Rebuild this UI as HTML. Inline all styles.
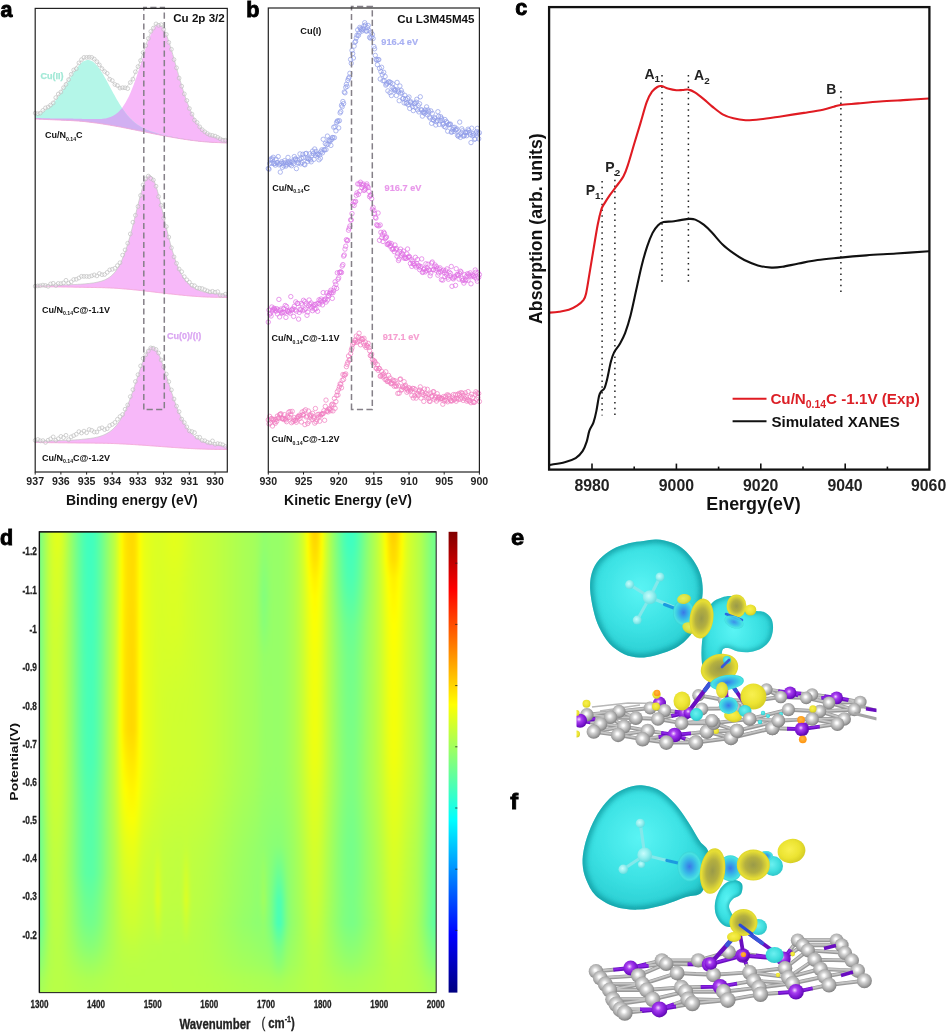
<!DOCTYPE html>
<html><head><meta charset="utf-8"><title>figure</title>
<style>
html,body{margin:0;padding:0;background:#fff;}
body{width:947px;height:1032px;position:relative;overflow:hidden;font-family:"Liberation Sans",sans-serif;}
#hm{position:absolute;left:39.4px;top:531.8px;width:396.8px;height:460.8px;overflow:hidden}
#hmi{position:absolute;left:-6px;top:-6px;width:409px;height:473px;filter:blur(0.8px)}
#hmi i{position:absolute;top:0;height:473px;display:block}
svg{position:absolute;left:0;top:0;filter:blur(0.45px)}
text{font-family:"Liberation Sans",sans-serif;font-weight:bold}
</style></head><body>
<div id="hm"><div id="hmi"><i style="left:0px;width:2.6px;background:linear-gradient(#88ff77 1.3%,#88ff77 4.2%,#88ff77 7.1%,#88ff77 11%,#88ff77 14.9%,#88ff77 20.8%,#88ff77 27.6%,#88ff77 35.4%,#88ff77 43.2%,#88ff77 50%,#85ff7a 55.8%,#80ff7f 61.7%,#7bff84 67.5%,#78ff87 73.4%,#77ff88 79.2%,#73ff8c 84.1%,#84ff7b 88.9%,#93ff6c 92.8%,#a3ff5c 95.8%,#a9ff56 98.7%)"></i><i style="left:2px;width:2.6px;background:linear-gradient(#7cff83 1.3%,#7cff83 4.2%,#7cff83 7.1%,#7cff83 11%,#7cff83 14.9%,#7cff83 20.8%,#7cff83 27.6%,#7cff83 35.4%,#7cff83 43.2%,#7cff83 50%,#7aff85 55.8%,#75ff8a 61.7%,#70ff8f 67.5%,#6dff92 73.4%,#6bff94 79.2%,#68ff97 84.1%,#7cff83 88.9%,#8dff72 92.8%,#a0ff5f 95.8%,#a7ff58 98.7%)"></i><i style="left:4px;width:2.6px;background:linear-gradient(#78ff87 1.3%,#78ff87 4.2%,#78ff87 7.1%,#78ff87 11%,#78ff87 14.9%,#78ff87 20.8%,#78ff87 27.6%,#78ff87 35.4%,#78ff87 43.2%,#78ff87 50%,#76ff89 55.8%,#71ff8e 61.7%,#6cff93 67.5%,#69ff96 73.4%,#67ff98 79.2%,#64ff9b 84.1%,#79ff86 88.9%,#8bff74 92.8%,#9fff60 95.8%,#a6ff59 98.7%)"></i><i style="left:6px;width:2.6px;background:linear-gradient(#7dff82 1.3%,#7dff82 4.2%,#7dff82 7.1%,#7dff82 11%,#7dff82 14.9%,#7dff82 20.8%,#7dff82 27.6%,#7dff82 35.4%,#7dff82 43.2%,#7dff82 50%,#7bff84 55.8%,#76ff89 61.7%,#71ff8e 67.5%,#6eff91 73.4%,#6cff93 79.2%,#69ff96 84.1%,#7dff82 88.9%,#8dff72 92.8%,#a0ff5f 95.8%,#a7ff58 98.7%)"></i><i style="left:8px;width:2.6px;background:linear-gradient(#8aff75 1.3%,#8aff75 4.2%,#8aff75 7.1%,#8aff75 11%,#8aff75 14.9%,#89ff76 20.8%,#89ff76 27.6%,#89ff76 35.4%,#89ff76 43.2%,#89ff76 50%,#87ff78 55.8%,#82ff7d 61.7%,#7dff82 67.5%,#7aff85 73.4%,#79ff86 79.2%,#75ff8a 84.1%,#86ff79 88.9%,#94ff6b 92.8%,#a3ff5c 95.8%,#aaff55 98.7%)"></i><i style="left:10px;width:2.6px;background:linear-gradient(#9bff64 1.3%,#9bff64 4.2%,#9aff65 7.1%,#9aff65 11%,#9aff65 14.9%,#9aff65 20.8%,#99ff66 27.6%,#99ff66 35.4%,#99ff66 43.2%,#99ff66 50%,#97ff68 55.8%,#92ff6d 61.7%,#8dff72 67.5%,#8aff75 73.4%,#89ff76 79.2%,#86ff79 84.1%,#91ff6e 88.9%,#9cff63 92.8%,#a8ff57 95.8%,#adff52 98.7%)"></i><i style="left:12px;width:2.6px;background:linear-gradient(#adff52 1.3%,#acff53 4.2%,#acff53 7.1%,#abff54 11%,#abff54 14.9%,#aaff55 20.8%,#aaff55 27.6%,#aaff55 35.4%,#aaff55 43.2%,#aaff55 50%,#a8ff57 55.8%,#a3ff5c 61.7%,#9eff61 67.5%,#9bff64 73.4%,#99ff66 79.2%,#96ff69 84.1%,#9dff62 88.9%,#a5ff5a 92.8%,#adff52 95.8%,#b0ff4f 98.7%)"></i><i style="left:14px;width:2.6px;background:linear-gradient(#bdff42 1.3%,#bcff43 4.2%,#bcff43 7.1%,#bbff44 11%,#baff45 14.9%,#b9ff46 20.8%,#b8ff47 27.6%,#b8ff47 35.4%,#b8ff47 43.2%,#b8ff47 50%,#b6ff49 55.8%,#b1ff4e 61.7%,#acff53 67.5%,#a9ff56 73.4%,#a8ff57 79.2%,#a4ff5b 84.1%,#a8ff57 88.9%,#acff53 92.8%,#b1ff4e 95.8%,#b3ff4c 98.7%)"></i><i style="left:16px;width:2.6px;background:linear-gradient(#cbff34 1.3%,#caff35 4.2%,#c8ff37 7.1%,#c7ff38 11%,#c6ff39 14.9%,#c4ff3b 20.8%,#c2ff3d 27.6%,#c2ff3d 35.4%,#c2ff3d 43.2%,#c2ff3d 50%,#c0ff3f 55.8%,#bbff44 61.7%,#b6ff49 67.5%,#b3ff4c 73.4%,#b2ff4d 79.2%,#afff50 84.1%,#b0ff4f 88.9%,#b2ff4d 92.8%,#b4ff4b 95.8%,#b5ff4a 98.7%)"></i><i style="left:18px;width:2.6px;background:linear-gradient(#d5ff2a 1.3%,#d4ff2b 4.2%,#d2ff2d 7.1%,#d0ff2f 11%,#cfff30 14.9%,#cbff34 20.8%,#c9ff36 27.6%,#c9ff36 35.4%,#c9ff36 43.2%,#c9ff36 50%,#c7ff38 55.8%,#c2ff3d 61.7%,#bdff42 67.5%,#baff45 73.4%,#b9ff46 79.2%,#b6ff49 84.1%,#b5ff4a 88.9%,#b5ff4a 92.8%,#b6ff49 95.8%,#b7ff48 98.7%)"></i><i style="left:20px;width:2.6px;background:linear-gradient(#ddff22 1.3%,#dbff24 4.2%,#d8ff27 7.1%,#d6ff29 11%,#d4ff2b 14.9%,#cfff30 20.8%,#cdff32 27.6%,#cdff32 35.4%,#cdff32 43.2%,#ccff33 50%,#caff35 55.8%,#c6ff39 61.7%,#c1ff3e 67.5%,#beff41 73.4%,#bdff42 79.2%,#baff45 84.1%,#b7ff48 88.9%,#b7ff48 92.8%,#b8ff47 95.8%,#b8ff47 98.7%)"></i><i style="left:22px;width:2.6px;background:linear-gradient(#e1ff1e 1.3%,#dfff20 4.2%,#dbff24 7.1%,#d8ff27 11%,#d6ff29 14.9%,#d0ff2f 20.8%,#cdff32 27.6%,#cdff32 35.4%,#cdff32 43.2%,#cdff32 50%,#cbff34 55.8%,#c7ff38 61.7%,#c2ff3d 67.5%,#bfff40 73.4%,#beff41 79.2%,#bbff44 84.1%,#b9ff46 88.9%,#b8ff47 92.8%,#b8ff47 95.8%,#b8ff47 98.7%)"></i><i style="left:24px;width:2.6px;background:linear-gradient(#e2ff1d 1.3%,#e0ff1f 4.2%,#dbff24 7.1%,#d8ff27 11%,#d6ff29 14.9%,#cfff30 20.8%,#ccff33 27.6%,#ccff33 35.4%,#ccff33 43.2%,#ccff33 50%,#caff35 55.8%,#c6ff39 61.7%,#c1ff3e 67.5%,#beff41 73.4%,#beff41 79.2%,#bbff44 84.1%,#b9ff46 88.9%,#b8ff47 92.8%,#b8ff47 95.8%,#b8ff47 98.7%)"></i><i style="left:26px;width:2.6px;background:linear-gradient(#deff21 1.3%,#dcff23 4.2%,#d7ff28 7.1%,#d4ff2b 11%,#d2ff2d 14.9%,#cbff34 20.8%,#c8ff37 27.6%,#c8ff37 35.4%,#c8ff37 43.2%,#c8ff37 50%,#c7ff38 55.8%,#c3ff3c 61.7%,#beff41 67.5%,#bbff44 73.4%,#bbff44 79.2%,#b9ff46 84.1%,#b7ff48 88.9%,#b8ff47 92.8%,#b8ff47 95.8%,#b8ff47 98.7%)"></i><i style="left:28px;width:2.6px;background:linear-gradient(#d6ff29 1.3%,#d4ff2b 4.2%,#d0ff2f 7.1%,#cdff32 11%,#cbff34 14.9%,#c5ff3a 20.8%,#c3ff3c 27.6%,#c3ff3c 35.4%,#c3ff3c 43.2%,#c3ff3c 50%,#c2ff3d 55.8%,#beff41 61.7%,#b9ff46 67.5%,#b7ff48 73.4%,#b8ff47 79.2%,#b6ff49 84.1%,#b5ff4a 88.9%,#b7ff48 92.8%,#b8ff47 95.8%,#b8ff47 98.7%)"></i><i style="left:30px;width:2.6px;background:linear-gradient(#caff35 1.3%,#c9ff36 4.2%,#c6ff39 7.1%,#c3ff3c 11%,#c2ff3d 14.9%,#bdff42 20.8%,#bbff44 27.6%,#bcff43 35.4%,#bcff43 43.2%,#bcff43 50%,#bbff44 55.8%,#b8ff47 61.7%,#b4ff4b 67.5%,#b2ff4d 73.4%,#b3ff4c 79.2%,#b2ff4d 84.1%,#b2ff4d 88.9%,#b5ff4a 92.8%,#b7ff48 95.8%,#b7ff48 98.7%)"></i><i style="left:32px;width:2.6px;background:linear-gradient(#bdff42 1.3%,#bcff43 4.2%,#b9ff46 7.1%,#b8ff47 11%,#b7ff48 14.9%,#b4ff4b 20.8%,#b2ff4d 27.6%,#b3ff4c 35.4%,#b3ff4c 43.2%,#b4ff4b 50%,#b3ff4c 55.8%,#b0ff4f 61.7%,#adff52 67.5%,#abff54 73.4%,#adff52 79.2%,#adff52 84.1%,#afff50 88.9%,#b3ff4c 92.8%,#b6ff49 95.8%,#b7ff48 98.7%)"></i><i style="left:34px;width:2.6px;background:linear-gradient(#afff50 1.3%,#aeff51 4.2%,#acff53 7.1%,#abff54 11%,#abff54 14.9%,#a9ff56 20.8%,#a9ff56 27.6%,#a9ff56 35.4%,#a9ff56 43.2%,#aaff55 50%,#aaff55 55.8%,#a8ff57 61.7%,#a5ff5a 67.5%,#a3ff5c 73.4%,#a7ff58 79.2%,#a7ff58 84.1%,#abff54 88.9%,#b1ff4e 92.8%,#b5ff4a 95.8%,#b6ff49 98.7%)"></i><i style="left:36px;width:2.6px;background:linear-gradient(#a0ff5f 1.3%,#a0ff5f 4.2%,#9fff60 7.1%,#9fff60 11%,#9fff60 14.9%,#9eff61 20.8%,#9eff61 27.6%,#9eff61 35.4%,#9fff60 43.2%,#a0ff5f 50%,#a1ff5e 55.8%,#9fff60 61.7%,#9cff63 67.5%,#9bff64 73.4%,#a0ff5f 79.2%,#a2ff5d 84.1%,#a7ff58 88.9%,#afff50 92.8%,#b4ff4b 95.8%,#b6ff49 98.7%)"></i><i style="left:38px;width:2.6px;background:linear-gradient(#92ff6d 1.3%,#92ff6d 4.2%,#92ff6d 7.1%,#92ff6d 11%,#92ff6d 14.9%,#92ff6d 20.8%,#92ff6d 27.6%,#93ff6c 35.4%,#94ff6b 43.2%,#95ff6a 50%,#97ff68 55.8%,#96ff69 61.7%,#93ff6c 67.5%,#93ff6c 73.4%,#99ff66 79.2%,#9bff64 84.1%,#a3ff5c 88.9%,#acff53 92.8%,#b3ff4c 95.8%,#b5ff4a 98.7%)"></i><i style="left:40px;width:2.6px;background:linear-gradient(#85ff7a 1.3%,#85ff7a 4.2%,#85ff7a 7.1%,#85ff7a 11%,#85ff7a 14.9%,#86ff79 20.8%,#87ff78 27.6%,#88ff77 35.4%,#88ff77 43.2%,#8aff75 50%,#8cff73 55.8%,#8cff73 61.7%,#8aff75 67.5%,#8aff75 73.4%,#92ff6d 79.2%,#95ff6a 84.1%,#9fff60 88.9%,#aaff55 92.8%,#b2ff4d 95.8%,#b4ff4b 98.7%)"></i><i style="left:42px;width:2.6px;background:linear-gradient(#78ff87 1.3%,#78ff87 4.2%,#78ff87 7.1%,#78ff87 11%,#79ff86 14.9%,#7aff85 20.8%,#7bff84 27.6%,#7cff83 35.4%,#7cff83 43.2%,#7eff81 50%,#81ff7e 55.8%,#82ff7d 61.7%,#81ff7e 67.5%,#81ff7e 73.4%,#8aff75 79.2%,#8fff70 84.1%,#9bff64 88.9%,#a8ff57 92.8%,#b1ff4e 95.8%,#b4ff4b 98.7%)"></i><i style="left:44px;width:2.6px;background:linear-gradient(#6bff94 1.3%,#6bff94 4.2%,#6cff93 7.1%,#6cff93 11%,#6dff92 14.9%,#6eff91 20.8%,#6fff90 27.6%,#70ff8f 35.4%,#71ff8e 43.2%,#73ff8c 50%,#77ff88 55.8%,#78ff87 61.7%,#77ff88 67.5%,#78ff87 73.4%,#83ff7c 79.2%,#89ff76 84.1%,#96ff69 88.9%,#a6ff59 92.8%,#b0ff4f 95.8%,#b3ff4c 98.7%)"></i><i style="left:46px;width:2.6px;background:linear-gradient(#60ff9f 1.3%,#60ff9f 4.2%,#60ff9f 7.1%,#60ff9f 11%,#61ff9e 14.9%,#62ff9d 20.8%,#64ff9b 27.6%,#65ff9a 35.4%,#66ff99 43.2%,#68ff97 50%,#6dff92 55.8%,#6fff90 61.7%,#6fff90 67.5%,#70ff8f 73.4%,#7cff83 79.2%,#83ff7c 84.1%,#92ff6d 88.9%,#a3ff5c 92.8%,#afff50 95.8%,#b3ff4c 98.7%)"></i><i style="left:48px;width:2.6px;background:linear-gradient(#55ffaa 1.3%,#55ffaa 4.2%,#56ffa9 7.1%,#56ffa9 11%,#57ffa8 14.9%,#58ffa7 20.8%,#5affa5 27.6%,#5bffa4 35.4%,#5cffa3 43.2%,#5fffa0 50%,#64ff9b 55.8%,#67ff98 61.7%,#67ff98 67.5%,#68ff97 73.4%,#76ff89 79.2%,#7dff82 84.1%,#8fff70 88.9%,#a2ff5d 92.8%,#afff50 95.8%,#b2ff4d 98.7%)"></i><i style="left:50px;width:2.6px;background:linear-gradient(#4cffb3 1.3%,#4dffb2 4.2%,#4dffb2 7.1%,#4dffb2 11%,#4effb1 14.9%,#50ffaf 20.8%,#51ffae 27.6%,#53ffac 35.4%,#54ffab 43.2%,#57ffa8 50%,#5cffa3 55.8%,#60ff9f 61.7%,#60ff9f 67.5%,#62ff9d 73.4%,#70ff8f 79.2%,#79ff86 84.1%,#8cff73 88.9%,#a0ff5f 92.8%,#aeff51 95.8%,#b2ff4d 98.7%)"></i><i style="left:52px;width:2.6px;background:linear-gradient(#46ffb9 1.3%,#46ffb9 4.2%,#46ffb9 7.1%,#47ffb8 11%,#48ffb7 14.9%,#49ffb6 20.8%,#4bffb4 27.6%,#4dffb2 35.4%,#4effb1 43.2%,#50ffaf 50%,#56ffa9 55.8%,#5bffa4 61.7%,#5bffa4 67.5%,#5dffa2 73.4%,#6cff93 79.2%,#76ff89 84.1%,#8aff75 88.9%,#9fff60 92.8%,#adff52 95.8%,#b2ff4d 98.7%)"></i><i style="left:54px;width:2.6px;background:linear-gradient(#42ffbd 1.3%,#42ffbd 4.2%,#42ffbd 7.1%,#43ffbc 11%,#44ffbb 14.9%,#45ffba 20.8%,#47ffb8 27.6%,#49ffb6 35.4%,#4affb5 43.2%,#4dffb2 50%,#53ffac 55.8%,#57ffa8 61.7%,#58ffa7 67.5%,#5bffa4 73.4%,#6aff95 79.2%,#74ff8b 84.1%,#88ff77 88.9%,#9eff61 92.8%,#adff52 95.8%,#b2ff4d 98.7%)"></i><i style="left:56px;width:2.6px;background:linear-gradient(#40ffbf 1.3%,#41ffbe 4.2%,#41ffbe 7.1%,#41ffbe 11%,#42ffbd 14.9%,#44ffbb 20.8%,#46ffb9 27.6%,#48ffb7 35.4%,#49ffb6 43.2%,#4bffb4 50%,#52ffad 55.8%,#56ffa9 61.7%,#57ffa8 67.5%,#5affa5 73.4%,#69ff96 79.2%,#73ff8c 84.1%,#88ff77 88.9%,#9eff61 92.8%,#adff52 95.8%,#b1ff4e 98.7%)"></i><i style="left:58px;width:2.6px;background:linear-gradient(#42ffbd 1.3%,#42ffbd 4.2%,#42ffbd 7.1%,#43ffbc 11%,#44ffbb 14.9%,#45ffba 20.8%,#47ffb8 27.6%,#49ffb6 35.4%,#4affb5 43.2%,#4dffb2 50%,#53ffac 55.8%,#57ffa8 61.7%,#58ffa7 67.5%,#5bffa4 73.4%,#6aff95 79.2%,#74ff8b 84.1%,#88ff77 88.9%,#9eff61 92.8%,#adff52 95.8%,#b2ff4d 98.7%)"></i><i style="left:60px;width:2.6px;background:linear-gradient(#46ffb9 1.3%,#46ffb9 4.2%,#47ffb8 7.1%,#47ffb8 11%,#48ffb7 14.9%,#4affb5 20.8%,#4bffb4 27.6%,#4dffb2 35.4%,#4effb1 43.2%,#51ffae 50%,#57ffa8 55.8%,#5bffa4 61.7%,#5cffa3 67.5%,#5effa1 73.4%,#6dff92 79.2%,#76ff89 84.1%,#8aff75 88.9%,#9fff60 92.8%,#adff52 95.8%,#b2ff4d 98.7%)"></i><i style="left:62px;width:2.6px;background:linear-gradient(#4dffb2 1.3%,#4dffb2 4.2%,#4effb1 7.1%,#4effb1 11%,#4fffb0 14.9%,#50ffaf 20.8%,#52ffad 27.6%,#54ffab 35.4%,#55ffaa 43.2%,#57ffa8 50%,#5dffa2 55.8%,#61ff9e 61.7%,#61ff9e 67.5%,#63ff9c 73.4%,#71ff8e 79.2%,#79ff86 84.1%,#8cff73 88.9%,#a0ff5f 92.8%,#aeff51 95.8%,#b2ff4d 98.7%)"></i><i style="left:64px;width:2.6px;background:linear-gradient(#57ffa8 1.3%,#57ffa8 4.2%,#57ffa8 7.1%,#57ffa8 11%,#58ffa7 14.9%,#59ffa6 20.8%,#5bffa4 27.6%,#5dffa2 35.4%,#5dffa2 43.2%,#60ff9f 50%,#65ff9a 55.8%,#68ff97 61.7%,#68ff97 67.5%,#69ff96 73.4%,#76ff89 79.2%,#7eff81 84.1%,#8fff70 88.9%,#a2ff5d 92.8%,#afff50 95.8%,#b2ff4d 98.7%)"></i><i style="left:66px;width:2.6px;background:linear-gradient(#61ff9e 1.3%,#62ff9d 4.2%,#62ff9d 7.1%,#62ff9d 11%,#63ff9c 14.9%,#64ff9b 20.8%,#66ff99 27.6%,#67ff98 35.4%,#68ff97 43.2%,#6aff95 50%,#6eff91 55.8%,#71ff8e 61.7%,#70ff8f 67.5%,#71ff8e 73.4%,#7dff82 79.2%,#83ff7c 84.1%,#93ff6c 88.9%,#a4ff5b 92.8%,#afff50 95.8%,#b3ff4c 98.7%)"></i><i style="left:68px;width:2.6px;background:linear-gradient(#6eff91 1.3%,#6eff91 4.2%,#6eff91 7.1%,#6eff91 11%,#6fff90 14.9%,#70ff8f 20.8%,#71ff8e 27.6%,#73ff8c 35.4%,#73ff8c 43.2%,#75ff8a 50%,#79ff86 55.8%,#7aff85 61.7%,#79ff86 67.5%,#79ff86 73.4%,#84ff7b 79.2%,#89ff76 84.1%,#97ff68 88.9%,#a6ff59 92.8%,#b0ff4f 95.8%,#b3ff4c 98.7%)"></i><i style="left:70px;width:2.6px;background:linear-gradient(#7bff84 1.3%,#7bff84 4.2%,#7bff84 7.1%,#7bff84 11%,#7cff83 14.9%,#7dff82 20.8%,#7eff81 27.6%,#7fff80 35.4%,#80ff7f 43.2%,#81ff7e 50%,#84ff7b 55.8%,#85ff7a 61.7%,#83ff7c 67.5%,#82ff7d 73.4%,#8bff74 79.2%,#90ff6f 84.1%,#9bff64 88.9%,#a8ff57 92.8%,#b1ff4e 95.8%,#b4ff4b 98.7%)"></i><i style="left:72px;width:2.6px;background:linear-gradient(#88ff77 1.3%,#88ff77 4.2%,#88ff77 7.1%,#88ff77 11%,#89ff76 14.9%,#8aff75 20.8%,#8bff74 27.6%,#8cff73 35.4%,#8cff73 43.2%,#8eff71 50%,#90ff6f 55.8%,#8fff70 61.7%,#8cff73 67.5%,#8cff73 73.4%,#93ff6c 79.2%,#96ff69 84.1%,#9fff60 88.9%,#aaff55 92.8%,#b2ff4d 95.8%,#b4ff4b 98.7%)"></i><i style="left:74px;width:2.6px;background:linear-gradient(#95ff6a 1.3%,#95ff6a 4.2%,#95ff6a 7.1%,#96ff69 11%,#96ff69 14.9%,#97ff68 20.8%,#97ff68 27.6%,#98ff67 35.4%,#99ff66 43.2%,#9aff65 50%,#9bff64 55.8%,#9aff65 61.7%,#96ff69 67.5%,#95ff6a 73.4%,#9aff65 79.2%,#9dff62 84.1%,#a3ff5c 88.9%,#acff53 92.8%,#b3ff4c 95.8%,#b5ff4a 98.7%)"></i><i style="left:76px;width:2.6px;background:linear-gradient(#a2ff5d 1.3%,#a2ff5d 4.2%,#a2ff5d 7.1%,#a2ff5d 11%,#a2ff5d 14.9%,#a3ff5c 20.8%,#a4ff5b 27.6%,#a4ff5b 35.4%,#a5ff5a 43.2%,#a6ff59 50%,#a6ff59 55.8%,#a4ff5b 61.7%,#9fff60 67.5%,#9dff62 73.4%,#a1ff5e 79.2%,#a3ff5c 84.1%,#a7ff58 88.9%,#aeff51 92.8%,#b4ff4b 95.8%,#b5ff4a 98.7%)"></i><i style="left:78px;width:2.6px;background:linear-gradient(#aeff51 1.3%,#aeff51 4.2%,#aeff51 7.1%,#aeff51 11%,#aeff51 14.9%,#afff50 20.8%,#afff50 27.6%,#b0ff4f 35.4%,#b0ff4f 43.2%,#b1ff4e 50%,#b1ff4e 55.8%,#adff52 61.7%,#a8ff57 67.5%,#a5ff5a 73.4%,#a8ff57 79.2%,#a8ff57 84.1%,#abff54 88.9%,#b0ff4f 92.8%,#b4ff4b 95.8%,#b6ff49 98.7%)"></i><i style="left:80px;width:2.6px;background:linear-gradient(#baff45 1.3%,#baff45 4.2%,#baff45 7.1%,#baff45 11%,#bbff44 14.9%,#bbff44 20.8%,#bbff44 27.6%,#bcff43 35.4%,#bcff43 43.2%,#bcff43 50%,#bbff44 55.8%,#b7ff48 61.7%,#b0ff4f 67.5%,#adff52 73.4%,#aeff51 79.2%,#aeff51 84.1%,#aeff51 88.9%,#b2ff4d 92.8%,#b5ff4a 95.8%,#b6ff49 98.7%)"></i><i style="left:82px;width:2.6px;background:linear-gradient(#c9ff36 1.3%,#c9ff36 4.2%,#c9ff36 7.1%,#c9ff36 11%,#c9ff36 14.9%,#c9ff36 20.8%,#caff35 27.6%,#caff35 35.4%,#caff35 43.2%,#c9ff36 50%,#c7ff38 55.8%,#c1ff3e 61.7%,#b9ff46 67.5%,#b5ff4a 73.4%,#b5ff4a 79.2%,#b3ff4c 84.1%,#b2ff4d 88.9%,#b4ff4b 92.8%,#b6ff49 95.8%,#b6ff49 98.7%)"></i><i style="left:84px;width:2.6px;background:linear-gradient(#dbff24 1.3%,#dbff24 4.2%,#dbff24 7.1%,#dbff24 11%,#dbff24 14.9%,#dcff23 20.8%,#ddff22 27.6%,#ddff22 35.4%,#ddff22 43.2%,#d9ff26 50%,#d4ff2b 55.8%,#ccff33 61.7%,#c3ff3c 67.5%,#beff41 73.4%,#bcff43 79.2%,#b8ff47 84.1%,#b5ff4a 88.9%,#b5ff4a 92.8%,#b6ff49 95.8%,#b7ff48 98.7%)"></i><i style="left:86px;width:2.6px;background:linear-gradient(#f1ff0e 1.3%,#f0ff0f 4.2%,#f0ff0f 7.1%,#f0ff0f 11%,#f0ff0f 14.9%,#f1ff0e 20.8%,#f2ff0d 27.6%,#f3ff0c 35.4%,#f3ff0c 43.2%,#eaff15 50%,#e3ff1c 55.8%,#d9ff26 61.7%,#ceff31 67.5%,#c7ff38 73.4%,#c2ff3d 79.2%,#beff41 84.1%,#b8ff47 88.9%,#b6ff49 92.8%,#b7ff48 95.8%,#b7ff48 98.7%)"></i><i style="left:88px;width:2.6px;background:linear-gradient(#fffa00 1.3%,#fffa00 4.2%,#fffb00 7.1%,#fffb00 11%,#fffb00 14.9%,#fffa00 20.8%,#fff800 27.6%,#fff800 35.4%,#fff800 43.2%,#faff05 50%,#f0ff0f 55.8%,#e5ff1a 61.7%,#d8ff27 67.5%,#d0ff2f 73.4%,#c9ff36 79.2%,#c3ff3c 84.1%,#bbff44 88.9%,#b8ff47 92.8%,#b7ff48 95.8%,#b7ff48 98.7%)"></i><i style="left:90px;width:2.6px;background:linear-gradient(#ffec00 1.3%,#ffec00 4.2%,#ffed00 7.1%,#ffee00 11%,#ffed00 14.9%,#ffeb00 20.8%,#ffea00 27.6%,#ffe900 35.4%,#ffe900 43.2%,#fff800 50%,#faff05 55.8%,#edff12 61.7%,#dfff20 67.5%,#d6ff29 73.4%,#cdff32 79.2%,#c6ff39 84.1%,#bdff42 88.9%,#b9ff46 92.8%,#b7ff48 95.8%,#b7ff48 98.7%)"></i><i style="left:92px;width:2.6px;background:linear-gradient(#ffe300 1.3%,#ffe400 4.2%,#ffe500 7.1%,#ffe500 11%,#ffe500 14.9%,#ffe300 20.8%,#ffe100 27.6%,#ffe100 35.4%,#ffe100 43.2%,#fff000 50%,#fffd00 55.8%,#f3ff0c 61.7%,#e4ff1b 67.5%,#daff25 73.4%,#d0ff2f 79.2%,#c9ff36 84.1%,#beff41 88.9%,#b9ff46 92.8%,#b8ff47 95.8%,#b7ff48 98.7%)"></i><i style="left:94px;width:2.6px;background:linear-gradient(#ffde00 1.3%,#ffdf00 4.2%,#ffe000 7.1%,#ffe000 11%,#ffe000 14.9%,#ffde00 20.8%,#ffdd00 27.6%,#ffdc00 35.4%,#ffdc00 43.2%,#ffec00 50%,#fff900 55.8%,#f6ff09 61.7%,#e7ff18 67.5%,#dcff23 73.4%,#d2ff2d 79.2%,#cbff34 84.1%,#bfff40 88.9%,#baff45 92.8%,#b8ff47 95.8%,#b7ff48 98.7%)"></i><i style="left:96px;width:2.6px;background:linear-gradient(#ffdb00 1.3%,#ffdc00 4.2%,#ffdd00 7.1%,#ffdd00 11%,#ffdd00 14.9%,#ffdb00 20.8%,#ffda00 27.6%,#ffd900 35.4%,#ffd900 43.2%,#ffe900 50%,#fff600 55.8%,#f9ff06 61.7%,#e9ff16 67.5%,#deff21 73.4%,#d4ff2b 79.2%,#ccff33 84.1%,#c0ff3f 88.9%,#baff45 92.8%,#b8ff47 95.8%,#b7ff48 98.7%)"></i><i style="left:98px;width:2.6px;background:linear-gradient(#ffda00 1.3%,#ffda00 4.2%,#ffdb00 7.1%,#ffdc00 11%,#ffdc00 14.9%,#ffda00 20.8%,#ffd800 27.6%,#ffd800 35.4%,#ffd800 43.2%,#ffe800 50%,#fff500 55.8%,#faff05 61.7%,#eaff15 67.5%,#dfff20 73.4%,#d4ff2b 79.2%,#ccff33 84.1%,#c0ff3f 88.9%,#baff45 92.8%,#b8ff47 95.8%,#b8ff47 98.7%)"></i><i style="left:100px;width:2.6px;background:linear-gradient(#ffdc00 1.3%,#ffdd00 4.2%,#ffdd00 7.1%,#ffde00 11%,#ffde00 14.9%,#ffdc00 20.8%,#ffdb00 27.6%,#ffda00 35.4%,#ffda00 43.2%,#ffe900 50%,#fff600 55.8%,#f9ff06 61.7%,#e9ff16 67.5%,#dfff20 73.4%,#d4ff2b 79.2%,#ccff33 84.1%,#c0ff3f 88.9%,#baff45 92.8%,#b8ff47 95.8%,#b8ff47 98.7%)"></i><i style="left:102px;width:2.6px;background:linear-gradient(#ffe400 1.3%,#ffe400 4.2%,#ffe500 7.1%,#ffe600 11%,#ffe500 14.9%,#ffe400 20.8%,#ffe300 27.6%,#ffe200 35.4%,#ffe200 43.2%,#ffef00 50%,#fffa00 55.8%,#f6ff09 61.7%,#e6ff19 67.5%,#dcff23 73.4%,#d3ff2c 79.2%,#cbff34 84.1%,#c0ff3f 88.9%,#baff45 92.8%,#b8ff47 95.8%,#b8ff47 98.7%)"></i><i style="left:104px;width:2.6px;background:linear-gradient(#fff100 1.3%,#fff100 4.2%,#fff200 7.1%,#fff200 11%,#fff200 14.9%,#fff100 20.8%,#fff000 27.6%,#fff000 35.4%,#fff000 43.2%,#fff900 50%,#fcff03 55.8%,#efff10 61.7%,#e1ff1e 67.5%,#d7ff28 73.4%,#d0ff2f 79.2%,#c9ff36 84.1%,#bfff40 88.9%,#baff45 92.8%,#b8ff47 95.8%,#b8ff47 98.7%)"></i><i style="left:106px;width:2.6px;background:linear-gradient(#feff01 1.3%,#feff01 4.2%,#feff01 7.1%,#fdff02 11%,#feff01 14.9%,#feff01 20.8%,#ffff00 27.6%,#ffff00 35.4%,#ffff00 43.2%,#faff05 50%,#f3ff0c 55.8%,#e8ff17 61.7%,#dbff24 67.5%,#d2ff2d 73.4%,#cdff32 79.2%,#c7ff38 84.1%,#bdff42 88.9%,#b9ff46 92.8%,#b8ff47 95.8%,#b8ff47 98.7%)"></i><i style="left:108px;width:2.6px;background:linear-gradient(#f2ff0d 1.3%,#f2ff0d 4.2%,#f2ff0d 7.1%,#f2ff0d 11%,#f2ff0d 14.9%,#f2ff0d 20.8%,#f2ff0d 27.6%,#f2ff0d 35.4%,#f2ff0d 43.2%,#f1ff0e 50%,#ebff14 55.8%,#e1ff1e 61.7%,#d6ff29 67.5%,#ceff31 73.4%,#caff35 79.2%,#c5ff3a 84.1%,#bcff43 88.9%,#b9ff46 92.8%,#b8ff47 95.8%,#b8ff47 98.7%)"></i><i style="left:110px;width:2.6px;background:linear-gradient(#ebff14 1.3%,#ebff14 4.2%,#ebff14 7.1%,#ebff14 11%,#ebff14 14.9%,#ebff14 20.8%,#ebff14 27.6%,#ebff14 35.4%,#ebff14 43.2%,#ebff14 50%,#e6ff19 55.8%,#ddff22 61.7%,#d3ff2c 67.5%,#cbff34 73.4%,#c8ff37 79.2%,#c3ff3c 84.1%,#bcff43 88.9%,#b9ff46 92.8%,#b8ff47 95.8%,#b8ff47 98.7%)"></i><i style="left:112px;width:2.6px;background:linear-gradient(#e7ff18 1.3%,#e7ff18 4.2%,#e7ff18 7.1%,#e7ff18 11%,#e7ff18 14.9%,#e7ff18 20.8%,#e7ff18 27.6%,#e7ff18 35.4%,#e7ff18 43.2%,#e7ff18 50%,#e3ff1c 55.8%,#daff25 61.7%,#d0ff2f 67.5%,#caff35 73.4%,#c7ff38 79.2%,#c2ff3d 84.1%,#bbff44 88.9%,#b9ff46 92.8%,#b8ff47 95.8%,#b8ff47 98.7%)"></i><i style="left:114px;width:2.6px;background:linear-gradient(#e4ff1b 1.3%,#e4ff1b 4.2%,#e4ff1b 7.1%,#e4ff1b 11%,#e4ff1b 14.9%,#e4ff1b 20.8%,#e4ff1b 27.6%,#e4ff1b 35.4%,#e4ff1b 43.2%,#e4ff1b 50%,#e0ff1f 55.8%,#d8ff27 61.7%,#cfff30 67.5%,#c8ff37 73.4%,#c5ff3a 79.2%,#c1ff3e 84.1%,#bbff44 88.9%,#b8ff47 92.8%,#b8ff47 95.8%,#b8ff47 98.7%)"></i><i style="left:116px;width:2.6px;background:linear-gradient(#e2ff1d 1.3%,#e2ff1d 4.2%,#e1ff1e 7.1%,#e1ff1e 11%,#e1ff1e 14.9%,#e1ff1e 20.8%,#e1ff1e 27.6%,#e1ff1e 35.4%,#e1ff1e 43.2%,#e1ff1e 50%,#ddff22 55.8%,#d5ff2a 61.7%,#cdff32 67.5%,#c7ff38 73.4%,#c4ff3b 79.2%,#c0ff3f 84.1%,#baff45 88.9%,#b8ff47 92.8%,#b8ff47 95.8%,#b8ff47 98.7%)"></i><i style="left:118px;width:2.6px;background:linear-gradient(#dfff20 1.3%,#dfff20 4.2%,#dfff20 7.1%,#dfff20 11%,#dfff20 14.9%,#dfff20 20.8%,#deff21 27.6%,#deff21 35.4%,#deff21 43.2%,#deff21 50%,#daff25 55.8%,#d3ff2c 61.7%,#cbff34 67.5%,#c7ff38 73.4%,#c4ff3b 79.2%,#c0ff3f 84.1%,#baff45 88.9%,#b8ff47 92.8%,#b8ff47 95.8%,#b8ff47 98.7%)"></i><i style="left:120px;width:2.6px;background:linear-gradient(#ddff22 1.3%,#ddff22 4.2%,#ddff22 7.1%,#ddff22 11%,#dcff23 14.9%,#dcff23 20.8%,#dcff23 27.6%,#dbff24 35.4%,#dbff24 43.2%,#dbff24 50%,#d8ff27 55.8%,#d1ff2e 61.7%,#caff35 67.5%,#c9ff36 73.4%,#c9ff36 79.2%,#c2ff3d 84.1%,#baff45 88.9%,#b8ff47 92.8%,#b8ff47 95.8%,#b8ff47 98.7%)"></i><i style="left:122px;width:2.6px;background:linear-gradient(#dcff23 1.3%,#dcff23 4.2%,#dcff23 7.1%,#dbff24 11%,#dbff24 14.9%,#daff25 20.8%,#daff25 27.6%,#d9ff26 35.4%,#d9ff26 43.2%,#d9ff26 50%,#d6ff29 55.8%,#cfff30 61.7%,#caff35 67.5%,#d2ff2d 73.4%,#d7ff28 79.2%,#c8ff37 84.1%,#b9ff46 88.9%,#b8ff47 92.8%,#b8ff47 95.8%,#b8ff47 98.7%)"></i><i style="left:124px;width:2.6px;background:linear-gradient(#dcff23 1.3%,#dbff24 4.2%,#dbff24 7.1%,#daff25 11%,#daff25 14.9%,#d9ff26 20.8%,#d8ff27 27.6%,#d7ff28 35.4%,#d6ff29 43.2%,#d6ff29 50%,#d4ff2b 55.8%,#ceff31 61.7%,#caff35 67.5%,#d7ff28 73.4%,#dfff20 79.2%,#ccff33 84.1%,#b9ff46 88.9%,#b8ff47 92.8%,#b8ff47 95.8%,#b8ff47 98.7%)"></i><i style="left:126px;width:2.6px;background:linear-gradient(#dcff23 1.3%,#dbff24 4.2%,#dbff24 7.1%,#daff25 11%,#d9ff26 14.9%,#d8ff27 20.8%,#d7ff28 27.6%,#d5ff2a 35.4%,#d5ff2a 43.2%,#d5ff2a 50%,#d2ff2d 55.8%,#ccff33 61.7%,#c8ff37 67.5%,#cfff30 73.4%,#d4ff2b 79.2%,#c7ff38 84.1%,#b9ff46 88.9%,#b8ff47 92.8%,#b8ff47 95.8%,#b8ff47 98.7%)"></i><i style="left:128px;width:2.6px;background:linear-gradient(#dcff23 1.3%,#dcff23 4.2%,#dbff24 7.1%,#daff25 11%,#d9ff26 14.9%,#d8ff27 20.8%,#d6ff29 27.6%,#d4ff2b 35.4%,#d3ff2c 43.2%,#d3ff2c 50%,#d1ff2e 55.8%,#cbff34 61.7%,#c6ff39 67.5%,#c5ff3a 73.4%,#c6ff39 79.2%,#bfff40 84.1%,#b9ff46 88.9%,#b8ff47 92.8%,#b8ff47 95.8%,#b8ff47 98.7%)"></i><i style="left:130px;width:2.6px;background:linear-gradient(#deff21 1.3%,#ddff22 4.2%,#dcff23 7.1%,#daff25 11%,#d9ff26 14.9%,#d8ff27 20.8%,#d6ff29 27.6%,#d3ff2c 35.4%,#d2ff2d 43.2%,#d2ff2d 50%,#d0ff2f 55.8%,#caff35 61.7%,#c4ff3b 67.5%,#c2ff3d 73.4%,#c0ff3f 79.2%,#bcff43 84.1%,#b8ff47 88.9%,#b8ff47 92.8%,#b8ff47 95.8%,#b8ff47 98.7%)"></i><i style="left:132px;width:2.6px;background:linear-gradient(#dfff20 1.3%,#deff21 4.2%,#ddff22 7.1%,#dbff24 11%,#daff25 14.9%,#d9ff26 20.8%,#d6ff29 27.6%,#d2ff2d 35.4%,#d1ff2e 43.2%,#d1ff2e 50%,#cfff30 55.8%,#c9ff36 61.7%,#c4ff3b 67.5%,#c1ff3e 73.4%,#bfff40 79.2%,#bbff44 84.1%,#b8ff47 88.9%,#b8ff47 92.8%,#b8ff47 95.8%,#b8ff47 98.7%)"></i><i style="left:134px;width:2.6px;background:linear-gradient(#e1ff1e 1.3%,#e0ff1f 4.2%,#deff21 7.1%,#dcff23 11%,#daff25 14.9%,#d9ff26 20.8%,#d6ff29 27.6%,#d1ff2e 35.4%,#d0ff2f 43.2%,#d0ff2f 50%,#ceff31 55.8%,#c9ff36 61.7%,#c3ff3c 67.5%,#c0ff3f 73.4%,#bfff40 79.2%,#bbff44 84.1%,#b8ff47 88.9%,#b8ff47 92.8%,#b8ff47 95.8%,#b8ff47 98.7%)"></i><i style="left:136px;width:2.6px;background:linear-gradient(#e2ff1d 1.3%,#e1ff1e 4.2%,#dfff20 7.1%,#ddff22 11%,#dbff24 14.9%,#daff25 20.8%,#d6ff29 27.6%,#d1ff2e 35.4%,#d0ff2f 43.2%,#d0ff2f 50%,#ceff31 55.8%,#c8ff37 61.7%,#c3ff3c 67.5%,#c0ff3f 73.4%,#beff41 79.2%,#bbff44 84.1%,#b8ff47 88.9%,#b7ff48 92.8%,#b8ff47 95.8%,#b8ff47 98.7%)"></i><i style="left:138px;width:2.6px;background:linear-gradient(#e3ff1c 1.3%,#e2ff1d 4.2%,#e0ff1f 7.1%,#ddff22 11%,#dbff24 14.9%,#daff25 20.8%,#d6ff29 27.6%,#d1ff2e 35.4%,#cfff30 43.2%,#cfff30 50%,#cdff32 55.8%,#c8ff37 61.7%,#c3ff3c 67.5%,#c0ff3f 73.4%,#beff41 79.2%,#bbff44 84.1%,#b8ff47 88.9%,#b7ff48 92.8%,#b7ff48 95.8%,#b8ff47 98.7%)"></i><i style="left:140px;width:2.6px;background:linear-gradient(#e3ff1c 1.3%,#e3ff1c 4.2%,#e0ff1f 7.1%,#ddff22 11%,#dbff24 14.9%,#daff25 20.8%,#d5ff2a 27.6%,#d0ff2f 35.4%,#cfff30 43.2%,#cfff30 50%,#cdff32 55.8%,#c8ff37 61.7%,#c2ff3d 67.5%,#c0ff3f 73.4%,#beff41 79.2%,#bbff44 84.1%,#b8ff47 88.9%,#b7ff48 92.8%,#b7ff48 95.8%,#b8ff47 98.7%)"></i><i style="left:142px;width:2.6px;background:linear-gradient(#e3ff1c 1.3%,#e2ff1d 4.2%,#e0ff1f 7.1%,#ddff22 11%,#dbff24 14.9%,#daff25 20.8%,#d5ff2a 27.6%,#d0ff2f 35.4%,#cfff30 43.2%,#cfff30 50%,#cdff32 55.8%,#c7ff38 61.7%,#c2ff3d 67.5%,#bfff40 73.4%,#beff41 79.2%,#baff45 84.1%,#b8ff47 88.9%,#b7ff48 92.8%,#b7ff48 95.8%,#b7ff48 98.7%)"></i><i style="left:144px;width:2.6px;background:linear-gradient(#e2ff1d 1.3%,#e1ff1e 4.2%,#dfff20 7.1%,#dcff23 11%,#daff25 14.9%,#d9ff26 20.8%,#d5ff2a 27.6%,#d0ff2f 35.4%,#ceff31 43.2%,#ceff31 50%,#ccff33 55.8%,#c7ff38 61.7%,#c2ff3d 67.5%,#bfff40 73.4%,#beff41 79.2%,#baff45 84.1%,#b8ff47 88.9%,#b7ff48 92.8%,#b7ff48 95.8%,#b7ff48 98.7%)"></i><i style="left:146px;width:2.6px;background:linear-gradient(#e0ff1f 1.3%,#e0ff1f 4.2%,#deff21 7.1%,#dbff24 11%,#d9ff26 14.9%,#d8ff27 20.8%,#d4ff2b 27.6%,#cfff30 35.4%,#ceff31 43.2%,#ceff31 50%,#ccff33 55.8%,#c7ff38 61.7%,#c2ff3d 67.5%,#bfff40 73.4%,#beff41 79.2%,#baff45 84.1%,#b8ff47 88.9%,#b7ff48 92.8%,#b7ff48 95.8%,#b7ff48 98.7%)"></i><i style="left:148px;width:2.6px;background:linear-gradient(#deff21 1.3%,#ddff22 4.2%,#dcff23 7.1%,#d9ff26 11%,#d8ff27 14.9%,#d7ff28 20.8%,#d3ff2c 27.6%,#cfff30 35.4%,#ceff31 43.2%,#ceff31 50%,#ccff33 55.8%,#c7ff38 61.7%,#c2ff3d 67.5%,#c2ff3d 73.4%,#c2ff3d 79.2%,#bdff42 84.1%,#b7ff48 88.9%,#b7ff48 92.8%,#b7ff48 95.8%,#b7ff48 98.7%)"></i><i style="left:150px;width:2.6px;background:linear-gradient(#dbff24 1.3%,#dbff24 4.2%,#d9ff26 7.1%,#d7ff28 11%,#d6ff29 14.9%,#d5ff2a 20.8%,#d2ff2d 27.6%,#cfff30 35.4%,#ceff31 43.2%,#ceff31 50%,#cbff34 55.8%,#c7ff38 61.7%,#c3ff3c 67.5%,#cbff34 73.4%,#d0ff2f 79.2%,#c3ff3c 84.1%,#b7ff48 88.9%,#b7ff48 92.8%,#b7ff48 95.8%,#b7ff48 98.7%)"></i><i style="left:152px;width:2.6px;background:linear-gradient(#d9ff26 1.3%,#d8ff27 4.2%,#d7ff28 7.1%,#d5ff2a 11%,#d4ff2b 14.9%,#d3ff2c 20.8%,#d1ff2e 27.6%,#ceff31 35.4%,#cdff32 43.2%,#cdff32 50%,#cbff34 55.8%,#c6ff39 61.7%,#c4ff3b 67.5%,#d2ff2d 73.4%,#dbff24 79.2%,#c9ff36 84.1%,#b7ff48 88.9%,#b7ff48 92.8%,#b7ff48 95.8%,#b7ff48 98.7%)"></i><i style="left:154px;width:2.6px;background:linear-gradient(#d6ff29 1.3%,#d6ff29 4.2%,#d5ff2a 7.1%,#d3ff2c 11%,#d2ff2d 14.9%,#d2ff2d 20.8%,#d0ff2f 27.6%,#ceff31 35.4%,#cdff32 43.2%,#cdff32 50%,#cbff34 55.8%,#c6ff39 61.7%,#c3ff3c 67.5%,#ccff33 73.4%,#d3ff2c 79.2%,#c4ff3b 84.1%,#b7ff48 88.9%,#b7ff48 92.8%,#b7ff48 95.8%,#b7ff48 98.7%)"></i><i style="left:156px;width:2.6px;background:linear-gradient(#d4ff2b 1.3%,#d3ff2c 4.2%,#d3ff2c 7.1%,#d1ff2e 11%,#d1ff2e 14.9%,#d0ff2f 20.8%,#cfff30 27.6%,#cdff32 35.4%,#cdff32 43.2%,#cdff32 50%,#caff35 55.8%,#c5ff3a 61.7%,#c1ff3e 67.5%,#c2ff3d 73.4%,#c4ff3b 79.2%,#bcff43 84.1%,#b6ff49 88.9%,#b6ff49 92.8%,#b7ff48 95.8%,#b7ff48 98.7%)"></i><i style="left:158px;width:2.6px;background:linear-gradient(#d1ff2e 1.3%,#d1ff2e 4.2%,#d1ff2e 7.1%,#d0ff2f 11%,#cfff30 14.9%,#cfff30 20.8%,#ceff31 27.6%,#cdff32 35.4%,#ccff33 43.2%,#ccff33 50%,#caff35 55.8%,#c5ff3a 61.7%,#c0ff3f 67.5%,#beff41 73.4%,#bdff42 79.2%,#b9ff46 84.1%,#b6ff49 88.9%,#b6ff49 92.8%,#b7ff48 95.8%,#b7ff48 98.7%)"></i><i style="left:160px;width:2.6px;background:linear-gradient(#cfff30 1.3%,#cfff30 4.2%,#cfff30 7.1%,#ceff31 11%,#ceff31 14.9%,#ceff31 20.8%,#cdff32 27.6%,#ccff33 35.4%,#ccff33 43.2%,#ccff33 50%,#caff35 55.8%,#c5ff3a 61.7%,#bfff40 67.5%,#bdff42 73.4%,#bbff44 79.2%,#b8ff47 84.1%,#b6ff49 88.9%,#b6ff49 92.8%,#b7ff48 95.8%,#b7ff48 98.7%)"></i><i style="left:162px;width:2.6px;background:linear-gradient(#ceff31 1.3%,#cdff32 4.2%,#cdff32 7.1%,#cdff32 11%,#cdff32 14.9%,#ccff33 20.8%,#ccff33 27.6%,#cbff34 35.4%,#cbff34 43.2%,#cbff34 50%,#c9ff36 55.8%,#c4ff3b 61.7%,#bfff40 67.5%,#bcff43 73.4%,#baff45 79.2%,#b7ff48 84.1%,#b5ff4a 88.9%,#b6ff49 92.8%,#b6ff49 95.8%,#b7ff48 98.7%)"></i><i style="left:164px;width:2.6px;background:linear-gradient(#ccff33 1.3%,#ccff33 4.2%,#ccff33 7.1%,#ccff33 11%,#cbff34 14.9%,#cbff34 20.8%,#cbff34 27.6%,#cbff34 35.4%,#caff35 43.2%,#caff35 50%,#c8ff37 55.8%,#c3ff3c 61.7%,#beff41 67.5%,#bbff44 73.4%,#baff45 79.2%,#b6ff49 84.1%,#b5ff4a 88.9%,#b5ff4a 92.8%,#b6ff49 95.8%,#b7ff48 98.7%)"></i><i style="left:166px;width:2.6px;background:linear-gradient(#cbff34 1.3%,#cbff34 4.2%,#cbff34 7.1%,#caff35 11%,#caff35 14.9%,#caff35 20.8%,#caff35 27.6%,#caff35 35.4%,#caff35 43.2%,#caff35 50%,#c8ff37 55.8%,#c3ff3c 61.7%,#bdff42 67.5%,#bbff44 73.4%,#b9ff46 79.2%,#b6ff49 84.1%,#b4ff4b 88.9%,#b5ff4a 92.8%,#b6ff49 95.8%,#b7ff48 98.7%)"></i><i style="left:168px;width:2.6px;background:linear-gradient(#caff35 1.3%,#c9ff36 4.2%,#c9ff36 7.1%,#c9ff36 11%,#c9ff36 14.9%,#c9ff36 20.8%,#c9ff36 27.6%,#c9ff36 35.4%,#c9ff36 43.2%,#c9ff36 50%,#c7ff38 55.8%,#c2ff3d 61.7%,#bdff42 67.5%,#baff45 73.4%,#b8ff47 79.2%,#b5ff4a 84.1%,#b4ff4b 88.9%,#b4ff4b 92.8%,#b6ff49 95.8%,#b6ff49 98.7%)"></i><i style="left:170px;width:2.6px;background:linear-gradient(#c8ff37 1.3%,#c8ff37 4.2%,#c8ff37 7.1%,#c8ff37 11%,#c8ff37 14.9%,#c8ff37 20.8%,#c8ff37 27.6%,#c8ff37 35.4%,#c8ff37 43.2%,#c8ff37 50%,#c6ff39 55.8%,#c1ff3e 61.7%,#bcff43 67.5%,#b9ff46 73.4%,#b7ff48 79.2%,#b4ff4b 84.1%,#b3ff4c 88.9%,#b4ff4b 92.8%,#b6ff49 95.8%,#b6ff49 98.7%)"></i><i style="left:172px;width:2.6px;background:linear-gradient(#c7ff38 1.3%,#c7ff38 4.2%,#c7ff38 7.1%,#c7ff38 11%,#c7ff38 14.9%,#c7ff38 20.8%,#c7ff38 27.6%,#c7ff38 35.4%,#c7ff38 43.2%,#c7ff38 50%,#c5ff3a 55.8%,#c0ff3f 61.7%,#bbff44 67.5%,#b8ff47 73.4%,#b6ff49 79.2%,#b3ff4c 84.1%,#b2ff4d 88.9%,#b3ff4c 92.8%,#b5ff4a 95.8%,#b6ff49 98.7%)"></i><i style="left:174px;width:2.6px;background:linear-gradient(#c6ff39 1.3%,#c6ff39 4.2%,#c6ff39 7.1%,#c6ff39 11%,#c6ff39 14.9%,#c6ff39 20.8%,#c6ff39 27.6%,#c6ff39 35.4%,#c6ff39 43.2%,#c6ff39 50%,#c4ff3b 55.8%,#bfff40 61.7%,#baff45 67.5%,#b7ff48 73.4%,#b5ff4a 79.2%,#b2ff4d 84.1%,#b2ff4d 88.9%,#b3ff4c 92.8%,#b5ff4a 95.8%,#b6ff49 98.7%)"></i><i style="left:176px;width:2.6px;background:linear-gradient(#c5ff3a 1.3%,#c5ff3a 4.2%,#c5ff3a 7.1%,#c5ff3a 11%,#c5ff3a 14.9%,#c5ff3a 20.8%,#c5ff3a 27.6%,#c5ff3a 35.4%,#c5ff3a 43.2%,#c5ff3a 50%,#c3ff3c 55.8%,#beff41 61.7%,#b8ff47 67.5%,#b5ff4a 73.4%,#b4ff4b 79.2%,#b1ff4e 84.1%,#b1ff4e 88.9%,#b2ff4d 92.8%,#b5ff4a 95.8%,#b6ff49 98.7%)"></i><i style="left:178px;width:2.6px;background:linear-gradient(#c3ff3c 1.3%,#c3ff3c 4.2%,#c3ff3c 7.1%,#c3ff3c 11%,#c3ff3c 14.9%,#c3ff3c 20.8%,#c3ff3c 27.6%,#c3ff3c 35.4%,#c3ff3c 43.2%,#c3ff3c 50%,#c1ff3e 55.8%,#bcff43 61.7%,#b7ff48 67.5%,#b4ff4b 73.4%,#b3ff4c 79.2%,#afff50 84.1%,#b0ff4f 88.9%,#b2ff4d 92.8%,#b4ff4b 95.8%,#b5ff4a 98.7%)"></i><i style="left:180px;width:2.6px;background:linear-gradient(#c2ff3d 1.3%,#c2ff3d 4.2%,#c2ff3d 7.1%,#c2ff3d 11%,#c2ff3d 14.9%,#c2ff3d 20.8%,#c2ff3d 27.6%,#c2ff3d 35.4%,#c2ff3d 43.2%,#c2ff3d 50%,#c0ff3f 55.8%,#bbff44 61.7%,#b6ff49 67.5%,#b3ff4c 73.4%,#b1ff4e 79.2%,#aeff51 84.1%,#afff50 88.9%,#b1ff4e 92.8%,#b4ff4b 95.8%,#b5ff4a 98.7%)"></i><i style="left:182px;width:2.6px;background:linear-gradient(#c1ff3e 1.3%,#c1ff3e 4.2%,#c1ff3e 7.1%,#c1ff3e 11%,#c1ff3e 14.9%,#c1ff3e 20.8%,#c1ff3e 27.6%,#c1ff3e 35.4%,#c1ff3e 43.2%,#c1ff3e 50%,#beff41 55.8%,#b9ff46 61.7%,#b4ff4b 67.5%,#b1ff4e 73.4%,#b0ff4f 79.2%,#adff52 84.1%,#aeff51 88.9%,#b0ff4f 92.8%,#b3ff4c 95.8%,#b5ff4a 98.7%)"></i><i style="left:184px;width:2.6px;background:linear-gradient(#bfff40 1.3%,#bfff40 4.2%,#bfff40 7.1%,#bfff40 11%,#bfff40 14.9%,#bfff40 20.8%,#bfff40 27.6%,#bfff40 35.4%,#bfff40 43.2%,#bfff40 50%,#bdff42 55.8%,#b8ff47 61.7%,#b3ff4c 67.5%,#b0ff4f 73.4%,#aeff51 79.2%,#abff54 84.1%,#adff52 88.9%,#afff50 92.8%,#b3ff4c 95.8%,#b4ff4b 98.7%)"></i><i style="left:186px;width:2.6px;background:linear-gradient(#bdff42 1.3%,#bdff42 4.2%,#bdff42 7.1%,#bdff42 11%,#bdff42 14.9%,#bdff42 20.8%,#bdff42 27.6%,#bdff42 35.4%,#bdff42 43.2%,#bdff42 50%,#bbff44 55.8%,#b6ff49 61.7%,#b1ff4e 67.5%,#aeff51 73.4%,#adff52 79.2%,#a9ff56 84.1%,#abff54 88.9%,#afff50 92.8%,#b3ff4c 95.8%,#b4ff4b 98.7%)"></i><i style="left:188px;width:2.6px;background:linear-gradient(#bcff43 1.3%,#bcff43 4.2%,#bcff43 7.1%,#bcff43 11%,#bcff43 14.9%,#bcff43 20.8%,#bcff43 27.6%,#bcff43 35.4%,#bcff43 43.2%,#bcff43 50%,#baff45 55.8%,#b5ff4a 61.7%,#afff50 67.5%,#adff52 73.4%,#abff54 79.2%,#a8ff57 84.1%,#aaff55 88.9%,#aeff51 92.8%,#b2ff4d 95.8%,#b4ff4b 98.7%)"></i><i style="left:190px;width:2.6px;background:linear-gradient(#baff45 1.3%,#baff45 4.2%,#baff45 7.1%,#baff45 11%,#baff45 14.9%,#baff45 20.8%,#baff45 27.6%,#baff45 35.4%,#baff45 43.2%,#baff45 50%,#b8ff47 55.8%,#b3ff4c 61.7%,#aeff51 67.5%,#abff54 73.4%,#a9ff56 79.2%,#a6ff59 84.1%,#a9ff56 88.9%,#adff52 92.8%,#b2ff4d 95.8%,#b3ff4c 98.7%)"></i><i style="left:192px;width:2.6px;background:linear-gradient(#b8ff47 1.3%,#b8ff47 4.2%,#b8ff47 7.1%,#b8ff47 11%,#b8ff47 14.9%,#b8ff47 20.8%,#b8ff47 27.6%,#b8ff47 35.4%,#b8ff47 43.2%,#b8ff47 50%,#b6ff49 55.8%,#b1ff4e 61.7%,#acff53 67.5%,#a9ff56 73.4%,#a8ff57 79.2%,#a4ff5b 84.1%,#a8ff57 88.9%,#acff53 92.8%,#b1ff4e 95.8%,#b3ff4c 98.7%)"></i><i style="left:194px;width:2.6px;background:linear-gradient(#b7ff48 1.3%,#b7ff48 4.2%,#b7ff48 7.1%,#b7ff48 11%,#b7ff48 14.9%,#b7ff48 20.8%,#b7ff48 27.6%,#b7ff48 35.4%,#b7ff48 43.2%,#b7ff48 50%,#b4ff4b 55.8%,#afff50 61.7%,#aaff55 67.5%,#a7ff58 73.4%,#a6ff59 79.2%,#a3ff5c 84.1%,#a6ff59 88.9%,#abff54 92.8%,#b1ff4e 95.8%,#b3ff4c 98.7%)"></i><i style="left:196px;width:2.6px;background:linear-gradient(#b5ff4a 1.3%,#b5ff4a 4.2%,#b5ff4a 7.1%,#b5ff4a 11%,#b5ff4a 14.9%,#b5ff4a 20.8%,#b5ff4a 27.6%,#b5ff4a 35.4%,#b5ff4a 43.2%,#b5ff4a 50%,#b3ff4c 55.8%,#aeff51 61.7%,#a9ff56 67.5%,#a6ff59 73.4%,#a4ff5b 79.2%,#a1ff5e 84.1%,#a5ff5a 88.9%,#aaff55 92.8%,#b0ff4f 95.8%,#b2ff4d 98.7%)"></i><i style="left:198px;width:2.6px;background:linear-gradient(#b3ff4c 1.3%,#b3ff4c 4.2%,#b3ff4c 7.1%,#b3ff4c 11%,#b3ff4c 14.9%,#b3ff4c 20.8%,#b3ff4c 27.6%,#b3ff4c 35.4%,#b3ff4c 43.2%,#b3ff4c 50%,#b1ff4e 55.8%,#acff53 61.7%,#a7ff58 67.5%,#a4ff5b 73.4%,#a2ff5d 79.2%,#9fff60 84.1%,#a4ff5b 88.9%,#a9ff56 92.8%,#b0ff4f 95.8%,#b2ff4d 98.7%)"></i><i style="left:200px;width:2.6px;background:linear-gradient(#b2ff4d 1.3%,#b2ff4d 4.2%,#b2ff4d 7.1%,#b2ff4d 11%,#b2ff4d 14.9%,#b2ff4d 20.8%,#b2ff4d 27.6%,#b2ff4d 35.4%,#b2ff4d 43.2%,#b2ff4d 50%,#afff50 55.8%,#aaff55 61.7%,#a5ff5a 67.5%,#a2ff5d 73.4%,#a1ff5e 79.2%,#9eff61 84.1%,#a3ff5c 88.9%,#a8ff57 92.8%,#afff50 95.8%,#b2ff4d 98.7%)"></i><i style="left:202px;width:2.6px;background:linear-gradient(#b0ff4f 1.3%,#b0ff4f 4.2%,#b0ff4f 7.1%,#b0ff4f 11%,#b0ff4f 14.9%,#b0ff4f 20.8%,#b0ff4f 27.6%,#b0ff4f 35.4%,#b0ff4f 43.2%,#b0ff4f 50%,#aeff51 55.8%,#a9ff56 61.7%,#a4ff5b 67.5%,#a1ff5e 73.4%,#9fff60 79.2%,#9cff63 84.1%,#a2ff5d 88.9%,#a8ff57 92.8%,#afff50 95.8%,#b1ff4e 98.7%)"></i><i style="left:204px;width:2.6px;background:linear-gradient(#aeff51 1.3%,#aeff51 4.2%,#aeff51 7.1%,#aeff51 11%,#aeff51 14.9%,#aeff51 20.8%,#aeff51 27.6%,#aeff51 35.4%,#aeff51 43.2%,#aeff51 50%,#acff53 55.8%,#a7ff58 61.7%,#a2ff5d 67.5%,#9fff60 73.4%,#9eff61 79.2%,#9aff65 84.1%,#a0ff5f 88.9%,#a7ff58 92.8%,#aeff51 95.8%,#b1ff4e 98.7%)"></i><i style="left:206px;width:2.6px;background:linear-gradient(#adff52 1.3%,#adff52 4.2%,#adff52 7.1%,#adff52 11%,#adff52 14.9%,#adff52 20.8%,#adff52 27.6%,#adff52 35.4%,#adff52 43.2%,#adff52 50%,#abff54 55.8%,#a6ff59 61.7%,#a1ff5e 67.5%,#9eff61 73.4%,#9cff63 79.2%,#99ff66 84.1%,#9fff60 88.9%,#a6ff59 92.8%,#aeff51 95.8%,#b1ff4e 98.7%)"></i><i style="left:208px;width:2.6px;background:linear-gradient(#acff53 1.3%,#acff53 4.2%,#acff53 7.1%,#acff53 11%,#acff53 14.9%,#acff53 20.8%,#acff53 27.6%,#acff53 35.4%,#acff53 43.2%,#acff53 50%,#a9ff56 55.8%,#a4ff5b 61.7%,#9fff60 67.5%,#9cff63 73.4%,#9bff64 79.2%,#97ff68 84.1%,#9eff61 88.9%,#a5ff5a 92.8%,#adff52 95.8%,#b0ff4f 98.7%)"></i><i style="left:210px;width:2.6px;background:linear-gradient(#aaff55 1.3%,#aaff55 4.2%,#aaff55 7.1%,#aaff55 11%,#aaff55 14.9%,#aaff55 20.8%,#aaff55 27.6%,#aaff55 35.4%,#aaff55 43.2%,#aaff55 50%,#a8ff57 55.8%,#a3ff5c 61.7%,#9eff61 67.5%,#9bff64 73.4%,#99ff66 79.2%,#96ff69 84.1%,#9dff62 88.9%,#a5ff5a 92.8%,#adff52 95.8%,#b0ff4f 98.7%)"></i><i style="left:212px;width:2.6px;background:linear-gradient(#a9ff56 1.3%,#a9ff56 4.2%,#a9ff56 7.1%,#a9ff56 11%,#a9ff56 14.9%,#a9ff56 20.8%,#a9ff56 27.6%,#a9ff56 35.4%,#a9ff56 43.2%,#a9ff56 50%,#a7ff58 55.8%,#a2ff5d 61.7%,#9dff62 67.5%,#9aff65 73.4%,#98ff67 79.2%,#95ff6a 84.1%,#9dff62 88.9%,#a4ff5b 92.8%,#adff52 95.8%,#b0ff4f 98.7%)"></i><i style="left:214px;width:2.6px;background:linear-gradient(#a8ff57 1.3%,#a8ff57 4.2%,#a8ff57 7.1%,#a8ff57 11%,#a8ff57 14.9%,#a8ff57 20.8%,#a8ff57 27.6%,#a8ff57 35.4%,#a8ff57 43.2%,#a8ff57 50%,#a6ff59 55.8%,#a1ff5e 61.7%,#9bff64 67.5%,#99ff66 73.4%,#97ff68 79.2%,#94ff6b 84.1%,#9cff63 88.9%,#a3ff5c 92.8%,#acff53 95.8%,#b0ff4f 98.7%)"></i><i style="left:216px;width:2.6px;background:linear-gradient(#a7ff58 1.3%,#a7ff58 4.2%,#a7ff58 7.1%,#a7ff58 11%,#a7ff58 14.9%,#a7ff58 20.8%,#a7ff58 27.6%,#a7ff58 35.4%,#a7ff58 43.2%,#a7ff58 50%,#a4ff5b 55.8%,#9fff60 61.7%,#9aff65 67.5%,#97ff68 73.4%,#96ff69 79.2%,#93ff6c 84.1%,#9bff64 88.9%,#a3ff5c 92.8%,#acff53 95.8%,#b0ff4f 98.7%)"></i><i style="left:218px;width:2.6px;background:linear-gradient(#a5ff5a 1.3%,#a5ff5a 4.2%,#a5ff5a 7.1%,#a5ff5a 11%,#a5ff5a 14.9%,#a5ff5a 20.8%,#a5ff5a 27.6%,#a5ff5a 35.4%,#a5ff5a 43.2%,#a5ff5a 50%,#a3ff5c 55.8%,#9eff61 61.7%,#99ff66 67.5%,#96ff69 73.4%,#95ff6a 79.2%,#91ff6e 84.1%,#9aff65 88.9%,#a2ff5d 92.8%,#acff53 95.8%,#afff50 98.7%)"></i><i style="left:220px;width:2.6px;background:linear-gradient(#a4ff5b 1.3%,#a4ff5b 4.2%,#a4ff5b 7.1%,#a3ff5c 11%,#a3ff5c 14.9%,#a3ff5c 20.8%,#a4ff5b 27.6%,#a4ff5b 35.4%,#a4ff5b 43.2%,#a4ff5b 50%,#a2ff5d 55.8%,#9dff62 61.7%,#98ff67 67.5%,#95ff6a 73.4%,#93ff6c 79.2%,#90ff6f 84.1%,#99ff66 88.9%,#a2ff5d 92.8%,#abff54 95.8%,#afff50 98.7%)"></i><i style="left:222px;width:2.6px;background:linear-gradient(#a2ff5d 1.3%,#a1ff5e 4.2%,#a1ff5e 7.1%,#a0ff5f 11%,#a0ff5f 14.9%,#a0ff5f 20.8%,#a2ff5d 27.6%,#a2ff5d 35.4%,#a3ff5c 43.2%,#a3ff5c 50%,#a0ff5f 55.8%,#9cff63 61.7%,#96ff69 67.5%,#94ff6b 73.4%,#92ff6d 79.2%,#8fff70 84.1%,#98ff67 88.9%,#a1ff5e 92.8%,#abff54 95.8%,#afff50 98.7%)"></i><i style="left:224px;width:2.6px;background:linear-gradient(#9eff61 1.3%,#9eff61 4.2%,#9dff62 7.1%,#9bff64 11%,#99ff66 14.9%,#9bff64 20.8%,#9fff60 27.6%,#a0ff5f 35.4%,#a0ff5f 43.2%,#a1ff5e 50%,#9eff61 55.8%,#9aff65 61.7%,#95ff6a 67.5%,#93ff6c 73.4%,#91ff6e 79.2%,#8eff71 84.1%,#97ff68 88.9%,#a0ff5f 92.8%,#abff54 95.8%,#afff50 98.7%)"></i><i style="left:226px;width:2.6px;background:linear-gradient(#9aff65 1.3%,#99ff66 4.2%,#97ff68 7.1%,#93ff6c 11%,#91ff6e 14.9%,#94ff6b 20.8%,#9cff63 27.6%,#9dff62 35.4%,#9eff61 43.2%,#9eff61 50%,#9cff63 55.8%,#98ff67 61.7%,#93ff6c 67.5%,#94ff6b 73.4%,#94ff6b 79.2%,#8fff70 84.1%,#96ff69 88.9%,#a0ff5f 92.8%,#aaff55 95.8%,#aeff51 98.7%)"></i><i style="left:228px;width:2.6px;background:linear-gradient(#96ff69 1.3%,#95ff6a 4.2%,#91ff6e 7.1%,#8cff73 11%,#88ff77 14.9%,#8dff72 20.8%,#99ff66 27.6%,#9bff64 35.4%,#9bff64 43.2%,#9bff64 50%,#9aff65 55.8%,#95ff6a 61.7%,#92ff6d 67.5%,#98ff67 73.4%,#9cff63 79.2%,#92ff6d 84.1%,#95ff6a 88.9%,#9fff60 92.8%,#aaff55 95.8%,#aeff51 98.7%)"></i><i style="left:230px;width:2.6px;background:linear-gradient(#93ff6c 1.3%,#92ff6d 4.2%,#8eff71 7.1%,#88ff77 11%,#84ff7b 14.9%,#89ff76 20.8%,#96ff69 27.6%,#99ff66 35.4%,#99ff66 43.2%,#9aff65 50%,#98ff67 55.8%,#94ff6b 61.7%,#91ff6e 67.5%,#9aff65 73.4%,#a0ff5f 79.2%,#93ff6c 84.1%,#94ff6b 88.9%,#9eff61 92.8%,#a9ff56 95.8%,#aeff51 98.7%)"></i><i style="left:232px;width:2.6px;background:linear-gradient(#93ff6c 1.3%,#92ff6d 4.2%,#8fff70 7.1%,#8aff75 11%,#86ff79 14.9%,#8bff74 20.8%,#96ff69 27.6%,#98ff67 35.4%,#98ff67 43.2%,#99ff66 50%,#97ff68 55.8%,#93ff6c 61.7%,#8fff70 67.5%,#93ff6c 73.4%,#96ff69 79.2%,#8dff72 84.1%,#93ff6c 88.9%,#9dff62 92.8%,#a9ff56 95.8%,#adff52 98.7%)"></i><i style="left:234px;width:2.6px;background:linear-gradient(#95ff6a 1.3%,#94ff6b 4.2%,#92ff6d 7.1%,#8eff71 11%,#8cff73 14.9%,#8fff70 20.8%,#97ff68 27.6%,#98ff67 35.4%,#98ff67 43.2%,#98ff67 50%,#96ff69 55.8%,#92ff6d 61.7%,#8dff72 67.5%,#8cff73 73.4%,#8aff75 79.2%,#85ff7a 84.1%,#91ff6e 88.9%,#9cff63 92.8%,#a8ff57 95.8%,#adff52 98.7%)"></i><i style="left:236px;width:2.6px;background:linear-gradient(#96ff69 1.3%,#96ff69 4.2%,#95ff6a 7.1%,#93ff6c 11%,#92ff6d 14.9%,#93ff6c 20.8%,#97ff68 27.6%,#98ff67 35.4%,#98ff67 43.2%,#98ff67 50%,#96ff69 55.8%,#91ff6e 61.7%,#8cff73 67.5%,#86ff79 73.4%,#81ff7e 79.2%,#7eff81 84.1%,#8eff71 88.9%,#9aff65 92.8%,#a8ff57 95.8%,#adff52 98.7%)"></i><i style="left:238px;width:2.6px;background:linear-gradient(#97ff68 1.3%,#97ff68 4.2%,#96ff69 7.1%,#96ff69 11%,#95ff6a 14.9%,#96ff69 20.8%,#97ff68 27.6%,#98ff67 35.4%,#98ff67 43.2%,#98ff67 50%,#96ff69 55.8%,#91ff6e 61.7%,#8bff74 67.5%,#81ff7e 73.4%,#76ff89 79.2%,#73ff8c 84.1%,#88ff77 88.9%,#97ff68 92.8%,#a7ff58 95.8%,#adff52 98.7%)"></i><i style="left:240px;width:2.6px;background:linear-gradient(#97ff68 1.3%,#97ff68 4.2%,#97ff68 7.1%,#97ff68 11%,#97ff68 14.9%,#97ff68 20.8%,#97ff68 27.6%,#97ff68 35.4%,#97ff68 43.2%,#97ff68 50%,#95ff6a 55.8%,#90ff6f 61.7%,#8aff75 67.5%,#79ff86 73.4%,#68ff97 79.2%,#64ff9b 84.1%,#81ff7e 88.9%,#93ff6c 92.8%,#a6ff59 95.8%,#adff52 98.7%)"></i><i style="left:242px;width:2.6px;background:linear-gradient(#97ff68 1.3%,#97ff68 4.2%,#97ff68 7.1%,#97ff68 11%,#97ff68 14.9%,#97ff68 20.8%,#97ff68 27.6%,#97ff68 35.4%,#97ff68 43.2%,#97ff68 50%,#95ff6a 55.8%,#90ff6f 61.7%,#89ff76 67.5%,#71ff8e 73.4%,#59ffa6 79.2%,#54ffab 84.1%,#7aff85 88.9%,#8fff70 92.8%,#a5ff5a 95.8%,#acff53 98.7%)"></i><i style="left:244px;width:2.6px;background:linear-gradient(#97ff68 1.3%,#97ff68 4.2%,#97ff68 7.1%,#97ff68 11%,#97ff68 14.9%,#97ff68 20.8%,#97ff68 27.6%,#97ff68 35.4%,#97ff68 43.2%,#97ff68 50%,#95ff6a 55.8%,#90ff6f 61.7%,#89ff76 67.5%,#6cff93 73.4%,#4effb1 79.2%,#49ffb6 84.1%,#75ff8a 88.9%,#8cff73 92.8%,#a4ff5b 95.8%,#acff53 98.7%)"></i><i style="left:246px;width:2.6px;background:linear-gradient(#98ff67 1.3%,#98ff67 4.2%,#98ff67 7.1%,#98ff67 11%,#98ff67 14.9%,#98ff67 20.8%,#98ff67 27.6%,#98ff67 35.4%,#98ff67 43.2%,#98ff67 50%,#96ff69 55.8%,#91ff6e 61.7%,#89ff76 67.5%,#6dff92 73.4%,#4effb1 79.2%,#49ffb6 84.1%,#75ff8a 88.9%,#8dff72 92.8%,#a4ff5b 95.8%,#adff52 98.7%)"></i><i style="left:248px;width:2.6px;background:linear-gradient(#9aff65 1.3%,#9aff65 4.2%,#9aff65 7.1%,#9aff65 11%,#9aff65 14.9%,#9aff65 20.8%,#9aff65 27.6%,#9aff65 35.4%,#9aff65 43.2%,#9aff65 50%,#97ff68 55.8%,#92ff6d 61.7%,#8bff74 67.5%,#73ff8c 73.4%,#59ffa6 79.2%,#55ffaa 84.1%,#7bff84 88.9%,#90ff6f 92.8%,#a5ff5a 95.8%,#adff52 98.7%)"></i><i style="left:250px;width:2.6px;background:linear-gradient(#9cff63 1.3%,#9cff63 4.2%,#9cff63 7.1%,#9cff63 11%,#9bff64 14.9%,#9bff64 20.8%,#9bff64 27.6%,#9bff64 35.4%,#9bff64 43.2%,#9bff64 50%,#99ff66 55.8%,#94ff6b 61.7%,#8eff71 67.5%,#7cff83 73.4%,#6aff95 79.2%,#66ff99 84.1%,#83ff7c 88.9%,#95ff6a 92.8%,#a7ff58 95.8%,#adff52 98.7%)"></i><i style="left:252px;width:2.6px;background:linear-gradient(#9eff61 1.3%,#9eff61 4.2%,#9eff61 7.1%,#9eff61 11%,#9eff61 14.9%,#9eff61 20.8%,#9eff61 27.6%,#9eff61 35.4%,#9eff61 43.2%,#9eff61 50%,#9cff63 55.8%,#97ff68 61.7%,#91ff6e 67.5%,#86ff79 73.4%,#7bff84 79.2%,#77ff88 84.1%,#8cff73 88.9%,#9aff65 92.8%,#a8ff57 95.8%,#aeff51 98.7%)"></i><i style="left:254px;width:2.6px;background:linear-gradient(#a1ff5e 1.3%,#a1ff5e 4.2%,#a1ff5e 7.1%,#a1ff5e 11%,#a1ff5e 14.9%,#a1ff5e 20.8%,#a1ff5e 27.6%,#a1ff5e 35.4%,#a1ff5e 43.2%,#a1ff5e 50%,#9fff60 55.8%,#9aff65 61.7%,#94ff6b 67.5%,#8eff71 73.4%,#88ff77 79.2%,#84ff7b 84.1%,#93ff6c 88.9%,#9eff61 92.8%,#aaff55 95.8%,#aeff51 98.7%)"></i><i style="left:256px;width:2.6px;background:linear-gradient(#a5ff5a 1.3%,#a5ff5a 4.2%,#a5ff5a 7.1%,#a5ff5a 11%,#a5ff5a 14.9%,#a5ff5a 20.8%,#a5ff5a 27.6%,#a5ff5a 35.4%,#a5ff5a 43.2%,#a5ff5a 50%,#a2ff5d 55.8%,#9dff62 61.7%,#98ff67 67.5%,#94ff6b 73.4%,#90ff6f 79.2%,#8dff72 84.1%,#97ff68 88.9%,#a1ff5e 92.8%,#abff54 95.8%,#afff50 98.7%)"></i><i style="left:258px;width:2.6px;background:linear-gradient(#a9ff56 1.3%,#a9ff56 4.2%,#a9ff56 7.1%,#a9ff56 11%,#a9ff56 14.9%,#a9ff56 20.8%,#a9ff56 27.6%,#a9ff56 35.4%,#a9ff56 43.2%,#a9ff56 50%,#a6ff59 55.8%,#a1ff5e 61.7%,#9cff63 67.5%,#98ff67 73.4%,#96ff69 79.2%,#93ff6c 84.1%,#9bff64 88.9%,#a3ff5c 92.8%,#acff53 95.8%,#b0ff4f 98.7%)"></i><i style="left:260px;width:2.6px;background:linear-gradient(#aeff51 1.3%,#aeff51 4.2%,#aeff51 7.1%,#aeff51 11%,#aeff51 14.9%,#adff52 20.8%,#adff52 27.6%,#adff52 35.4%,#adff52 43.2%,#adff52 50%,#aaff55 55.8%,#a5ff5a 61.7%,#a0ff5f 67.5%,#9dff62 73.4%,#9bff64 79.2%,#98ff67 84.1%,#9eff61 88.9%,#a5ff5a 92.8%,#adff52 95.8%,#b0ff4f 98.7%)"></i><i style="left:262px;width:2.6px;background:linear-gradient(#b4ff4b 1.3%,#b4ff4b 4.2%,#b4ff4b 7.1%,#b3ff4c 11%,#b3ff4c 14.9%,#b3ff4c 20.8%,#b2ff4d 27.6%,#b2ff4d 35.4%,#b2ff4d 43.2%,#b2ff4d 50%,#afff50 55.8%,#aaff55 61.7%,#a5ff5a 67.5%,#a2ff5d 73.4%,#a0ff5f 79.2%,#9cff63 84.1%,#a1ff5e 88.9%,#a7ff58 92.8%,#aeff51 95.8%,#b1ff4e 98.7%)"></i><i style="left:264px;width:2.6px;background:linear-gradient(#bbff44 1.3%,#bbff44 4.2%,#bbff44 7.1%,#baff45 11%,#b9ff46 14.9%,#b9ff46 20.8%,#b8ff47 27.6%,#b8ff47 35.4%,#b8ff47 43.2%,#b7ff48 50%,#b4ff4b 55.8%,#afff50 61.7%,#aaff55 67.5%,#a6ff59 73.4%,#a4ff5b 79.2%,#a0ff5f 84.1%,#a5ff5a 88.9%,#a9ff56 92.8%,#b0ff4f 95.8%,#b2ff4d 98.7%)"></i><i style="left:266px;width:2.6px;background:linear-gradient(#c4ff3b 1.3%,#c4ff3b 4.2%,#c3ff3c 7.1%,#c2ff3d 11%,#c1ff3e 14.9%,#c0ff3f 20.8%,#bfff40 27.6%,#bfff40 35.4%,#beff41 43.2%,#bdff42 50%,#baff45 55.8%,#b5ff4a 61.7%,#afff50 67.5%,#acff53 73.4%,#a9ff56 79.2%,#a5ff5a 84.1%,#a8ff57 88.9%,#acff53 92.8%,#b1ff4e 95.8%,#b3ff4c 98.7%)"></i><i style="left:268px;width:2.6px;background:linear-gradient(#d0ff2f 1.3%,#cfff30 4.2%,#ceff31 7.1%,#cbff34 11%,#caff35 14.9%,#c8ff37 20.8%,#c7ff38 27.6%,#c6ff39 35.4%,#c5ff3a 43.2%,#c4ff3b 50%,#c0ff3f 55.8%,#bbff44 61.7%,#b5ff4a 67.5%,#b1ff4e 73.4%,#aeff51 79.2%,#aaff55 84.1%,#abff54 88.9%,#aeff51 92.8%,#b2ff4d 95.8%,#b4ff4b 98.7%)"></i><i style="left:270px;width:2.6px;background:linear-gradient(#deff21 1.3%,#dcff23 4.2%,#dbff24 7.1%,#d7ff28 11%,#d4ff2b 14.9%,#d1ff2e 20.8%,#cfff30 27.6%,#ceff31 35.4%,#cdff32 43.2%,#ccff33 50%,#c7ff38 55.8%,#c2ff3d 61.7%,#bcff43 67.5%,#b7ff48 73.4%,#b4ff4b 79.2%,#afff50 84.1%,#afff50 88.9%,#b0ff4f 92.8%,#b3ff4c 95.8%,#b5ff4a 98.7%)"></i><i style="left:272px;width:2.6px;background:linear-gradient(#efff10 1.3%,#ecff13 4.2%,#eaff15 7.1%,#e3ff1c 11%,#dfff20 14.9%,#dbff24 20.8%,#d9ff26 27.6%,#d7ff28 35.4%,#d6ff29 43.2%,#d3ff2c 50%,#ceff31 55.8%,#c8ff37 61.7%,#c2ff3d 67.5%,#beff41 73.4%,#baff45 79.2%,#b5ff4a 84.1%,#b2ff4d 88.9%,#b3ff4c 92.8%,#b5ff4a 95.8%,#b5ff4a 98.7%)"></i><i style="left:274px;width:2.6px;background:linear-gradient(#fffc00 1.3%,#feff01 4.2%,#faff05 7.1%,#f1ff0e 11%,#ebff14 14.9%,#e6ff19 20.8%,#e2ff1d 27.6%,#e0ff1f 35.4%,#deff21 43.2%,#dbff24 50%,#d5ff2a 55.8%,#cfff30 61.7%,#c9ff36 67.5%,#c4ff3b 73.4%,#bfff40 79.2%,#baff45 84.1%,#b6ff49 88.9%,#b5ff4a 92.8%,#b6ff49 95.8%,#b6ff49 98.7%)"></i><i style="left:276px;width:2.6px;background:linear-gradient(#ffea00 1.3%,#ffef00 4.2%,#fff500 7.1%,#feff01 11%,#f6ff09 14.9%,#efff10 20.8%,#ebff14 27.6%,#e8ff17 35.4%,#e6ff19 43.2%,#e2ff1d 50%,#dbff24 55.8%,#d5ff2a 61.7%,#ceff31 67.5%,#c9ff36 73.4%,#c4ff3b 79.2%,#bfff40 84.1%,#b9ff46 88.9%,#b7ff48 92.8%,#b7ff48 95.8%,#b7ff48 98.7%)"></i><i style="left:278px;width:2.6px;background:linear-gradient(#ffdc00 1.3%,#ffe200 4.2%,#ffe900 7.1%,#fff600 11%,#feff01 14.9%,#f7ff08 20.8%,#f1ff0e 27.6%,#eeff11 35.4%,#ecff13 43.2%,#e8ff17 50%,#e0ff1f 55.8%,#daff25 61.7%,#d3ff2c 67.5%,#cdff32 73.4%,#c8ff37 79.2%,#c2ff3d 84.1%,#bbff44 88.9%,#b8ff47 92.8%,#b7ff48 95.8%,#b7ff48 98.7%)"></i><i style="left:280px;width:2.6px;background:linear-gradient(#ffd300 1.3%,#ffda00 4.2%,#ffe200 7.1%,#fff100 11%,#fffb00 14.9%,#fbff04 20.8%,#f4ff0b 27.6%,#f1ff0e 35.4%,#efff10 43.2%,#eaff15 50%,#e2ff1d 55.8%,#dcff23 61.7%,#d5ff2a 67.5%,#cfff30 73.4%,#caff35 79.2%,#c4ff3b 84.1%,#bcff43 88.9%,#b9ff46 92.8%,#b8ff47 95.8%,#b8ff47 98.7%)"></i><i style="left:282px;width:2.6px;background:linear-gradient(#ffd300 1.3%,#ffda00 4.2%,#ffe200 7.1%,#fff100 11%,#fffb00 14.9%,#faff05 20.8%,#f4ff0b 27.6%,#f1ff0e 35.4%,#efff10 43.2%,#eaff15 50%,#e2ff1d 55.8%,#dbff24 61.7%,#d5ff2a 67.5%,#cfff30 73.4%,#caff35 79.2%,#c4ff3b 84.1%,#bcff43 88.9%,#b9ff46 92.8%,#b8ff47 95.8%,#b8ff47 98.7%)"></i><i style="left:284px;width:2.6px;background:linear-gradient(#ffdc00 1.3%,#ffe200 4.2%,#ffe900 7.1%,#fff700 11%,#fdff02 14.9%,#f6ff09 20.8%,#f0ff0f 27.6%,#edff12 35.4%,#ebff14 43.2%,#e7ff18 50%,#dfff20 55.8%,#d9ff26 61.7%,#d2ff2d 67.5%,#ccff33 73.4%,#c7ff38 79.2%,#c1ff3e 84.1%,#baff45 88.9%,#b8ff47 92.8%,#b7ff48 95.8%,#b7ff48 98.7%)"></i><i style="left:286px;width:2.6px;background:linear-gradient(#ffeb00 1.3%,#fff100 4.2%,#fff600 7.1%,#fcff03 11%,#f4ff0b 14.9%,#edff12 20.8%,#e9ff16 27.6%,#e6ff19 35.4%,#e4ff1b 43.2%,#e1ff1e 50%,#daff25 55.8%,#d3ff2c 61.7%,#cdff32 67.5%,#c8ff37 73.4%,#c3ff3c 79.2%,#bdff42 84.1%,#b8ff47 88.9%,#b6ff49 92.8%,#b6ff49 95.8%,#b7ff48 98.7%)"></i><i style="left:288px;width:2.6px;background:linear-gradient(#ffff00 1.3%,#fbff04 4.2%,#f7ff08 7.1%,#edff12 11%,#e7ff18 14.9%,#e3ff1c 20.8%,#dfff20 27.6%,#ddff22 35.4%,#dcff23 43.2%,#d9ff26 50%,#d3ff2c 55.8%,#cdff32 61.7%,#c6ff39 67.5%,#c2ff3d 73.4%,#beff41 79.2%,#b8ff47 84.1%,#b5ff4a 88.9%,#b4ff4b 92.8%,#b5ff4a 95.8%,#b6ff49 98.7%)"></i><i style="left:290px;width:2.6px;background:linear-gradient(#e9ff16 1.3%,#e6ff19 4.2%,#e4ff1b 7.1%,#ddff22 11%,#d9ff26 14.9%,#d7ff28 20.8%,#d4ff2b 27.6%,#d3ff2c 35.4%,#d2ff2d 43.2%,#d0ff2f 50%,#cbff34 55.8%,#c5ff3a 61.7%,#bfff40 67.5%,#bbff44 73.4%,#b7ff48 79.2%,#b3ff4c 84.1%,#b1ff4e 88.9%,#b2ff4d 92.8%,#b4ff4b 95.8%,#b5ff4a 98.7%)"></i><i style="left:292px;width:2.6px;background:linear-gradient(#d4ff2b 1.3%,#d2ff2d 4.2%,#d1ff2e 7.1%,#cdff32 11%,#cbff34 14.9%,#caff35 20.8%,#c9ff36 27.6%,#c9ff36 35.4%,#c8ff37 43.2%,#c7ff38 50%,#c3ff3c 55.8%,#bdff42 61.7%,#b7ff48 67.5%,#b4ff4b 73.4%,#b1ff4e 79.2%,#adff52 84.1%,#adff52 88.9%,#afff50 92.8%,#b3ff4c 95.8%,#b4ff4b 98.7%)"></i><i style="left:294px;width:2.6px;background:linear-gradient(#c1ff3e 1.3%,#c0ff3f 4.2%,#c0ff3f 7.1%,#beff41 11%,#bdff42 14.9%,#bfff40 20.8%,#bfff40 27.6%,#bfff40 35.4%,#bfff40 43.2%,#beff41 50%,#bbff44 55.8%,#b5ff4a 61.7%,#b0ff4f 67.5%,#adff52 73.4%,#abff54 79.2%,#a7ff58 84.1%,#a9ff56 88.9%,#adff52 92.8%,#b2ff4d 95.8%,#b4ff4b 98.7%)"></i><i style="left:296px;width:2.6px;background:linear-gradient(#afff50 1.3%,#afff50 4.2%,#b0ff4f 7.1%,#afff50 11%,#b0ff4f 14.9%,#b4ff4b 20.8%,#b5ff4a 27.6%,#b5ff4a 35.4%,#b6ff49 43.2%,#b5ff4a 50%,#b3ff4c 55.8%,#aeff51 61.7%,#a9ff56 67.5%,#a6ff59 73.4%,#a5ff5a 79.2%,#a1ff5e 84.1%,#a5ff5a 88.9%,#abff54 92.8%,#b1ff4e 95.8%,#b3ff4c 98.7%)"></i><i style="left:298px;width:2.6px;background:linear-gradient(#9fff60 1.3%,#a0ff5f 4.2%,#a1ff5e 7.1%,#a2ff5d 11%,#a4ff5b 14.9%,#a9ff56 20.8%,#acff53 27.6%,#acff53 35.4%,#adff52 43.2%,#aeff51 50%,#abff54 55.8%,#a6ff59 61.7%,#a2ff5d 67.5%,#a0ff5f 73.4%,#9fff60 79.2%,#9cff63 84.1%,#a2ff5d 88.9%,#a8ff57 92.8%,#b0ff4f 95.8%,#b2ff4d 98.7%)"></i><i style="left:300px;width:2.6px;background:linear-gradient(#90ff6f 1.3%,#91ff6e 4.2%,#93ff6c 7.1%,#95ff6a 11%,#99ff66 14.9%,#9fff60 20.8%,#a3ff5c 27.6%,#a4ff5b 35.4%,#a5ff5a 43.2%,#a6ff59 50%,#a4ff5b 55.8%,#9fff60 61.7%,#9bff64 67.5%,#9aff65 73.4%,#99ff66 79.2%,#97ff68 84.1%,#9eff61 88.9%,#a6ff59 92.8%,#aeff51 95.8%,#b2ff4d 98.7%)"></i><i style="left:302px;width:2.6px;background:linear-gradient(#82ff7d 1.3%,#83ff7c 4.2%,#86ff79 7.1%,#88ff77 11%,#8dff72 14.9%,#96ff69 20.8%,#9aff65 27.6%,#9cff63 35.4%,#9dff62 43.2%,#9fff60 50%,#9dff62 55.8%,#99ff66 61.7%,#95ff6a 67.5%,#93ff6c 73.4%,#94ff6b 79.2%,#92ff6d 84.1%,#9aff65 88.9%,#a4ff5b 92.8%,#adff52 95.8%,#b1ff4e 98.7%)"></i><i style="left:304px;width:2.6px;background:linear-gradient(#73ff8c 1.3%,#75ff8a 4.2%,#79ff86 7.1%,#7cff83 11%,#82ff7d 14.9%,#8dff72 20.8%,#92ff6d 27.6%,#94ff6b 35.4%,#96ff69 43.2%,#98ff67 50%,#97ff68 55.8%,#92ff6d 61.7%,#8eff71 67.5%,#8eff71 73.4%,#8eff71 79.2%,#8dff72 84.1%,#97ff68 88.9%,#a2ff5d 92.8%,#acff53 95.8%,#b0ff4f 98.7%)"></i><i style="left:306px;width:2.6px;background:linear-gradient(#66ff99 1.3%,#68ff97 4.2%,#6dff92 7.1%,#70ff8f 11%,#77ff88 14.9%,#84ff7b 20.8%,#8aff75 27.6%,#8cff73 35.4%,#8fff70 43.2%,#91ff6e 50%,#90ff6f 55.8%,#8cff73 61.7%,#88ff77 67.5%,#88ff77 73.4%,#89ff76 79.2%,#88ff77 84.1%,#94ff6b 88.9%,#a0ff5f 92.8%,#abff54 95.8%,#b0ff4f 98.7%)"></i><i style="left:308px;width:2.6px;background:linear-gradient(#5affa5 1.3%,#5cffa3 4.2%,#61ff9e 7.1%,#65ff9a 11%,#6dff92 14.9%,#7cff83 20.8%,#83ff7c 27.6%,#86ff79 35.4%,#88ff77 43.2%,#8bff74 50%,#8aff75 55.8%,#86ff79 61.7%,#83ff7c 67.5%,#83ff7c 73.4%,#85ff7a 79.2%,#84ff7b 84.1%,#91ff6e 88.9%,#9eff61 92.8%,#abff54 95.8%,#afff50 98.7%)"></i><i style="left:310px;width:2.6px;background:linear-gradient(#4fffb0 1.3%,#51ffae 4.2%,#57ffa8 7.1%,#5cffa3 11%,#64ff9b 14.9%,#74ff8b 20.8%,#7dff82 27.6%,#80ff7f 35.4%,#83ff7c 43.2%,#85ff7a 50%,#85ff7a 55.8%,#81ff7e 61.7%,#7eff81 67.5%,#7eff81 73.4%,#81ff7e 79.2%,#80ff7f 84.1%,#8eff71 88.9%,#9cff63 92.8%,#aaff55 95.8%,#afff50 98.7%)"></i><i style="left:312px;width:2.6px;background:linear-gradient(#46ffb9 1.3%,#49ffb6 4.2%,#4fffb0 7.1%,#54ffab 11%,#5effa1 14.9%,#6fff90 20.8%,#78ff87 27.6%,#7bff84 35.4%,#7eff81 43.2%,#81ff7e 50%,#81ff7e 55.8%,#7dff82 61.7%,#7aff85 67.5%,#7bff84 73.4%,#7dff82 79.2%,#7dff82 84.1%,#8cff73 88.9%,#9bff64 92.8%,#a9ff56 95.8%,#aeff51 98.7%)"></i><i style="left:314px;width:2.6px;background:linear-gradient(#40ffbf 1.3%,#43ffbc 4.2%,#4affb5 7.1%,#4fffb0 11%,#59ffa6 14.9%,#6bff94 20.8%,#74ff8b 27.6%,#78ff87 35.4%,#7bff84 43.2%,#7eff81 50%,#7eff81 55.8%,#7aff85 61.7%,#77ff88 67.5%,#78ff87 73.4%,#7bff84 79.2%,#7bff84 84.1%,#8aff75 88.9%,#9aff65 92.8%,#a9ff56 95.8%,#aeff51 98.7%)"></i><i style="left:316px;width:2.6px;background:linear-gradient(#3dffc2 1.3%,#41ffbe 4.2%,#47ffb8 7.1%,#4dffb2 11%,#57ffa8 14.9%,#69ff96 20.8%,#73ff8c 27.6%,#76ff89 35.4%,#7aff85 43.2%,#7dff82 50%,#7dff82 55.8%,#79ff86 61.7%,#76ff89 67.5%,#77ff88 73.4%,#7aff85 79.2%,#7aff85 84.1%,#8aff75 88.9%,#99ff66 92.8%,#a9ff56 95.8%,#aeff51 98.7%)"></i><i style="left:318px;width:2.6px;background:linear-gradient(#3effc1 1.3%,#41ffbe 4.2%,#48ffb7 7.1%,#4dffb2 11%,#57ffa8 14.9%,#6aff95 20.8%,#73ff8c 27.6%,#77ff88 35.4%,#7aff85 43.2%,#7dff82 50%,#7dff82 55.8%,#79ff86 61.7%,#76ff89 67.5%,#77ff88 73.4%,#7aff85 79.2%,#7aff85 84.1%,#8aff75 88.9%,#99ff66 92.8%,#a9ff56 95.8%,#aeff51 98.7%)"></i><i style="left:320px;width:2.6px;background:linear-gradient(#42ffbd 1.3%,#45ffba 4.2%,#4cffb3 7.1%,#51ffae 11%,#5affa5 14.9%,#6cff93 20.8%,#75ff8a 27.6%,#79ff86 35.4%,#7cff83 43.2%,#7fff80 50%,#7fff80 55.8%,#7bff84 61.7%,#78ff87 67.5%,#79ff86 73.4%,#7cff83 79.2%,#7bff84 84.1%,#8bff74 88.9%,#9aff65 92.8%,#a9ff56 95.8%,#aeff51 98.7%)"></i><i style="left:322px;width:2.6px;background:linear-gradient(#49ffb6 1.3%,#4cffb3 4.2%,#52ffad 7.1%,#57ffa8 11%,#60ff9f 14.9%,#71ff8e 20.8%,#79ff86 27.6%,#7cff83 35.4%,#7fff80 43.2%,#82ff7d 50%,#82ff7d 55.8%,#7eff81 61.7%,#7bff84 67.5%,#7cff83 73.4%,#7eff81 79.2%,#7dff82 84.1%,#8cff73 88.9%,#9bff64 92.8%,#a9ff56 95.8%,#aeff51 98.7%)"></i><i style="left:324px;width:2.6px;background:linear-gradient(#53ffac 1.3%,#56ffa9 4.2%,#5bffa4 7.1%,#5fffa0 11%,#68ff97 14.9%,#77ff88 20.8%,#7fff80 27.6%,#81ff7e 35.4%,#84ff7b 43.2%,#87ff78 50%,#86ff79 55.8%,#82ff7d 61.7%,#7fff80 67.5%,#7fff80 73.4%,#82ff7d 79.2%,#81ff7e 84.1%,#8eff71 88.9%,#9cff63 92.8%,#aaff55 95.8%,#afff50 98.7%)"></i><i style="left:326px;width:2.6px;background:linear-gradient(#5effa1 1.3%,#61ff9e 4.2%,#65ff9a 7.1%,#69ff96 11%,#71ff8e 14.9%,#7eff81 20.8%,#85ff7a 27.6%,#87ff78 35.4%,#8aff75 43.2%,#8cff73 50%,#8cff73 55.8%,#87ff78 61.7%,#84ff7b 67.5%,#84ff7b 73.4%,#86ff79 79.2%,#84ff7b 84.1%,#91ff6e 88.9%,#9eff61 92.8%,#abff54 95.8%,#afff50 98.7%)"></i><i style="left:328px;width:2.6px;background:linear-gradient(#6aff95 1.3%,#6cff93 4.2%,#71ff8e 7.1%,#74ff8b 11%,#7aff85 14.9%,#86ff79 20.8%,#8cff73 27.6%,#8eff71 35.4%,#90ff6f 43.2%,#92ff6d 50%,#91ff6e 55.8%,#8dff72 61.7%,#89ff76 67.5%,#89ff76 73.4%,#8aff75 79.2%,#89ff76 84.1%,#94ff6b 88.9%,#a0ff5f 92.8%,#abff54 95.8%,#b0ff4f 98.7%)"></i><i style="left:330px;width:2.6px;background:linear-gradient(#77ff88 1.3%,#79ff86 4.2%,#7cff83 7.1%,#7fff80 11%,#84ff7b 14.9%,#8eff71 20.8%,#93ff6c 27.6%,#95ff6a 35.4%,#96ff69 43.2%,#98ff67 50%,#97ff68 55.8%,#92ff6d 61.7%,#8fff70 67.5%,#8eff71 73.4%,#8fff70 79.2%,#8dff72 84.1%,#97ff68 88.9%,#a2ff5d 92.8%,#acff53 95.8%,#b0ff4f 98.7%)"></i><i style="left:332px;width:2.6px;background:linear-gradient(#83ff7c 1.3%,#85ff7a 4.2%,#87ff78 7.1%,#8aff75 11%,#8eff71 14.9%,#96ff69 20.8%,#9aff65 27.6%,#9bff64 35.4%,#9dff62 43.2%,#9eff61 50%,#9dff62 55.8%,#98ff67 61.7%,#94ff6b 67.5%,#93ff6c 73.4%,#93ff6c 79.2%,#91ff6e 84.1%,#9aff65 88.9%,#a3ff5c 92.8%,#adff52 95.8%,#b1ff4e 98.7%)"></i><i style="left:334px;width:2.6px;background:linear-gradient(#8fff70 1.3%,#90ff6f 4.2%,#92ff6d 7.1%,#94ff6b 11%,#97ff68 14.9%,#9eff61 20.8%,#a1ff5e 27.6%,#a2ff5d 35.4%,#a3ff5c 43.2%,#a4ff5b 50%,#a2ff5d 55.8%,#9eff61 61.7%,#99ff66 67.5%,#98ff67 73.4%,#98ff67 79.2%,#95ff6a 84.1%,#9dff62 88.9%,#a5ff5a 92.8%,#aeff51 95.8%,#b1ff4e 98.7%)"></i><i style="left:336px;width:2.6px;background:linear-gradient(#9aff65 1.3%,#9bff64 4.2%,#9cff63 7.1%,#9eff61 11%,#a0ff5f 14.9%,#a5ff5a 20.8%,#a7ff58 27.6%,#a8ff57 35.4%,#a9ff56 43.2%,#aaff55 50%,#a8ff57 55.8%,#a3ff5c 61.7%,#9eff61 67.5%,#9dff62 73.4%,#9cff63 79.2%,#99ff66 84.1%,#a0ff5f 88.9%,#a7ff58 92.8%,#afff50 95.8%,#b2ff4d 98.7%)"></i><i style="left:338px;width:2.6px;background:linear-gradient(#a4ff5b 1.3%,#a5ff5a 4.2%,#a6ff59 7.1%,#a6ff59 11%,#a8ff57 14.9%,#acff53 20.8%,#adff52 27.6%,#aeff51 35.4%,#aeff51 43.2%,#afff50 50%,#adff52 55.8%,#a8ff57 61.7%,#a3ff5c 67.5%,#a1ff5e 73.4%,#a0ff5f 79.2%,#9dff62 84.1%,#a3ff5c 88.9%,#a9ff56 92.8%,#b0ff4f 95.8%,#b2ff4d 98.7%)"></i><i style="left:340px;width:2.6px;background:linear-gradient(#aeff51 1.3%,#aeff51 4.2%,#afff50 7.1%,#afff50 11%,#b0ff4f 14.9%,#b2ff4d 20.8%,#b3ff4c 27.6%,#b4ff4b 35.4%,#b4ff4b 43.2%,#b4ff4b 50%,#b2ff4d 55.8%,#adff52 61.7%,#a8ff57 67.5%,#a5ff5a 73.4%,#a4ff5b 79.2%,#a1ff5e 84.1%,#a5ff5a 88.9%,#aaff55 92.8%,#b0ff4f 95.8%,#b3ff4c 98.7%)"></i><i style="left:342px;width:2.6px;background:linear-gradient(#b9ff46 1.3%,#b8ff47 4.2%,#b9ff46 7.1%,#b8ff47 11%,#b8ff47 14.9%,#b9ff46 20.8%,#baff45 27.6%,#baff45 35.4%,#baff45 43.2%,#baff45 50%,#b7ff48 55.8%,#b2ff4d 61.7%,#adff52 67.5%,#aaff55 73.4%,#a8ff57 79.2%,#a5ff5a 84.1%,#a8ff57 88.9%,#acff53 92.8%,#b1ff4e 95.8%,#b3ff4c 98.7%)"></i><i style="left:344px;width:2.6px;background:linear-gradient(#c4ff3b 1.3%,#c4ff3b 4.2%,#c3ff3c 7.1%,#c1ff3e 11%,#c1ff3e 14.9%,#c1ff3e 20.8%,#c1ff3e 27.6%,#c0ff3f 35.4%,#c0ff3f 43.2%,#c0ff3f 50%,#bdff42 55.8%,#b7ff48 61.7%,#b2ff4d 67.5%,#afff50 73.4%,#adff52 79.2%,#a9ff56 84.1%,#abff54 88.9%,#aeff51 92.8%,#b2ff4d 95.8%,#b4ff4b 98.7%)"></i><i style="left:346px;width:2.6px;background:linear-gradient(#d2ff2d 1.3%,#d0ff2f 4.2%,#cfff30 7.1%,#cbff34 11%,#caff35 14.9%,#c9ff36 20.8%,#c8ff37 27.6%,#c8ff37 35.4%,#c7ff38 43.2%,#c6ff39 50%,#c3ff3c 55.8%,#bdff42 61.7%,#b8ff47 67.5%,#b4ff4b 73.4%,#b1ff4e 79.2%,#adff52 84.1%,#aeff51 88.9%,#b0ff4f 92.8%,#b3ff4c 95.8%,#b5ff4a 98.7%)"></i><i style="left:348px;width:2.6px;background:linear-gradient(#e2ff1d 1.3%,#dfff20 4.2%,#ddff22 7.1%,#d7ff28 11%,#d5ff2a 14.9%,#d2ff2d 20.8%,#d1ff2e 27.6%,#d0ff2f 35.4%,#cfff30 43.2%,#cdff32 50%,#c9ff36 55.8%,#c4ff3b 61.7%,#beff41 67.5%,#baff45 73.4%,#b7ff48 79.2%,#b2ff4d 84.1%,#b1ff4e 88.9%,#b2ff4d 92.8%,#b4ff4b 95.8%,#b5ff4a 98.7%)"></i><i style="left:350px;width:2.6px;background:linear-gradient(#f4ff0b 1.3%,#f0ff0f 4.2%,#edff12 7.1%,#e4ff1b 11%,#e1ff1e 14.9%,#ddff22 20.8%,#daff25 27.6%,#d9ff26 35.4%,#d8ff27 43.2%,#d5ff2a 50%,#d0ff2f 55.8%,#cbff34 61.7%,#c4ff3b 67.5%,#c0ff3f 73.4%,#bcff43 79.2%,#b7ff48 84.1%,#b4ff4b 88.9%,#b4ff4b 92.8%,#b5ff4a 95.8%,#b6ff49 98.7%)"></i><i style="left:352px;width:2.6px;background:linear-gradient(#fff700 1.3%,#fffd00 4.2%,#fdff02 7.1%,#f1ff0e 11%,#ecff13 14.9%,#e7ff18 20.8%,#e3ff1c 27.6%,#e1ff1e 35.4%,#e0ff1f 43.2%,#ddff22 50%,#d8ff27 55.8%,#d1ff2e 61.7%,#cbff34 67.5%,#c6ff39 73.4%,#c2ff3d 79.2%,#bdff42 84.1%,#b8ff47 88.9%,#b6ff49 92.8%,#b7ff48 95.8%,#b7ff48 98.7%)"></i><i style="left:354px;width:2.6px;background:linear-gradient(#ffe600 1.3%,#ffed00 4.2%,#fff200 7.1%,#fdff02 11%,#f7ff08 14.9%,#f0ff0f 20.8%,#ecff13 27.6%,#eaff15 35.4%,#e8ff17 43.2%,#e5ff1a 50%,#deff21 55.8%,#d8ff27 61.7%,#d1ff2e 67.5%,#ccff33 73.4%,#c7ff38 79.2%,#c2ff3d 84.1%,#bbff44 88.9%,#b8ff47 92.8%,#b8ff47 95.8%,#b8ff47 98.7%)"></i><i style="left:356px;width:2.6px;background:linear-gradient(#ffd800 1.3%,#ffe000 4.2%,#ffe600 7.1%,#fff800 11%,#fffe00 14.9%,#f8ff07 20.8%,#f3ff0c 27.6%,#f1ff0e 35.4%,#efff10 43.2%,#ebff14 50%,#e4ff1b 55.8%,#ddff22 61.7%,#d6ff29 67.5%,#d1ff2e 73.4%,#ccff33 79.2%,#c6ff39 84.1%,#beff41 88.9%,#baff45 92.8%,#b9ff46 95.8%,#b8ff47 98.7%)"></i><i style="left:358px;width:2.6px;background:linear-gradient(#ffcf00 1.3%,#ffd800 4.2%,#ffde00 7.1%,#fff200 11%,#fff800 14.9%,#fdff02 20.8%,#f8ff07 27.6%,#f5ff0a 35.4%,#f3ff0c 43.2%,#efff10 50%,#e7ff18 55.8%,#e1ff1e 61.7%,#daff25 67.5%,#d4ff2b 73.4%,#cfff30 79.2%,#c9ff36 84.1%,#c0ff3f 88.9%,#bbff44 92.8%,#b9ff46 95.8%,#b9ff46 98.7%)"></i><i style="left:360px;width:2.6px;background:linear-gradient(#ffce00 1.3%,#ffd600 4.2%,#ffdd00 7.1%,#fff000 11%,#fff700 14.9%,#ffff00 20.8%,#f9ff06 27.6%,#f6ff09 35.4%,#f4ff0b 43.2%,#f0ff0f 50%,#e9ff16 55.8%,#e2ff1d 61.7%,#dbff24 67.5%,#d5ff2a 73.4%,#d0ff2f 79.2%,#caff35 84.1%,#c1ff3e 88.9%,#bcff43 92.8%,#baff45 95.8%,#b9ff46 98.7%)"></i><i style="left:362px;width:2.6px;background:linear-gradient(#ffd300 1.3%,#ffdb00 4.2%,#ffe100 7.1%,#fff300 11%,#fff900 14.9%,#fdff02 20.8%,#f7ff08 27.6%,#f5ff0a 35.4%,#f3ff0c 43.2%,#efff10 50%,#e8ff17 55.8%,#e1ff1e 61.7%,#daff25 67.5%,#d5ff2a 73.4%,#d0ff2f 79.2%,#caff35 84.1%,#c0ff3f 88.9%,#bcff43 92.8%,#baff45 95.8%,#b9ff46 98.7%)"></i><i style="left:364px;width:2.6px;background:linear-gradient(#ffde00 1.3%,#ffe500 4.2%,#ffea00 7.1%,#fffa00 11%,#ffff00 14.9%,#f8ff07 20.8%,#f3ff0c 27.6%,#f1ff0e 35.4%,#efff10 43.2%,#ebff14 50%,#e5ff1a 55.8%,#dfff20 61.7%,#d8ff27 67.5%,#d2ff2d 73.4%,#ceff31 79.2%,#c8ff37 84.1%,#bfff40 88.9%,#bbff44 92.8%,#b9ff46 95.8%,#b9ff46 98.7%)"></i><i style="left:366px;width:2.6px;background:linear-gradient(#ffed00 1.3%,#fff300 4.2%,#fff700 7.1%,#fbff04 11%,#f7ff08 14.9%,#f1ff0e 20.8%,#edff12 27.6%,#ebff14 35.4%,#eaff15 43.2%,#e7ff18 50%,#e1ff1e 55.8%,#dbff24 61.7%,#d4ff2b 67.5%,#cfff30 73.4%,#cbff34 79.2%,#c5ff3a 84.1%,#beff41 88.9%,#baff45 92.8%,#b9ff46 95.8%,#b8ff47 98.7%)"></i><i style="left:368px;width:2.6px;background:linear-gradient(#fffd00 1.3%,#fdff02 4.2%,#faff05 7.1%,#f1ff0e 11%,#edff12 14.9%,#e9ff16 20.8%,#e6ff19 27.6%,#e5ff1a 35.4%,#e3ff1c 43.2%,#e1ff1e 50%,#dcff23 55.8%,#d6ff29 61.7%,#d0ff2f 67.5%,#cbff34 73.4%,#c7ff38 79.2%,#c2ff3d 84.1%,#bcff43 88.9%,#b9ff46 92.8%,#b8ff47 95.8%,#b8ff47 98.7%)"></i><i style="left:370px;width:2.6px;background:linear-gradient(#f2ff0d 1.3%,#efff10 4.2%,#edff12 7.1%,#e7ff18 11%,#e4ff1b 14.9%,#e1ff1e 20.8%,#dfff20 27.6%,#deff21 35.4%,#ddff22 43.2%,#dbff24 50%,#d7ff28 55.8%,#d1ff2e 61.7%,#cbff34 67.5%,#c7ff38 73.4%,#c3ff3c 79.2%,#bfff40 84.1%,#baff45 88.9%,#b8ff47 92.8%,#b8ff47 95.8%,#b8ff47 98.7%)"></i><i style="left:372px;width:2.6px;background:linear-gradient(#e5ff1a 1.3%,#e3ff1c 4.2%,#e2ff1d 7.1%,#deff21 11%,#dcff23 14.9%,#daff25 20.8%,#d9ff26 27.6%,#d8ff27 35.4%,#d7ff28 43.2%,#d6ff29 50%,#d2ff2d 55.8%,#cdff32 61.7%,#c7ff38 67.5%,#c3ff3c 73.4%,#c0ff3f 79.2%,#bbff44 84.1%,#b8ff47 88.9%,#b7ff48 92.8%,#b7ff48 95.8%,#b7ff48 98.7%)"></i><i style="left:374px;width:2.6px;background:linear-gradient(#daff25 1.3%,#d9ff26 4.2%,#d9ff26 7.1%,#d6ff29 11%,#d5ff2a 14.9%,#d4ff2b 20.8%,#d3ff2c 27.6%,#d2ff2d 35.4%,#d2ff2d 43.2%,#d1ff2e 50%,#ceff31 55.8%,#c8ff37 61.7%,#c3ff3c 67.5%,#bfff40 73.4%,#bdff42 79.2%,#b9ff46 84.1%,#b6ff49 88.9%,#b6ff49 92.8%,#b6ff49 95.8%,#b7ff48 98.7%)"></i><i style="left:376px;width:2.6px;background:linear-gradient(#d2ff2d 1.3%,#d2ff2d 4.2%,#d1ff2e 7.1%,#d0ff2f 11%,#cfff30 14.9%,#ceff31 20.8%,#ceff31 27.6%,#ceff31 35.4%,#cdff32 43.2%,#cdff32 50%,#caff35 55.8%,#c5ff3a 61.7%,#bfff40 67.5%,#bcff43 73.4%,#b9ff46 79.2%,#b6ff49 84.1%,#b4ff4b 88.9%,#b4ff4b 92.8%,#b6ff49 95.8%,#b6ff49 98.7%)"></i><i style="left:378px;width:2.6px;background:linear-gradient(#ccff33 1.3%,#cbff34 4.2%,#cbff34 7.1%,#caff35 11%,#caff35 14.9%,#caff35 20.8%,#c9ff36 27.6%,#c9ff36 35.4%,#c9ff36 43.2%,#c9ff36 50%,#c6ff39 55.8%,#c1ff3e 61.7%,#bbff44 67.5%,#b8ff47 73.4%,#b6ff49 79.2%,#b3ff4c 84.1%,#b2ff4d 88.9%,#b3ff4c 92.8%,#b5ff4a 95.8%,#b6ff49 98.7%)"></i><i style="left:380px;width:2.6px;background:linear-gradient(#c6ff39 1.3%,#c6ff39 4.2%,#c6ff39 7.1%,#c5ff3a 11%,#c5ff3a 14.9%,#c5ff3a 20.8%,#c5ff3a 27.6%,#c5ff3a 35.4%,#c5ff3a 43.2%,#c4ff3b 50%,#c2ff3d 55.8%,#bdff42 61.7%,#b7ff48 67.5%,#b4ff4b 73.4%,#b3ff4c 79.2%,#afff50 84.1%,#afff50 88.9%,#b1ff4e 92.8%,#b4ff4b 95.8%,#b5ff4a 98.7%)"></i><i style="left:382px;width:2.6px;background:linear-gradient(#c0ff3f 1.3%,#c0ff3f 4.2%,#c0ff3f 7.1%,#c0ff3f 11%,#c0ff3f 14.9%,#c0ff3f 20.8%,#c0ff3f 27.6%,#c0ff3f 35.4%,#c0ff3f 43.2%,#bfff40 50%,#bdff42 55.8%,#b8ff47 61.7%,#b3ff4c 67.5%,#b0ff4f 73.4%,#aeff51 79.2%,#abff54 84.1%,#acff53 88.9%,#afff50 92.8%,#b3ff4c 95.8%,#b4ff4b 98.7%)"></i><i style="left:384px;width:2.6px;background:linear-gradient(#baff45 1.3%,#baff45 4.2%,#baff45 7.1%,#baff45 11%,#baff45 14.9%,#baff45 20.8%,#baff45 27.6%,#baff45 35.4%,#baff45 43.2%,#baff45 50%,#b7ff48 55.8%,#b2ff4d 61.7%,#adff52 67.5%,#aaff55 73.4%,#a9ff56 79.2%,#a5ff5a 84.1%,#a8ff57 88.9%,#acff53 92.8%,#b1ff4e 95.8%,#b3ff4c 98.7%)"></i><i style="left:386px;width:2.6px;background:linear-gradient(#b3ff4c 1.3%,#b3ff4c 4.2%,#b3ff4c 7.1%,#b3ff4c 11%,#b3ff4c 14.9%,#b3ff4c 20.8%,#b3ff4c 27.6%,#b3ff4c 35.4%,#b3ff4c 43.2%,#b3ff4c 50%,#b0ff4f 55.8%,#abff54 61.7%,#a6ff59 67.5%,#a3ff5c 73.4%,#a2ff5d 79.2%,#9eff61 84.1%,#a3ff5c 88.9%,#a9ff56 92.8%,#afff50 95.8%,#b2ff4d 98.7%)"></i><i style="left:388px;width:2.6px;background:linear-gradient(#abff54 1.3%,#abff54 4.2%,#abff54 7.1%,#abff54 11%,#abff54 14.9%,#abff54 20.8%,#abff54 27.6%,#abff54 35.4%,#abff54 43.2%,#abff54 50%,#a8ff57 55.8%,#a3ff5c 61.7%,#9eff61 67.5%,#9bff64 73.4%,#9aff65 79.2%,#96ff69 84.1%,#9eff61 88.9%,#a5ff5a 92.8%,#adff52 95.8%,#b0ff4f 98.7%)"></i><i style="left:390px;width:2.6px;background:linear-gradient(#a1ff5e 1.3%,#a1ff5e 4.2%,#a1ff5e 7.1%,#a1ff5e 11%,#a1ff5e 14.9%,#a1ff5e 20.8%,#a1ff5e 27.6%,#a1ff5e 35.4%,#a1ff5e 43.2%,#a1ff5e 50%,#9fff60 55.8%,#9aff65 61.7%,#95ff6a 67.5%,#92ff6d 73.4%,#90ff6f 79.2%,#8dff72 84.1%,#97ff68 88.9%,#a0ff5f 92.8%,#aaff55 95.8%,#aeff51 98.7%)"></i><i style="left:392px;width:2.6px;background:linear-gradient(#97ff68 1.3%,#97ff68 4.2%,#97ff68 7.1%,#97ff68 11%,#97ff68 14.9%,#97ff68 20.8%,#97ff68 27.6%,#97ff68 35.4%,#97ff68 43.2%,#97ff68 50%,#95ff6a 55.8%,#90ff6f 61.7%,#8bff74 67.5%,#88ff77 73.4%,#87ff78 79.2%,#83ff7c 84.1%,#90ff6f 88.9%,#9bff64 92.8%,#a7ff58 95.8%,#acff53 98.7%)"></i><i style="left:394px;width:2.6px;background:linear-gradient(#8dff72 1.3%,#8dff72 4.2%,#8dff72 7.1%,#8dff72 11%,#8dff72 14.9%,#8dff72 20.8%,#8dff72 27.6%,#8dff72 35.4%,#8dff72 43.2%,#8dff72 50%,#8bff74 55.8%,#86ff79 61.7%,#81ff7e 67.5%,#7eff81 73.4%,#7cff83 79.2%,#79ff86 84.1%,#88ff77 88.9%,#96ff69 92.8%,#a5ff5a 95.8%,#aaff55 98.7%)"></i><i style="left:396px;width:2.6px;background:linear-gradient(#84ff7b 1.3%,#84ff7b 4.2%,#84ff7b 7.1%,#84ff7b 11%,#84ff7b 14.9%,#84ff7b 20.8%,#84ff7b 27.6%,#84ff7b 35.4%,#84ff7b 43.2%,#84ff7b 50%,#82ff7d 55.8%,#7dff82 61.7%,#78ff87 67.5%,#75ff8a 73.4%,#73ff8c 79.2%,#70ff8f 84.1%,#82ff7d 88.9%,#91ff6e 92.8%,#a2ff5d 95.8%,#a9ff56 98.7%)"></i><i style="left:398px;width:2.6px;background:linear-gradient(#7cff83 1.3%,#7cff83 4.2%,#7cff83 7.1%,#7cff83 11%,#7cff83 14.9%,#7cff83 20.8%,#7cff83 27.6%,#7cff83 35.4%,#7cff83 43.2%,#7cff83 50%,#7aff85 55.8%,#75ff8a 61.7%,#70ff8f 67.5%,#6dff92 73.4%,#6bff94 79.2%,#68ff97 84.1%,#7cff83 88.9%,#8dff72 92.8%,#a0ff5f 95.8%,#a7ff58 98.7%)"></i><i style="left:400px;width:2.6px;background:linear-gradient(#76ff89 1.3%,#76ff89 4.2%,#76ff89 7.1%,#76ff89 11%,#76ff89 14.9%,#76ff89 20.8%,#76ff89 27.6%,#76ff89 35.4%,#76ff89 43.2%,#76ff89 50%,#74ff8b 55.8%,#6fff90 61.7%,#6aff95 67.5%,#67ff98 73.4%,#65ff9a 79.2%,#62ff9d 84.1%,#77ff88 88.9%,#8aff75 92.8%,#9eff61 95.8%,#a6ff59 98.7%)"></i><i style="left:402px;width:2.6px;background:linear-gradient(#73ff8c 1.3%,#73ff8c 4.2%,#73ff8c 7.1%,#73ff8c 11%,#73ff8c 14.9%,#73ff8c 20.8%,#73ff8c 27.6%,#73ff8c 35.4%,#73ff8c 43.2%,#73ff8c 50%,#71ff8e 55.8%,#6cff93 61.7%,#67ff98 67.5%,#64ff9b 73.4%,#62ff9d 79.2%,#5fffa0 84.1%,#75ff8a 88.9%,#88ff77 92.8%,#9dff62 95.8%,#a5ff5a 98.7%)"></i><i style="left:404px;width:2.6px;background:linear-gradient(#73ff8c 1.3%,#73ff8c 4.2%,#73ff8c 7.1%,#73ff8c 11%,#73ff8c 14.9%,#73ff8c 20.8%,#73ff8c 27.6%,#73ff8c 35.4%,#73ff8c 43.2%,#73ff8c 50%,#71ff8e 55.8%,#6cff93 61.7%,#66ff99 67.5%,#64ff9b 73.4%,#62ff9d 79.2%,#5fffa0 84.1%,#75ff8a 88.9%,#88ff77 92.8%,#9dff62 95.8%,#a5ff5a 98.7%)"></i><i style="left:406px;width:2.6px;background:linear-gradient(#76ff89 1.3%,#76ff89 4.2%,#76ff89 7.1%,#76ff89 11%,#76ff89 14.9%,#76ff89 20.8%,#76ff89 27.6%,#76ff89 35.4%,#76ff89 43.2%,#76ff89 50%,#74ff8b 55.8%,#6fff90 61.7%,#6aff95 67.5%,#67ff98 73.4%,#65ff9a 79.2%,#62ff9d 84.1%,#77ff88 88.9%,#8aff75 92.8%,#9eff61 95.8%,#a6ff59 98.7%)"></i><i style="left:408px;width:2.6px;background:linear-gradient(#7cff83 1.3%,#7cff83 4.2%,#7cff83 7.1%,#7cff83 11%,#7cff83 14.9%,#7cff83 20.8%,#7cff83 27.6%,#7cff83 35.4%,#7cff83 43.2%,#7cff83 50%,#7aff85 55.8%,#75ff8a 61.7%,#6fff90 67.5%,#6dff92 73.4%,#6bff94 79.2%,#68ff97 84.1%,#7cff83 88.9%,#8dff72 92.8%,#a0ff5f 95.8%,#a7ff58 98.7%)"></i></div></div>
<svg width="947" height="1032" viewBox="0 0 947 1032">
<defs>
<filter id="soft" x="-5%" y="-5%" width="110%" height="110%"><feGaussianBlur stdDeviation="0.45"/></filter>
</defs>
<g id="pa"><text x="0.5" y="17.2" font-size="21.5" fill="#000" stroke="#000" stroke-width="0.9">a</text><path d="M35.2,118 36,118 36.8,118 37.6,118.1 38.4,118.1 39.2,118.1 40,118.1 40.8,118.1 41.6,118.2 42.4,118.2 43.2,118.2 44,118.2 44.8,118.2 45.6,118.3 46.4,118.3 47.2,118.3 48,118.3 48.8,118.3 49.6,118.3 50.4,118.4 51.2,118.4 52,118.4 52.8,118.4 53.6,118.4 54.4,118.4 55.2,118.5 56,118.5 56.8,118.5 57.6,118.5 58.4,118.5 59.2,118.5 60,118.5 60.8,118.5 61.6,118.6 62.4,118.6 63.2,118.6 64,118.6 64.8,118.6 65.6,118.6 66.4,118.6 67.2,118.6 68,118.6 68.8,118.6 69.6,118.6 70.4,118.6 71.2,118.6 72,118.6 72.8,118.6 73.6,118.7 74.4,118.7 75.2,118.7 76,118.7 76.8,118.7 77.6,118.7 78.4,118.7 79.2,118.8 80,118.8 80.8,118.8 81.6,118.8 82.4,118.9 83.2,118.9 84,118.9 84.8,118.9 85.6,119 86.4,119 87.2,119 88,119 88.8,119 89.6,119.1 90.4,119.1 91.2,119.1 92,119.1 92.8,119.1 93.6,119.1 94.4,119.1 95.2,119.1 96,119.1 96.8,119.1 97.6,119.1 98.4,119.1 99.2,119 100,119 100.8,119 101.6,118.9 102.4,118.8 103.2,118.7 104,118.6 104.8,118.5 105.6,118.4 106.4,118.2 107.2,118 108,117.8 108.8,117.6 109.6,117.3 110.4,117 111.2,116.7 112,116.3 112.8,115.9 113.6,115.5 114.4,115 115.2,114.5 116,113.9 116.8,113.3 117.6,112.7 118.4,111.9 119.2,111.2 120,110.3 120.8,109.4 121.6,108.4 122.4,107.4 123.2,106.3 124,105.1 124.8,103.8 125.6,102.5 126.4,101.1 127.2,99.6 128,98.1 128.8,96.4 129.6,94.7 130.4,92.9 131.2,91 132,89.1 132.8,87.1 133.6,85 134.4,82.8 135.2,80.6 136,78.3 136.8,76 137.6,73.6 138.4,71.1 139.2,68.7 140,66.2 140.8,63.6 141.6,61.1 142.4,58.6 143.2,56 144,53.5 144.8,51 145.6,48.5 146.4,46.1 147.2,43.7 148,41.5 148.8,39.3 149.6,37.2 150.4,35.2 151.2,33.4 152,31.7 152.8,30.1 153.6,28.8 154.4,27.6 155.2,26.6 156,25.8 156.8,25.3 157.6,24.9 158.4,24.8 159.2,24.9 160,25.2 160.8,25.8 161.6,26.5 162.4,27.5 163.2,28.7 164,30.1 164.8,31.7 165.6,33.5 166.4,35.4 167.2,37.5 168,39.7 168.8,42.1 169.6,44.5 170.4,47.1 171.2,49.7 172,52.4 172.8,55.1 173.6,57.9 174.4,60.7 175.2,63.6 176,66.4 176.8,69.3 177.6,72.1 178.4,74.9 179.2,77.7 180,80.4 180.8,83.1 181.6,85.8 182.4,88.4 183.2,90.9 184,93.4 184.8,95.8 185.6,98.2 186.4,100.4 187.2,102.6 188,104.7 188.8,106.7 189.6,108.7 190.4,110.6 191.2,112.4 192,114.1 192.8,115.7 193.6,117.2 194.4,118.7 195.2,120.1 196,121.4 196.8,122.7 197.6,123.9 198.4,125 199.2,126 200,127 200.8,128 201.6,128.8 202.4,129.6 203.2,130.4 204,131.1 204.8,131.8 205.6,132.4 206.4,133 207.2,133.5 208,134 208.8,134.5 209.6,134.9 210.4,135.4 211.2,135.7 212,136.1 212.8,136.4 213.6,136.7 214.4,137 215.2,137.3 216,137.5 216.8,137.7 217.6,137.9 218.4,138.1 219.2,138.3 220,138.5 220.8,138.7 221.6,138.8 222.4,139 223.2,139.1 224,139.3 224.8,139.4 225.6,139.5 226.4,139.7 227.2,139.8 227.3,139.8 L227.3,143 227.2,143 226.4,143 225.6,142.9 224.8,142.9 224,142.9 223.2,142.8 222.4,142.8 221.6,142.8 220.8,142.7 220,142.7 219.2,142.6 218.4,142.6 217.6,142.6 216.8,142.5 216,142.5 215.2,142.5 214.4,142.4 213.6,142.4 212.8,142.4 212,142.3 211.2,142.3 210.4,142.2 209.6,142.2 208.8,142.1 208,142.1 207.2,142 206.4,141.9 205.6,141.9 204.8,141.8 204,141.7 203.2,141.7 202.4,141.6 201.6,141.5 200.8,141.4 200,141.3 199.2,141.3 198.4,141.2 197.6,141.1 196.8,141 196,140.9 195.2,140.8 194.4,140.7 193.6,140.6 192.8,140.5 192,140.4 191.2,140.3 190.4,140.2 189.6,140.1 188.8,140 188,139.9 187.2,139.7 186.4,139.6 185.6,139.5 184.8,139.4 184,139.3 183.2,139.1 182.4,139 181.6,138.9 180.8,138.8 180,138.6 179.2,138.5 178.4,138.4 177.6,138.2 176.8,138.1 176,138 175.2,137.8 174.4,137.7 173.6,137.6 172.8,137.4 172,137.3 171.2,137.1 170.4,137 169.6,136.8 168.8,136.7 168,136.6 167.2,136.4 166.4,136.3 165.6,136.1 164.8,136 164,135.8 163.2,135.6 162.4,135.5 161.6,135.3 160.8,135.2 160,135 159.2,134.9 158.4,134.7 157.6,134.6 156.8,134.4 156,134.2 155.2,134.1 154.4,133.9 153.6,133.8 152.8,133.6 152,133.4 151.2,133.3 150.4,133.1 149.6,132.9 148.8,132.8 148,132.6 147.2,132.5 146.4,132.3 145.6,132.1 144.8,132 144,131.8 143.2,131.6 142.4,131.5 141.6,131.3 140.8,131.1 140,131 139.2,130.8 138.4,130.7 137.6,130.5 136.8,130.3 136,130.2 135.2,130 134.4,129.8 133.6,129.7 132.8,129.5 132,129.4 131.2,129.2 130.4,129 129.6,128.9 128.8,128.7 128,128.5 127.2,128.4 126.4,128.2 125.6,128.1 124.8,127.9 124,127.8 123.2,127.6 122.4,127.5 121.6,127.3 120.8,127.1 120,127 119.2,126.8 118.4,126.7 117.6,126.5 116.8,126.4 116,126.2 115.2,126.1 114.4,126 113.6,125.8 112.8,125.7 112,125.5 111.2,125.4 110.4,125.2 109.6,125.1 108.8,125 108,124.8 107.2,124.7 106.4,124.6 105.6,124.4 104.8,124.3 104,124.2 103.2,124.1 102.4,123.9 101.6,123.8 100.8,123.7 100,123.6 99.2,123.4 98.4,123.3 97.6,123.2 96.8,123.1 96,123 95.2,122.9 94.4,122.8 93.6,122.7 92.8,122.6 92,122.5 91.2,122.4 90.4,122.3 89.6,122.2 88.8,122.1 88,122 87.2,121.9 86.4,121.8 85.6,121.7 84.8,121.6 84,121.5 83.2,121.5 82.4,121.4 81.6,121.3 80.8,121.2 80,121.2 79.2,121.1 78.4,121 77.6,121 76.8,120.9 76,120.9 75.2,120.8 74.4,120.8 73.6,120.7 72.8,120.7 72,120.6 71.2,120.6 70.4,120.5 69.6,120.5 68.8,120.5 68,120.4 67.2,120.4 66.4,120.4 65.6,120.3 64.8,120.3 64,120.3 63.2,120.2 62.4,120.2 61.6,120.2 60.8,120.1 60,120.1 59.2,120 58.4,120 57.6,120 56.8,119.9 56,119.9 55.2,119.9 54.4,119.8 53.6,119.8 52.8,119.8 52,119.7 51.2,119.7 50.4,119.7 49.6,119.6 48.8,119.6 48,119.6 47.2,119.5 46.4,119.5 45.6,119.5 44.8,119.4 44,119.4 43.2,119.3 42.4,119.3 41.6,119.3 40.8,119.2 40,119.2 39.2,119.2 38.4,119.1 37.6,119.1 36.8,119.1 36,119 35.2,119Z" fill="#f7b8f9" fill-opacity="1"/><path d="M35.2,115.2 36,115 36.8,114.7 37.6,114.5 38.4,114.2 39.2,113.8 40,113.5 40.8,113.1 41.6,112.7 42.4,112.3 43.2,111.8 44,111.3 44.8,110.8 45.6,110.2 46.4,109.6 47.2,109 48,108.4 48.8,107.7 49.6,106.9 50.4,106.2 51.2,105.4 52,104.6 52.8,103.7 53.6,102.8 54.4,101.8 55.2,100.9 56,99.8 56.8,98.8 57.6,97.7 58.4,96.6 59.2,95.5 60,94.3 60.8,93.1 61.6,91.9 62.4,90.7 63.2,89.4 64,88.1 64.8,86.8 65.6,85.5 66.4,84.2 67.2,82.9 68,81.5 68.8,80.2 69.6,78.9 70.4,77.6 71.2,76.3 72,75 72.8,73.7 73.6,72.5 74.4,71.3 75.2,70.2 76,69.1 76.8,68 77.6,67 78.4,66 79.2,65.1 80,64.3 80.8,63.5 81.6,62.8 82.4,62.1 83.2,61.6 84,61.1 84.8,60.7 85.6,60.4 86.4,60.2 87.2,60.1 88,60 88.8,60.1 89.6,60.2 90.4,60.4 91.2,60.7 92,61.2 92.8,61.6 93.6,62.2 94.4,62.9 95.2,63.6 96,64.4 96.8,65.3 97.6,66.3 98.4,67.3 99.2,68.4 100,69.5 100.8,70.7 101.6,72 102.4,73.3 103.2,74.6 104,76 104.8,77.4 105.6,78.8 106.4,80.3 107.2,81.7 108,83.2 108.8,84.7 109.6,86.2 110.4,87.7 111.2,89.2 112,90.7 112.8,92.2 113.6,93.7 114.4,95.1 115.2,96.6 116,98 116.8,99.4 117.6,100.8 118.4,102.1 119.2,103.4 120,104.7 120.8,106 121.6,107.2 122.4,108.4 123.2,109.6 124,110.7 124.8,111.8 125.6,112.9 126.4,113.9 127.2,114.9 128,115.9 128.8,116.8 129.6,117.7 130.4,118.5 131.2,119.3 132,120.1 132.8,120.9 133.6,121.6 134.4,122.3 135.2,122.9 136,123.6 136.8,124.2 137.6,124.8 138.4,125.3 139.2,125.8 140,126.3 140.8,126.8 141.6,127.3 142.4,127.7 143.2,128.1 144,128.5 144.8,128.9 145.6,129.3 146.4,129.7 147.2,130 148,130.3 148.8,130.6 149.6,130.9 150.4,131.2 151.2,131.5 152,131.8 152.8,132 153.6,132.3 154.4,132.5 155.2,132.8 156,133 156.8,133.2 157.6,133.4 158.4,133.7 159.2,133.9 160,134.1 160.8,134.3 161.6,134.5 162.4,134.7 163.2,134.8 164,135 164.8,135.2 165.6,135.4 166.4,135.6 167.2,135.7 168,135.9 168.8,136.1 169.6,136.2 170.4,136.4 171.2,136.6 172,136.7 172.8,136.9 173.6,137 174.4,137.2 175.2,137.3 176,137.5 176.8,137.6 177.6,137.8 178.4,137.9 179.2,138 180,138.2 180.8,138.3 181.6,138.5 182.4,138.6 183.2,138.7 184,138.9 184.8,139 185.6,139.1 186.4,139.2 187.2,139.4 188,139.5 188.8,139.6 189.6,139.7 190.4,139.8 191.2,139.9 192,140 192.8,140.2 193.6,140.3 194.4,140.4 195.2,140.5 196,140.6 196.8,140.7 197.6,140.8 198.4,140.9 199.2,140.9 200,141 200.8,141.1 201.6,141.2 202.4,141.3 203.2,141.4 204,141.4 204.8,141.5 205.6,141.6 206.4,141.6 207.2,141.7 208,141.8 208.8,141.8 209.6,141.9 210.4,142 211.2,142 212,142.1 212.8,142.1 213.6,142.1 214.4,142.2 215.2,142.2 216,142.3 216.8,142.3 217.6,142.3 218.4,142.4 219.2,142.4 220,142.5 220.8,142.5 221.6,142.5 222.4,142.6 223.2,142.6 224,142.6 224.8,142.7 225.6,142.7 226.4,142.8 227.2,142.8 227.3,142.8 L227.3,143 227.2,143 226.4,143 225.6,142.9 224.8,142.9 224,142.9 223.2,142.8 222.4,142.8 221.6,142.8 220.8,142.7 220,142.7 219.2,142.6 218.4,142.6 217.6,142.6 216.8,142.5 216,142.5 215.2,142.5 214.4,142.4 213.6,142.4 212.8,142.4 212,142.3 211.2,142.3 210.4,142.2 209.6,142.2 208.8,142.1 208,142.1 207.2,142 206.4,141.9 205.6,141.9 204.8,141.8 204,141.7 203.2,141.7 202.4,141.6 201.6,141.5 200.8,141.4 200,141.3 199.2,141.3 198.4,141.2 197.6,141.1 196.8,141 196,140.9 195.2,140.8 194.4,140.7 193.6,140.6 192.8,140.5 192,140.4 191.2,140.3 190.4,140.2 189.6,140.1 188.8,140 188,139.9 187.2,139.7 186.4,139.6 185.6,139.5 184.8,139.4 184,139.3 183.2,139.1 182.4,139 181.6,138.9 180.8,138.8 180,138.6 179.2,138.5 178.4,138.4 177.6,138.2 176.8,138.1 176,138 175.2,137.8 174.4,137.7 173.6,137.6 172.8,137.4 172,137.3 171.2,137.1 170.4,137 169.6,136.8 168.8,136.7 168,136.6 167.2,136.4 166.4,136.3 165.6,136.1 164.8,136 164,135.8 163.2,135.6 162.4,135.5 161.6,135.3 160.8,135.2 160,135 159.2,134.9 158.4,134.7 157.6,134.6 156.8,134.4 156,134.2 155.2,134.1 154.4,133.9 153.6,133.8 152.8,133.6 152,133.4 151.2,133.3 150.4,133.1 149.6,132.9 148.8,132.8 148,132.6 147.2,132.5 146.4,132.3 145.6,132.1 144.8,132 144,131.8 143.2,131.6 142.4,131.5 141.6,131.3 140.8,131.1 140,131 139.2,130.8 138.4,130.7 137.6,130.5 136.8,130.3 136,130.2 135.2,130 134.4,129.8 133.6,129.7 132.8,129.5 132,129.4 131.2,129.2 130.4,129 129.6,128.9 128.8,128.7 128,128.5 127.2,128.4 126.4,128.2 125.6,128.1 124.8,127.9 124,127.8 123.2,127.6 122.4,127.5 121.6,127.3 120.8,127.1 120,127 119.2,126.8 118.4,126.7 117.6,126.5 116.8,126.4 116,126.2 115.2,126.1 114.4,126 113.6,125.8 112.8,125.7 112,125.5 111.2,125.4 110.4,125.2 109.6,125.1 108.8,125 108,124.8 107.2,124.7 106.4,124.6 105.6,124.4 104.8,124.3 104,124.2 103.2,124.1 102.4,123.9 101.6,123.8 100.8,123.7 100,123.6 99.2,123.4 98.4,123.3 97.6,123.2 96.8,123.1 96,123 95.2,122.9 94.4,122.8 93.6,122.7 92.8,122.6 92,122.5 91.2,122.4 90.4,122.3 89.6,122.2 88.8,122.1 88,122 87.2,121.9 86.4,121.8 85.6,121.7 84.8,121.6 84,121.5 83.2,121.5 82.4,121.4 81.6,121.3 80.8,121.2 80,121.2 79.2,121.1 78.4,121 77.6,121 76.8,120.9 76,120.9 75.2,120.8 74.4,120.8 73.6,120.7 72.8,120.7 72,120.6 71.2,120.6 70.4,120.5 69.6,120.5 68.8,120.5 68,120.4 67.2,120.4 66.4,120.4 65.6,120.3 64.8,120.3 64,120.3 63.2,120.2 62.4,120.2 61.6,120.2 60.8,120.1 60,120.1 59.2,120 58.4,120 57.6,120 56.8,119.9 56,119.9 55.2,119.9 54.4,119.8 53.6,119.8 52.8,119.8 52,119.7 51.2,119.7 50.4,119.7 49.6,119.6 48.8,119.6 48,119.6 47.2,119.5 46.4,119.5 45.6,119.5 44.8,119.4 44,119.4 43.2,119.3 42.4,119.3 41.6,119.3 40.8,119.2 40,119.2 39.2,119.2 38.4,119.1 37.6,119.1 36.8,119.1 36,119 35.2,119Z" fill="#b4f6e8" fill-opacity="1"/><path d="M35.2,118 36,118 36.8,118 37.6,118.1 38.4,118.1 39.2,118.1 40,118.1 40.8,118.1 41.6,118.2 42.4,118.2 43.2,118.2 44,118.2 44.8,118.2 45.6,118.3 46.4,118.3 47.2,118.3 48,118.3 48.8,118.3 49.6,118.3 50.4,118.4 51.2,118.4 52,118.4 52.8,118.4 53.6,118.4 54.4,118.4 55.2,118.5 56,118.5 56.8,118.5 57.6,118.5 58.4,118.5 59.2,118.5 60,118.5 60.8,118.5 61.6,118.6 62.4,118.6 63.2,118.6 64,118.6 64.8,118.6 65.6,118.6 66.4,118.6 67.2,118.6 68,118.6 68.8,118.6 69.6,118.6 70.4,118.6 71.2,118.6 72,118.6 72.8,118.6 73.6,118.7 74.4,118.7 75.2,118.7 76,118.7 76.8,118.7 77.6,118.7 78.4,118.7 79.2,118.8 80,118.8 80.8,118.8 81.6,118.8 82.4,118.9 83.2,118.9 84,118.9 84.8,118.9 85.6,119 86.4,119 87.2,119 88,119 88.8,119 89.6,119.1 90.4,119.1 91.2,119.1 92,119.1 92.8,119.1 93.6,119.1 94.4,119.1 95.2,119.1 96,119.1 96.8,119.1 97.6,119.1 98.4,119.1 99.2,119 100,119 100.8,119 101.6,118.9 102.4,118.8 103.2,118.7 104,118.6 104.8,118.5 105.6,118.4 106.4,118.2 107.2,118 108,117.8 108.8,117.6 109.6,117.3 110.4,117 111.2,116.7 112,116.3 112.8,115.9 113.6,115.5 114.4,115 115.2,114.5 116,113.9 116.8,113.3 117.6,112.7 118.4,111.9 119.2,111.2 120,110.3 120.8,109.4 121.6,108.4 122.4,108.4 123.2,109.6 124,110.7 124.8,111.8 125.6,112.9 126.4,113.9 127.2,114.9 128,115.9 128.8,116.8 129.6,117.7 130.4,118.5 131.2,119.3 132,120.1 132.8,120.9 133.6,121.6 134.4,122.3 135.2,122.9 136,123.6 136.8,124.2 137.6,124.8 138.4,125.3 139.2,125.8 140,126.3 140.8,126.8 141.6,127.3 142.4,127.7 143.2,128.1 144,128.5 144.8,128.9 145.6,129.3 146.4,129.7 147.2,130 148,130.3 148.8,130.6 149.6,130.9 150.4,131.2 151.2,131.5 152,131.8 152.8,132 153.6,132.3 154.4,132.5 155.2,132.8 156,133 156.8,133.2 157.6,133.4 158.4,133.7 159.2,133.9 160,134.1 160.8,134.3 161.6,134.5 162.4,134.7 163.2,134.8 164,135 164.8,135.2 165.6,135.4 166.4,135.6 167.2,135.7 168,135.9 168.8,136.1 169.6,136.2 170.4,136.4 171.2,136.6 172,136.7 172.8,136.9 173.6,137 174.4,137.2 175.2,137.3 176,137.5 176.8,137.6 177.6,137.8 178.4,137.9 179.2,138 180,138.2 180.8,138.3 181.6,138.5 182.4,138.6 183.2,138.7 184,138.9 184.8,139 185.6,139.1 186.4,139.2 187.2,139.4 188,139.5 188.8,139.6 189.6,139.7 190.4,139.8 191.2,139.9 192,140 192.8,140.2 193.6,140.3 194.4,140.4 195.2,140.5 196,140.6 196.8,140.7 197.6,140.8 198.4,140.9 199.2,140.9 200,141 200.8,141.1 201.6,141.2 202.4,141.3 203.2,141.4 204,141.4 204.8,141.5 205.6,141.6 206.4,141.6 207.2,141.7 208,141.8 208.8,141.8 209.6,141.9 210.4,142 211.2,142 212,142.1 212.8,142.1 213.6,142.1 214.4,142.2 215.2,142.2 216,142.3 216.8,142.3 217.6,142.3 218.4,142.4 219.2,142.4 220,142.5 220.8,142.5 221.6,142.5 222.4,142.6 223.2,142.6 224,142.6 224.8,142.7 225.6,142.7 226.4,142.8 227.2,142.8 227.3,142.8 L227.3,143 227.2,143 226.4,143 225.6,142.9 224.8,142.9 224,142.9 223.2,142.8 222.4,142.8 221.6,142.8 220.8,142.7 220,142.7 219.2,142.6 218.4,142.6 217.6,142.6 216.8,142.5 216,142.5 215.2,142.5 214.4,142.4 213.6,142.4 212.8,142.4 212,142.3 211.2,142.3 210.4,142.2 209.6,142.2 208.8,142.1 208,142.1 207.2,142 206.4,141.9 205.6,141.9 204.8,141.8 204,141.7 203.2,141.7 202.4,141.6 201.6,141.5 200.8,141.4 200,141.3 199.2,141.3 198.4,141.2 197.6,141.1 196.8,141 196,140.9 195.2,140.8 194.4,140.7 193.6,140.6 192.8,140.5 192,140.4 191.2,140.3 190.4,140.2 189.6,140.1 188.8,140 188,139.9 187.2,139.7 186.4,139.6 185.6,139.5 184.8,139.4 184,139.3 183.2,139.1 182.4,139 181.6,138.9 180.8,138.8 180,138.6 179.2,138.5 178.4,138.4 177.6,138.2 176.8,138.1 176,138 175.2,137.8 174.4,137.7 173.6,137.6 172.8,137.4 172,137.3 171.2,137.1 170.4,137 169.6,136.8 168.8,136.7 168,136.6 167.2,136.4 166.4,136.3 165.6,136.1 164.8,136 164,135.8 163.2,135.6 162.4,135.5 161.6,135.3 160.8,135.2 160,135 159.2,134.9 158.4,134.7 157.6,134.6 156.8,134.4 156,134.2 155.2,134.1 154.4,133.9 153.6,133.8 152.8,133.6 152,133.4 151.2,133.3 150.4,133.1 149.6,132.9 148.8,132.8 148,132.6 147.2,132.5 146.4,132.3 145.6,132.1 144.8,132 144,131.8 143.2,131.6 142.4,131.5 141.6,131.3 140.8,131.1 140,131 139.2,130.8 138.4,130.7 137.6,130.5 136.8,130.3 136,130.2 135.2,130 134.4,129.8 133.6,129.7 132.8,129.5 132,129.4 131.2,129.2 130.4,129 129.6,128.9 128.8,128.7 128,128.5 127.2,128.4 126.4,128.2 125.6,128.1 124.8,127.9 124,127.8 123.2,127.6 122.4,127.5 121.6,127.3 120.8,127.1 120,127 119.2,126.8 118.4,126.7 117.6,126.5 116.8,126.4 116,126.2 115.2,126.1 114.4,126 113.6,125.8 112.8,125.7 112,125.5 111.2,125.4 110.4,125.2 109.6,125.1 108.8,125 108,124.8 107.2,124.7 106.4,124.6 105.6,124.4 104.8,124.3 104,124.2 103.2,124.1 102.4,123.9 101.6,123.8 100.8,123.7 100,123.6 99.2,123.4 98.4,123.3 97.6,123.2 96.8,123.1 96,123 95.2,122.9 94.4,122.8 93.6,122.7 92.8,122.6 92,122.5 91.2,122.4 90.4,122.3 89.6,122.2 88.8,122.1 88,122 87.2,121.9 86.4,121.8 85.6,121.7 84.8,121.6 84,121.5 83.2,121.5 82.4,121.4 81.6,121.3 80.8,121.2 80,121.2 79.2,121.1 78.4,121 77.6,121 76.8,120.9 76,120.9 75.2,120.8 74.4,120.8 73.6,120.7 72.8,120.7 72,120.6 71.2,120.6 70.4,120.5 69.6,120.5 68.8,120.5 68,120.4 67.2,120.4 66.4,120.4 65.6,120.3 64.8,120.3 64,120.3 63.2,120.2 62.4,120.2 61.6,120.2 60.8,120.1 60,120.1 59.2,120 58.4,120 57.6,120 56.8,119.9 56,119.9 55.2,119.9 54.4,119.8 53.6,119.8 52.8,119.8 52,119.7 51.2,119.7 50.4,119.7 49.6,119.6 48.8,119.6 48,119.6 47.2,119.5 46.4,119.5 45.6,119.5 44.8,119.4 44,119.4 43.2,119.3 42.4,119.3 41.6,119.3 40.8,119.2 40,119.2 39.2,119.2 38.4,119.1 37.6,119.1 36.8,119.1 36,119 35.2,119Z" fill="#d2b0f2" fill-opacity="1"/><path d="M35.2,119 36,119 36.8,119.1 37.6,119.1 38.4,119.1 39.2,119.2 40,119.2 40.8,119.2 41.6,119.3 42.4,119.3 43.2,119.3 44,119.4 44.8,119.4 45.6,119.5 46.4,119.5 47.2,119.5 48,119.6 48.8,119.6 49.6,119.6 50.4,119.7 51.2,119.7 52,119.7 52.8,119.8 53.6,119.8 54.4,119.8 55.2,119.9 56,119.9 56.8,119.9 57.6,120 58.4,120 59.2,120 60,120.1 60.8,120.1 61.6,120.2 62.4,120.2 63.2,120.2 64,120.3 64.8,120.3 65.6,120.3 66.4,120.4 67.2,120.4 68,120.4 68.8,120.5 69.6,120.5 70.4,120.5 71.2,120.6 72,120.6 72.8,120.7 73.6,120.7 74.4,120.8 75.2,120.8 76,120.9 76.8,120.9 77.6,121 78.4,121 79.2,121.1 80,121.2 80.8,121.2 81.6,121.3 82.4,121.4 83.2,121.5 84,121.5 84.8,121.6 85.6,121.7 86.4,121.8 87.2,121.9 88,122 88.8,122.1 89.6,122.2 90.4,122.3 91.2,122.4 92,122.5 92.8,122.6 93.6,122.7 94.4,122.8 95.2,122.9 96,123 96.8,123.1 97.6,123.2 98.4,123.3 99.2,123.4 100,123.6 100.8,123.7 101.6,123.8 102.4,123.9 103.2,124.1 104,124.2 104.8,124.3 105.6,124.4 106.4,124.6 107.2,124.7 108,124.8 108.8,125 109.6,125.1 110.4,125.2 111.2,125.4 112,125.5 112.8,125.7 113.6,125.8 114.4,126 115.2,126.1 116,126.2 116.8,126.4 117.6,126.5 118.4,126.7 119.2,126.8 120,127 120.8,127.1 121.6,127.3 122.4,127.5 123.2,127.6 124,127.8 124.8,127.9 125.6,128.1 126.4,128.2 127.2,128.4 128,128.5 128.8,128.7 129.6,128.9 130.4,129 131.2,129.2 132,129.4 132.8,129.5 133.6,129.7 134.4,129.8 135.2,130 136,130.2 136.8,130.3 137.6,130.5 138.4,130.7 139.2,130.8 140,131 140.8,131.1 141.6,131.3 142.4,131.5 143.2,131.6 144,131.8 144.8,132 145.6,132.1 146.4,132.3 147.2,132.5 148,132.6 148.8,132.8 149.6,132.9 150.4,133.1 151.2,133.3 152,133.4 152.8,133.6 153.6,133.8 154.4,133.9 155.2,134.1 156,134.2 156.8,134.4 157.6,134.6 158.4,134.7 159.2,134.9 160,135 160.8,135.2 161.6,135.3 162.4,135.5 163.2,135.6 164,135.8 164.8,136 165.6,136.1 166.4,136.3 167.2,136.4 168,136.6 168.8,136.7 169.6,136.8 170.4,137 171.2,137.1 172,137.3 172.8,137.4 173.6,137.6 174.4,137.7 175.2,137.8 176,138 176.8,138.1 177.6,138.2 178.4,138.4 179.2,138.5 180,138.6 180.8,138.8 181.6,138.9 182.4,139 183.2,139.1 184,139.3 184.8,139.4 185.6,139.5 186.4,139.6 187.2,139.7 188,139.9 188.8,140 189.6,140.1 190.4,140.2 191.2,140.3 192,140.4 192.8,140.5 193.6,140.6 194.4,140.7 195.2,140.8 196,140.9 196.8,141 197.6,141.1 198.4,141.2 199.2,141.3 200,141.3 200.8,141.4 201.6,141.5 202.4,141.6 203.2,141.7 204,141.7 204.8,141.8 205.6,141.9 206.4,141.9 207.2,142 208,142.1 208.8,142.1 209.6,142.2 210.4,142.2 211.2,142.3 212,142.3 212.8,142.4 213.6,142.4 214.4,142.4 215.2,142.5 216,142.5 216.8,142.5 217.6,142.6 218.4,142.6 219.2,142.6 220,142.7 220.8,142.7 221.6,142.8 222.4,142.8 223.2,142.8 224,142.9 224.8,142.9 225.6,142.9 226.4,143 227.2,143 227.3,143" fill="none" stroke="#f3a8d8" stroke-width="1"/><path d="M35.2,114.2 36,114 36.8,113.7 37.6,113.4 38.4,113.1 39.2,112.7 40,112.4 40.8,112 41.6,111.6 42.4,111.1 43.2,110.6 44,110.1 44.8,109.6 45.6,109 46.4,108.4 47.2,107.8 48,107.1 48.8,106.4 49.6,105.7 50.4,104.9 51.2,104.1 52,103.2 52.8,102.3 53.6,101.4 54.4,100.4 55.2,99.4 56,98.4 56.8,97.3 57.6,96.2 58.4,95.1 59.2,93.9 60,92.8 60.8,91.5 61.6,90.3 62.4,89 63.2,87.7 64,86.4 64.8,85.1 65.6,83.8 66.4,82.4 67.2,81.1 68,79.7 68.8,78.3 69.6,77 70.4,75.6 71.2,74.3 72,73 72.8,71.7 73.6,70.5 74.4,69.2 75.2,68 76,66.9 76.8,65.8 77.6,64.7 78.4,63.7 79.2,62.8 80,61.9 80.8,61 81.6,60.3 82.4,59.6 83.2,59 84,58.5 84.8,58 85.6,57.7 86.4,57.4 87.2,57.2 88,57.1 88.8,57 89.6,57.1 90.4,57.3 91.2,57.5 92,57.8 92.8,58.2 93.6,58.7 94.4,59.3 95.2,59.9 96,60.6 96.8,61.4 97.6,62.2 98.4,63.1 99.2,64 100,65 100.8,66 101.6,67.1 102.4,68.2 103.2,69.3 104,70.4 104.8,71.6 105.6,72.7 106.4,73.9 107.2,75 108,76.2 108.8,77.3 109.6,78.4 110.4,79.5 111.2,80.5 112,81.5 112.8,82.5 113.6,83.4 114.4,84.2 115.2,85 116,85.7 116.8,86.3 117.6,86.9 118.4,87.4 119.2,87.8 120,88.1 120.8,88.3 121.6,88.4 122.4,88.4 123.2,88.3 124,88.1 124.8,87.7 125.6,87.3 126.4,86.8 127.2,86.1 128,85.4 128.8,84.5 129.6,83.5 130.4,82.4 131.2,81.2 132,79.8 132.8,78.4 133.6,76.9 134.4,75.2 135.2,73.5 136,71.7 136.8,69.8 137.6,67.8 138.4,65.8 139.2,63.7 140,61.5 140.8,59.3 141.6,57.1 142.4,54.8 143.2,52.5 144,50.2 144.8,47.9 145.6,45.7 146.4,43.5 147.2,41.3 148,39.2 148.8,37.1 149.6,35.2 150.4,33.3 151.2,31.6 152,30 152.8,28.6 153.6,27.3 154.4,26.2 155.2,25.3 156,24.6 156.8,24.1 157.6,23.8 158.4,23.7 159.2,23.9 160,24.2 160.8,24.8 161.6,25.7 162.4,26.7 163.2,27.9 164,29.4 164.8,31 165.6,32.8 166.4,34.7 167.2,36.8 168,39.1 168.8,41.4 169.6,43.9 170.4,46.5 171.2,49.1 172,51.8 172.8,54.6 173.6,57.4 174.4,60.2 175.2,63.1 176,65.9 176.8,68.8 177.6,71.6 178.4,74.4 179.2,77.2 180,80 180.8,82.7 181.6,85.4 182.4,88 183.2,90.5 184,93 184.8,95.4 185.6,97.8 186.4,100 187.2,102.2 188,104.3 188.8,106.4 189.6,108.3 190.4,110.2 191.2,112 192,113.7 192.8,115.3 193.6,116.9 194.4,118.4 195.2,119.8 196,121.1 196.8,122.4 197.6,123.6 198.4,124.7 199.2,125.7 200,126.7 200.8,127.7 201.6,128.5 202.4,129.3 203.2,130.1 204,130.8 204.8,131.5 205.6,132.1 206.4,132.7 207.2,133.3 208,133.8 208.8,134.2 209.6,134.7 210.4,135.1 211.2,135.5 212,135.8 212.8,136.2 213.6,136.5 214.4,136.7 215.2,137 216,137.3 216.8,137.5 217.6,137.7 218.4,137.9 219.2,138.1 220,138.3 220.8,138.5 221.6,138.6 222.4,138.8 223.2,138.9 224,139.1 224.8,139.2 225.6,139.3 226.4,139.5 227.2,139.6 227.3,139.6" fill="none" stroke="#c8c8c8" stroke-width="0.8"/><g fill="#fff" fill-opacity="0.25" stroke="#bebebe" stroke-width="0.7"><circle cx="35.2" cy="113.1" r="1.9"/><circle cx="37.8" cy="113.7" r="1.9"/><circle cx="40.3" cy="113.1" r="1.9"/><circle cx="42.9" cy="110.4" r="1.9"/><circle cx="45.5" cy="107.9" r="1.9"/><circle cx="48.1" cy="107" r="1.9"/><circle cx="50.6" cy="105.1" r="1.9"/><circle cx="53.2" cy="102.9" r="1.9"/><circle cx="55.8" cy="97.6" r="1.9"/><circle cx="58.3" cy="94" r="1.9"/><circle cx="60.9" cy="92" r="1.9"/><circle cx="63.5" cy="87.7" r="1.9"/><circle cx="66" cy="84.4" r="1.9"/><circle cx="68.6" cy="79.6" r="1.9"/><circle cx="71.2" cy="74.3" r="1.9"/><circle cx="73.7" cy="70" r="1.9"/><circle cx="76.3" cy="68.7" r="1.9"/><circle cx="78.9" cy="62.9" r="1.9"/><circle cx="81.5" cy="59.7" r="1.9"/><circle cx="84" cy="57.4" r="1.9"/><circle cx="86.6" cy="57.4" r="1.9"/><circle cx="89.2" cy="57.2" r="1.9"/><circle cx="91.7" cy="57.4" r="1.9"/><circle cx="94.3" cy="59.1" r="1.9"/><circle cx="96.9" cy="61.7" r="1.9"/><circle cx="99.4" cy="64.9" r="1.9"/><circle cx="102" cy="68.6" r="1.9"/><circle cx="104.6" cy="71.5" r="1.9"/><circle cx="107.2" cy="73.4" r="1.9"/><circle cx="109.7" cy="79.2" r="1.9"/><circle cx="112.3" cy="80.6" r="1.9"/><circle cx="114.9" cy="84.5" r="1.9"/><circle cx="117.4" cy="85.5" r="1.9"/><circle cx="120" cy="88.1" r="1.9"/><circle cx="122.6" cy="87.7" r="1.9"/><circle cx="125.1" cy="87.8" r="1.9"/><circle cx="127.7" cy="88.6" r="1.9"/><circle cx="130.3" cy="82.5" r="1.9"/><circle cx="132.9" cy="79.1" r="1.9"/><circle cx="135.4" cy="71.8" r="1.9"/><circle cx="138" cy="66.6" r="1.9"/><circle cx="140.6" cy="60.5" r="1.9"/><circle cx="143.1" cy="52.6" r="1.9"/><circle cx="145.7" cy="45.7" r="1.9"/><circle cx="148.3" cy="38.5" r="1.9"/><circle cx="150.8" cy="31.4" r="1.9"/><circle cx="153.4" cy="28.1" r="1.9"/><circle cx="156" cy="23.9" r="1.9"/><circle cx="158.6" cy="25.4" r="1.9"/><circle cx="161.1" cy="24.7" r="1.9"/><circle cx="163.7" cy="29.4" r="1.9"/><circle cx="166.3" cy="34.4" r="1.9"/><circle cx="168.8" cy="42.4" r="1.9"/><circle cx="171.4" cy="49.3" r="1.9"/><circle cx="174" cy="59.6" r="1.9"/><circle cx="176.5" cy="67.8" r="1.9"/><circle cx="179.1" cy="78.1" r="1.9"/><circle cx="181.7" cy="86.2" r="1.9"/><circle cx="184.3" cy="93.9" r="1.9"/><circle cx="186.8" cy="100.5" r="1.9"/><circle cx="189.4" cy="108.5" r="1.9"/><circle cx="192" cy="114.1" r="1.9"/><circle cx="194.5" cy="120.1" r="1.9"/><circle cx="197.1" cy="122.5" r="1.9"/><circle cx="199.7" cy="126.8" r="1.9"/><circle cx="202.2" cy="129.7" r="1.9"/><circle cx="204.8" cy="131.8" r="1.9"/><circle cx="207.4" cy="133.6" r="1.9"/><circle cx="210" cy="135" r="1.9"/><circle cx="212.5" cy="135.5" r="1.9"/><circle cx="215.1" cy="136.1" r="1.9"/><circle cx="217.7" cy="137.4" r="1.9"/><circle cx="220.2" cy="138.9" r="1.9"/><circle cx="222.8" cy="140.2" r="1.9"/><circle cx="225.4" cy="140.2" r="1.9"/></g><path d="M35.2,285.3 36,285.3 36.8,285.3 37.6,285.3 38.4,285.3 39.2,285.3 40,285.3 40.8,285.3 41.6,285.3 42.4,285.3 43.2,285.3 44,285.3 44.8,285.3 45.6,285.3 46.4,285.3 47.2,285.2 48,285.2 48.8,285.2 49.6,285.2 50.4,285.2 51.2,285.2 52,285.2 52.8,285.2 53.6,285.2 54.4,285.1 55.2,285.1 56,285.1 56.8,285.1 57.6,285.1 58.4,285.1 59.2,285.1 60,285 60.8,285 61.6,285 62.4,285 63.2,285 64,284.9 64.8,284.9 65.6,284.9 66.4,284.9 67.2,284.8 68,284.8 68.8,284.8 69.6,284.7 70.4,284.7 71.2,284.7 72,284.6 72.8,284.6 73.6,284.6 74.4,284.5 75.2,284.5 76,284.5 76.8,284.4 77.6,284.4 78.4,284.3 79.2,284.3 80,284.2 80.8,284.2 81.6,284.1 82.4,284.1 83.2,284 84,283.9 84.8,283.9 85.6,283.8 86.4,283.7 87.2,283.6 88,283.6 88.8,283.5 89.6,283.4 90.4,283.3 91.2,283.2 92,283.1 92.8,283 93.6,282.9 94.4,282.7 95.2,282.6 96,282.4 96.8,282.3 97.6,282.1 98.4,281.9 99.2,281.7 100,281.5 100.8,281.3 101.6,281.1 102.4,280.8 103.2,280.5 104,280.2 104.8,279.9 105.6,279.5 106.4,279.1 107.2,278.7 108,278.2 108.8,277.7 109.6,277.2 110.4,276.6 111.2,275.9 112,275.2 112.8,274.5 113.6,273.6 114.4,272.7 115.2,271.8 116,270.7 116.8,269.6 117.6,268.4 118.4,267.1 119.2,265.6 120,264.1 120.8,262.5 121.6,260.8 122.4,259 123.2,257.1 124,255.1 124.8,252.9 125.6,250.7 126.4,248.3 127.2,245.8 128,243.2 128.8,240.5 129.6,237.8 130.4,234.9 131.2,231.9 132,228.9 132.8,225.8 133.6,222.6 134.4,219.4 135.2,216.1 136,212.9 136.8,209.6 137.6,206.4 138.4,203.2 139.2,200 140,196.9 140.8,193.9 141.6,191.1 142.4,188.4 143.2,185.9 144,183.6 144.8,181.6 145.6,179.8 146.4,178.3 147.2,177.1 148,176.2 148.8,175.7 149.6,175.5 150.4,175.7 151.2,176.3 152,177.1 152.8,178.3 153.6,179.9 154.4,181.7 155.2,183.8 156,186.2 156.8,188.8 157.6,191.5 158.4,194.5 159.2,197.6 160,200.8 160.8,204.1 161.6,207.5 162.4,210.9 163.2,214.3 164,217.7 164.8,221.2 165.6,224.6 166.4,228 167.2,231.3 168,234.5 168.8,237.7 169.6,240.8 170.4,243.8 171.2,246.7 172,249.5 172.8,252.1 173.6,254.7 174.4,257.2 175.2,259.6 176,261.8 176.8,263.9 177.6,265.9 178.4,267.9 179.2,269.7 180,271.3 180.8,272.9 181.6,274.4 182.4,275.8 183.2,277.1 184,278.4 184.8,279.5 185.6,280.6 186.4,281.5 187.2,282.5 188,283.3 188.8,284.1 189.6,284.8 190.4,285.5 191.2,286.1 192,286.7 192.8,287.3 193.6,287.8 194.4,288.2 195.2,288.7 196,289.1 196.8,289.4 197.6,289.8 198.4,290.1 199.2,290.4 200,290.7 200.8,291 201.6,291.2 202.4,291.5 203.2,291.7 204,291.9 204.8,292.1 205.6,292.3 206.4,292.4 207.2,292.6 208,292.8 208.8,292.9 209.6,293 210.4,293.2 211.2,293.3 212,293.4 212.8,293.5 213.6,293.6 214.4,293.7 215.2,293.8 216,293.9 216.8,294 217.6,294.1 218.4,294.2 219.2,294.3 220,294.4 220.8,294.4 221.6,294.5 222.4,294.6 223.2,294.7 224,294.7 224.8,294.8 225.6,294.9 226.4,294.9 227.2,295 227.3,295 L227.3,297.5 227.2,297.5 226.4,297.5 225.6,297.5 224.8,297.5 224,297.4 223.2,297.4 222.4,297.4 221.6,297.4 220.8,297.4 220,297.4 219.2,297.4 218.4,297.3 217.6,297.3 216.8,297.3 216,297.3 215.2,297.3 214.4,297.3 213.6,297.3 212.8,297.2 212,297.2 211.2,297.2 210.4,297.2 209.6,297.1 208.8,297.1 208,297.1 207.2,297.1 206.4,297 205.6,297 204.8,296.9 204,296.9 203.2,296.9 202.4,296.8 201.6,296.8 200.8,296.7 200,296.7 199.2,296.6 198.4,296.6 197.6,296.5 196.8,296.5 196,296.4 195.2,296.3 194.4,296.3 193.6,296.2 192.8,296.2 192,296.1 191.2,296 190.4,296 189.6,295.9 188.8,295.8 188,295.8 187.2,295.7 186.4,295.6 185.6,295.5 184.8,295.5 184,295.4 183.2,295.3 182.4,295.2 181.6,295.1 180.8,295.1 180,295 179.2,294.9 178.4,294.8 177.6,294.7 176.8,294.6 176,294.6 175.2,294.5 174.4,294.4 173.6,294.3 172.8,294.2 172,294.1 171.2,294 170.4,293.9 169.6,293.9 168.8,293.8 168,293.7 167.2,293.6 166.4,293.5 165.6,293.4 164.8,293.3 164,293.2 163.2,293.1 162.4,293 161.6,292.9 160.8,292.8 160,292.7 159.2,292.7 158.4,292.6 157.6,292.5 156.8,292.4 156,292.3 155.2,292.2 154.4,292.1 153.6,292 152.8,291.9 152,291.8 151.2,291.7 150.4,291.6 149.6,291.5 148.8,291.4 148,291.3 147.2,291.3 146.4,291.2 145.6,291.1 144.8,291 144,290.9 143.2,290.8 142.4,290.7 141.6,290.6 140.8,290.5 140,290.4 139.2,290.4 138.4,290.3 137.6,290.2 136.8,290.1 136,290 135.2,289.9 134.4,289.9 133.6,289.8 132.8,289.7 132,289.6 131.2,289.5 130.4,289.5 129.6,289.4 128.8,289.3 128,289.2 127.2,289.2 126.4,289.1 125.6,289 124.8,289 124,288.9 123.2,288.8 122.4,288.8 121.6,288.7 120.8,288.6 120,288.6 119.2,288.5 118.4,288.5 117.6,288.4 116.8,288.3 116,288.3 115.2,288.2 114.4,288.2 113.6,288.1 112.8,288.1 112,288.1 111.2,288 110.4,288 109.6,287.9 108.8,287.9 108,287.9 107.2,287.8 106.4,287.8 105.6,287.8 104.8,287.7 104,287.7 103.2,287.7 102.4,287.7 101.6,287.6 100.8,287.6 100,287.6 99.2,287.6 98.4,287.6 97.6,287.6 96.8,287.6 96,287.5 95.2,287.5 94.4,287.5 93.6,287.5 92.8,287.5 92,287.5 91.2,287.5 90.4,287.4 89.6,287.4 88.8,287.4 88,287.4 87.2,287.4 86.4,287.4 85.6,287.4 84.8,287.4 84,287.3 83.2,287.3 82.4,287.3 81.6,287.3 80.8,287.3 80,287.3 79.2,287.3 78.4,287.2 77.6,287.2 76.8,287.2 76,287.2 75.2,287.2 74.4,287.2 73.6,287.2 72.8,287.1 72,287.1 71.2,287.1 70.4,287.1 69.6,287.1 68.8,287.1 68,287.1 67.2,287 66.4,287 65.6,287 64.8,287 64,287 63.2,287 62.4,287 61.6,287 60.8,286.9 60,286.9 59.2,286.9 58.4,286.9 57.6,286.9 56.8,286.9 56,286.9 55.2,286.8 54.4,286.8 53.6,286.8 52.8,286.8 52,286.8 51.2,286.8 50.4,286.8 49.6,286.7 48.8,286.7 48,286.7 47.2,286.7 46.4,286.7 45.6,286.7 44.8,286.7 44,286.7 43.2,286.6 42.4,286.6 41.6,286.6 40.8,286.6 40,286.6 39.2,286.6 38.4,286.6 37.6,286.5 36.8,286.5 36,286.5 35.2,286.5Z" fill="#f7b8f9" fill-opacity="1"/><path d="M35.2,286.5 36,286.5 36.8,286.5 37.6,286.5 38.4,286.6 39.2,286.6 40,286.6 40.8,286.6 41.6,286.6 42.4,286.6 43.2,286.6 44,286.7 44.8,286.7 45.6,286.7 46.4,286.7 47.2,286.7 48,286.7 48.8,286.7 49.6,286.7 50.4,286.8 51.2,286.8 52,286.8 52.8,286.8 53.6,286.8 54.4,286.8 55.2,286.8 56,286.9 56.8,286.9 57.6,286.9 58.4,286.9 59.2,286.9 60,286.9 60.8,286.9 61.6,287 62.4,287 63.2,287 64,287 64.8,287 65.6,287 66.4,287 67.2,287 68,287.1 68.8,287.1 69.6,287.1 70.4,287.1 71.2,287.1 72,287.1 72.8,287.1 73.6,287.2 74.4,287.2 75.2,287.2 76,287.2 76.8,287.2 77.6,287.2 78.4,287.2 79.2,287.3 80,287.3 80.8,287.3 81.6,287.3 82.4,287.3 83.2,287.3 84,287.3 84.8,287.4 85.6,287.4 86.4,287.4 87.2,287.4 88,287.4 88.8,287.4 89.6,287.4 90.4,287.4 91.2,287.5 92,287.5 92.8,287.5 93.6,287.5 94.4,287.5 95.2,287.5 96,287.5 96.8,287.6 97.6,287.6 98.4,287.6 99.2,287.6 100,287.6 100.8,287.6 101.6,287.6 102.4,287.7 103.2,287.7 104,287.7 104.8,287.7 105.6,287.8 106.4,287.8 107.2,287.8 108,287.9 108.8,287.9 109.6,287.9 110.4,288 111.2,288 112,288.1 112.8,288.1 113.6,288.1 114.4,288.2 115.2,288.2 116,288.3 116.8,288.3 117.6,288.4 118.4,288.5 119.2,288.5 120,288.6 120.8,288.6 121.6,288.7 122.4,288.8 123.2,288.8 124,288.9 124.8,289 125.6,289 126.4,289.1 127.2,289.2 128,289.2 128.8,289.3 129.6,289.4 130.4,289.5 131.2,289.5 132,289.6 132.8,289.7 133.6,289.8 134.4,289.9 135.2,289.9 136,290 136.8,290.1 137.6,290.2 138.4,290.3 139.2,290.4 140,290.4 140.8,290.5 141.6,290.6 142.4,290.7 143.2,290.8 144,290.9 144.8,291 145.6,291.1 146.4,291.2 147.2,291.3 148,291.3 148.8,291.4 149.6,291.5 150.4,291.6 151.2,291.7 152,291.8 152.8,291.9 153.6,292 154.4,292.1 155.2,292.2 156,292.3 156.8,292.4 157.6,292.5 158.4,292.6 159.2,292.7 160,292.7 160.8,292.8 161.6,292.9 162.4,293 163.2,293.1 164,293.2 164.8,293.3 165.6,293.4 166.4,293.5 167.2,293.6 168,293.7 168.8,293.8 169.6,293.9 170.4,293.9 171.2,294 172,294.1 172.8,294.2 173.6,294.3 174.4,294.4 175.2,294.5 176,294.6 176.8,294.6 177.6,294.7 178.4,294.8 179.2,294.9 180,295 180.8,295.1 181.6,295.1 182.4,295.2 183.2,295.3 184,295.4 184.8,295.5 185.6,295.5 186.4,295.6 187.2,295.7 188,295.8 188.8,295.8 189.6,295.9 190.4,296 191.2,296 192,296.1 192.8,296.2 193.6,296.2 194.4,296.3 195.2,296.3 196,296.4 196.8,296.5 197.6,296.5 198.4,296.6 199.2,296.6 200,296.7 200.8,296.7 201.6,296.8 202.4,296.8 203.2,296.9 204,296.9 204.8,296.9 205.6,297 206.4,297 207.2,297.1 208,297.1 208.8,297.1 209.6,297.1 210.4,297.2 211.2,297.2 212,297.2 212.8,297.2 213.6,297.3 214.4,297.3 215.2,297.3 216,297.3 216.8,297.3 217.6,297.3 218.4,297.3 219.2,297.4 220,297.4 220.8,297.4 221.6,297.4 222.4,297.4 223.2,297.4 224,297.4 224.8,297.5 225.6,297.5 226.4,297.5 227.2,297.5 227.3,297.5" fill="none" stroke="#f3a8d8" stroke-width="1"/><path d="M35.2,285.3 36,285.3 36.8,285.3 37.6,285.3 38.4,285.3 39.2,285.3 40,285.3 40.8,285.3 41.6,285.3 42.4,285.3 43.2,285.3 44,285.3 44.8,285.3 45.6,285.3 46.4,285.3 47.2,285.2 48,285.2 48.8,285.2 49.6,285.2 50.4,285.2 51.2,285.2 52,285.2 52.8,285.2 53.6,285.2 54.4,285.1 55.2,285.1 56,285.1 56.8,285.1 57.6,285.1 58.4,285.1 59.2,285.1 60,285 60.8,285 61.6,285 62.4,285 63.2,285 64,284.9 64.8,284.9 65.6,284.9 66.4,284.9 67.2,284.8 68,284.8 68.8,284.8 69.6,284.7 70.4,284.7 71.2,284.7 72,284.6 72.8,284.6 73.6,284.6 74.4,284.5 75.2,284.5 76,284.5 76.8,284.4 77.6,284.4 78.4,284.3 79.2,284.3 80,284.2 80.8,284.2 81.6,284.1 82.4,284.1 83.2,284 84,283.9 84.8,283.9 85.6,283.8 86.4,283.7 87.2,283.6 88,283.6 88.8,283.5 89.6,283.4 90.4,283.3 91.2,283.2 92,283.1 92.8,283 93.6,282.9 94.4,282.7 95.2,282.6 96,282.4 96.8,282.3 97.6,282.1 98.4,281.9 99.2,281.7 100,281.5 100.8,281.3 101.6,281.1 102.4,280.8 103.2,280.5 104,280.2 104.8,279.9 105.6,279.5 106.4,279.1 107.2,278.7 108,278.2 108.8,277.7 109.6,277.2 110.4,276.6 111.2,275.9 112,275.2 112.8,274.5 113.6,273.6 114.4,272.7 115.2,271.8 116,270.7 116.8,269.6 117.6,268.4 118.4,267.1 119.2,265.6 120,264.1 120.8,262.5 121.6,260.8 122.4,259 123.2,257.1 124,255.1 124.8,252.9 125.6,250.7 126.4,248.3 127.2,245.8 128,243.2 128.8,240.5 129.6,237.8 130.4,234.9 131.2,231.9 132,228.9 132.8,225.8 133.6,222.6 134.4,219.4 135.2,216.1 136,212.9 136.8,209.6 137.6,206.4 138.4,203.2 139.2,200 140,196.9 140.8,193.9 141.6,191.1 142.4,188.4 143.2,185.9 144,183.6 144.8,181.6 145.6,179.8 146.4,178.3 147.2,177.1 148,176.2 148.8,175.7 149.6,175.5 150.4,175.7 151.2,176.3 152,177.1 152.8,178.3 153.6,179.9 154.4,181.7 155.2,183.8 156,186.2 156.8,188.8 157.6,191.5 158.4,194.5 159.2,197.6 160,200.8 160.8,204.1 161.6,207.5 162.4,210.9 163.2,214.3 164,217.7 164.8,221.2 165.6,224.6 166.4,228 167.2,231.3 168,234.5 168.8,237.7 169.6,240.8 170.4,243.8 171.2,246.7 172,249.5 172.8,252.1 173.6,254.7 174.4,257.2 175.2,259.6 176,261.8 176.8,263.9 177.6,265.9 178.4,267.9 179.2,269.7 180,271.3 180.8,272.9 181.6,274.4 182.4,275.8 183.2,277.1 184,278.4 184.8,279.5 185.6,280.6 186.4,281.5 187.2,282.5 188,283.3 188.8,284.1 189.6,284.8 190.4,285.5 191.2,286.1 192,286.7 192.8,287.3 193.6,287.8 194.4,288.2 195.2,288.7 196,289.1 196.8,289.4 197.6,289.8 198.4,290.1 199.2,290.4 200,290.7 200.8,291 201.6,291.2 202.4,291.5 203.2,291.7 204,291.9 204.8,292.1 205.6,292.3 206.4,292.4 207.2,292.6 208,292.8 208.8,292.9 209.6,293 210.4,293.2 211.2,293.3 212,293.4 212.8,293.5 213.6,293.6 214.4,293.7 215.2,293.8 216,293.9 216.8,294 217.6,294.1 218.4,294.2 219.2,294.3 220,294.4 220.8,294.4 221.6,294.5 222.4,294.6 223.2,294.7 224,294.7 224.8,294.8 225.6,294.9 226.4,294.9 227.2,295 227.3,295" fill="none" stroke="#c8c8c8" stroke-width="0.8"/><g fill="#fff" fill-opacity="0.25" stroke="#bebebe" stroke-width="0.7"><circle cx="35.2" cy="286.2" r="1.9"/><circle cx="37.8" cy="285.9" r="1.9"/><circle cx="40.3" cy="285.7" r="1.9"/><circle cx="42.9" cy="285.1" r="1.9"/><circle cx="45.5" cy="285.5" r="1.9"/><circle cx="48.1" cy="286.3" r="1.9"/><circle cx="50.6" cy="283.9" r="1.9"/><circle cx="53.2" cy="283.3" r="1.9"/><circle cx="55.8" cy="285.5" r="1.9"/><circle cx="58.3" cy="283.4" r="1.9"/><circle cx="60.9" cy="283.6" r="1.9"/><circle cx="63.5" cy="282.9" r="1.9"/><circle cx="66" cy="280.3" r="1.9"/><circle cx="68.6" cy="283.2" r="1.9"/><circle cx="71.2" cy="281.8" r="1.9"/><circle cx="73.7" cy="279.5" r="1.9"/><circle cx="76.3" cy="279.3" r="1.9"/><circle cx="78.9" cy="278" r="1.9"/><circle cx="81.5" cy="276.3" r="1.9"/><circle cx="84" cy="276.4" r="1.9"/><circle cx="86.6" cy="276.4" r="1.9"/><circle cx="89.2" cy="276.6" r="1.9"/><circle cx="91.7" cy="275.8" r="1.9"/><circle cx="94.3" cy="274.9" r="1.9"/><circle cx="96.9" cy="275.9" r="1.9"/><circle cx="99.4" cy="273.5" r="1.9"/><circle cx="102" cy="274.7" r="1.9"/><circle cx="104.6" cy="274.5" r="1.9"/><circle cx="107.2" cy="272.4" r="1.9"/><circle cx="109.7" cy="269.9" r="1.9"/><circle cx="112.3" cy="269.3" r="1.9"/><circle cx="114.9" cy="268.3" r="1.9"/><circle cx="117.4" cy="265.6" r="1.9"/><circle cx="120" cy="262.7" r="1.9"/><circle cx="122.6" cy="255.1" r="1.9"/><circle cx="125.1" cy="249.9" r="1.9"/><circle cx="127.7" cy="243.2" r="1.9"/><circle cx="130.3" cy="233.9" r="1.9"/><circle cx="132.9" cy="222.2" r="1.9"/><circle cx="135.4" cy="215.3" r="1.9"/><circle cx="138" cy="206.5" r="1.9"/><circle cx="140.6" cy="195.4" r="1.9"/><circle cx="143.1" cy="184.9" r="1.9"/><circle cx="145.7" cy="178.9" r="1.9"/><circle cx="148.3" cy="176.1" r="1.9"/><circle cx="150.8" cy="178.4" r="1.9"/><circle cx="153.4" cy="180" r="1.9"/><circle cx="156" cy="186.2" r="1.9"/><circle cx="158.6" cy="196.6" r="1.9"/><circle cx="161.1" cy="205.3" r="1.9"/><circle cx="163.7" cy="218.2" r="1.9"/><circle cx="166.3" cy="226.6" r="1.9"/><circle cx="168.8" cy="237.1" r="1.9"/><circle cx="171.4" cy="247.8" r="1.9"/><circle cx="174" cy="256.9" r="1.9"/><circle cx="176.5" cy="263.3" r="1.9"/><circle cx="179.1" cy="269" r="1.9"/><circle cx="181.7" cy="271.7" r="1.9"/><circle cx="184.3" cy="276.7" r="1.9"/><circle cx="186.8" cy="279.8" r="1.9"/><circle cx="189.4" cy="282.2" r="1.9"/><circle cx="192" cy="285.2" r="1.9"/><circle cx="194.5" cy="285.7" r="1.9"/><circle cx="197.1" cy="287.9" r="1.9"/><circle cx="199.7" cy="288.2" r="1.9"/><circle cx="202.2" cy="288.6" r="1.9"/><circle cx="204.8" cy="289.8" r="1.9"/><circle cx="207.4" cy="290.9" r="1.9"/><circle cx="210" cy="292" r="1.9"/><circle cx="212.5" cy="291.3" r="1.9"/><circle cx="215.1" cy="292.2" r="1.9"/><circle cx="217.7" cy="291.6" r="1.9"/><circle cx="220.2" cy="295.1" r="1.9"/><circle cx="222.8" cy="295.4" r="1.9"/><circle cx="225.4" cy="294.2" r="1.9"/></g><path d="M35.2,441.1 36,441.1 36.8,441.1 37.6,441.1 38.4,441.1 39.2,441.1 40,441.1 40.8,441 41.6,441 42.4,441 43.2,441 44,441 44.8,441 45.6,441 46.4,440.9 47.2,440.9 48,440.9 48.8,440.9 49.6,440.9 50.4,440.9 51.2,440.8 52,440.8 52.8,440.8 53.6,440.8 54.4,440.8 55.2,440.7 56,440.7 56.8,440.7 57.6,440.7 58.4,440.6 59.2,440.6 60,440.6 60.8,440.6 61.6,440.5 62.4,440.5 63.2,440.5 64,440.4 64.8,440.4 65.6,440.4 66.4,440.3 67.2,440.3 68,440.3 68.8,440.2 69.6,440.2 70.4,440.1 71.2,440.1 72,440.1 72.8,440 73.6,440 74.4,439.9 75.2,439.9 76,439.8 76.8,439.8 77.6,439.7 78.4,439.7 79.2,439.6 80,439.5 80.8,439.5 81.6,439.4 82.4,439.3 83.2,439.2 84,439.2 84.8,439.1 85.6,439 86.4,438.9 87.2,438.8 88,438.7 88.8,438.6 89.6,438.5 90.4,438.4 91.2,438.3 92,438.2 92.8,438 93.6,437.9 94.4,437.7 95.2,437.6 96,437.4 96.8,437.2 97.6,437 98.4,436.8 99.2,436.6 100,436.3 100.8,436.1 101.6,435.8 102.4,435.5 103.2,435.2 104,434.9 104.8,434.5 105.6,434.1 106.4,433.7 107.2,433.3 108,432.8 108.8,432.3 109.6,431.8 110.4,431.2 111.2,430.6 112,429.9 112.8,429.2 113.6,428.4 114.4,427.6 115.2,426.8 116,425.9 116.8,424.9 117.6,423.8 118.4,422.7 119.2,421.6 120,420.3 120.8,419 121.6,417.7 122.4,416.2 123.2,414.7 124,413.2 124.8,411.5 125.6,409.8 126.4,408 127.2,406.1 128,404.2 128.8,402.2 129.6,400.1 130.4,398 131.2,395.8 132,393.5 132.8,391.3 133.6,388.9 134.4,386.5 135.2,384.1 136,381.7 136.8,379.3 137.6,376.8 138.4,374.4 139.2,371.9 140,369.5 140.8,367.2 141.6,364.9 142.4,362.6 143.2,360.5 144,358.4 144.8,356.5 145.6,354.7 146.4,353 147.2,351.5 148,350.2 148.8,349.1 149.6,348.2 150.4,347.6 151.2,347.1 152,346.9 152.8,347 153.6,347.2 154.4,347.7 155.2,348.5 156,349.4 156.8,350.6 157.6,352 158.4,353.5 159.2,355.2 160,357.1 160.8,359.1 161.6,361.3 162.4,363.5 163.2,365.9 164,368.3 164.8,370.7 165.6,373.2 166.4,375.8 167.2,378.3 168,380.9 168.8,383.5 169.6,386 170.4,388.5 171.2,391 172,393.5 172.8,395.9 173.6,398.3 174.4,400.6 175.2,402.8 176,405 176.8,407.1 177.6,409.2 178.4,411.2 179.2,413.1 180,414.9 180.8,416.7 181.6,418.4 182.4,420 183.2,421.5 184,423 184.8,424.4 185.6,425.7 186.4,427 187.2,428.2 188,429.3 188.8,430.4 189.6,431.4 190.4,432.4 191.2,433.3 192,434.1 192.8,434.9 193.6,435.6 194.4,436.3 195.2,437 196,437.6 196.8,438.2 197.6,438.7 198.4,439.2 199.2,439.7 200,440.1 200.8,440.5 201.6,440.9 202.4,441.3 203.2,441.6 204,441.9 204.8,442.2 205.6,442.5 206.4,442.8 207.2,443 208,443.2 208.8,443.4 209.6,443.6 210.4,443.8 211.2,444 212,444.2 212.8,444.3 213.6,444.5 214.4,444.6 215.2,444.8 216,444.9 216.8,445 217.6,445.1 218.4,445.2 219.2,445.3 220,445.4 220.8,445.5 221.6,445.6 222.4,445.7 223.2,445.8 224,445.9 224.8,446 225.6,446.1 226.4,446.2 227.2,446.2 227.3,446.2 L227.3,449.5 227.2,449.5 226.4,449.5 225.6,449.5 224.8,449.5 224,449.5 223.2,449.5 222.4,449.4 221.6,449.4 220.8,449.4 220,449.4 219.2,449.4 218.4,449.4 217.6,449.4 216.8,449.4 216,449.4 215.2,449.4 214.4,449.4 213.6,449.3 212.8,449.3 212,449.3 211.2,449.3 210.4,449.3 209.6,449.3 208.8,449.3 208,449.2 207.2,449.2 206.4,449.2 205.6,449.2 204.8,449.1 204,449.1 203.2,449.1 202.4,449.1 201.6,449 200.8,449 200,449 199.2,448.9 198.4,448.9 197.6,448.9 196.8,448.8 196,448.8 195.2,448.8 194.4,448.7 193.6,448.7 192.8,448.6 192,448.6 191.2,448.6 190.4,448.5 189.6,448.5 188.8,448.4 188,448.4 187.2,448.3 186.4,448.3 185.6,448.2 184.8,448.2 184,448.2 183.2,448.1 182.4,448.1 181.6,448 180.8,447.9 180,447.9 179.2,447.8 178.4,447.8 177.6,447.7 176.8,447.7 176,447.6 175.2,447.6 174.4,447.5 173.6,447.5 172.8,447.4 172,447.4 171.2,447.3 170.4,447.2 169.6,447.2 168.8,447.1 168,447.1 167.2,447 166.4,446.9 165.6,446.9 164.8,446.8 164,446.8 163.2,446.7 162.4,446.7 161.6,446.6 160.8,446.5 160,446.5 159.2,446.4 158.4,446.4 157.6,446.3 156.8,446.2 156,446.2 155.2,446.1 154.4,446.1 153.6,446 152.8,445.9 152,445.9 151.2,445.8 150.4,445.8 149.6,445.7 148.8,445.6 148,445.6 147.2,445.5 146.4,445.5 145.6,445.4 144.8,445.3 144,445.3 143.2,445.2 142.4,445.2 141.6,445.1 140.8,445.1 140,445 139.2,445 138.4,444.9 137.6,444.8 136.8,444.8 136,444.7 135.2,444.7 134.4,444.6 133.6,444.6 132.8,444.5 132,444.5 131.2,444.4 130.4,444.4 129.6,444.3 128.8,444.3 128,444.2 127.2,444.2 126.4,444.2 125.6,444.1 124.8,444.1 124,444 123.2,444 122.4,443.9 121.6,443.9 120.8,443.9 120,443.8 119.2,443.8 118.4,443.7 117.6,443.7 116.8,443.7 116,443.6 115.2,443.6 114.4,443.6 113.6,443.5 112.8,443.5 112,443.5 111.2,443.5 110.4,443.4 109.6,443.4 108.8,443.4 108,443.4 107.2,443.3 106.4,443.3 105.6,443.3 104.8,443.3 104,443.3 103.2,443.3 102.4,443.2 101.6,443.2 100.8,443.2 100,443.2 99.2,443.2 98.4,443.2 97.6,443.2 96.8,443.2 96,443.2 95.2,443.2 94.4,443.1 93.6,443.1 92.8,443.1 92,443.1 91.2,443.1 90.4,443.1 89.6,443.1 88.8,443.1 88,443.1 87.2,443.1 86.4,443.1 85.6,443.1 84.8,443 84,443 83.2,443 82.4,443 81.6,443 80.8,443 80,443 79.2,443 78.4,443 77.6,443 76.8,443 76,442.9 75.2,442.9 74.4,442.9 73.6,442.9 72.8,442.9 72,442.9 71.2,442.9 70.4,442.9 69.6,442.9 68.8,442.9 68,442.9 67.2,442.8 66.4,442.8 65.6,442.8 64.8,442.8 64,442.8 63.2,442.8 62.4,442.8 61.6,442.8 60.8,442.8 60,442.8 59.2,442.8 58.4,442.8 57.6,442.7 56.8,442.7 56,442.7 55.2,442.7 54.4,442.7 53.6,442.7 52.8,442.7 52,442.7 51.2,442.7 50.4,442.7 49.6,442.7 48.8,442.6 48,442.6 47.2,442.6 46.4,442.6 45.6,442.6 44.8,442.6 44,442.6 43.2,442.6 42.4,442.6 41.6,442.6 40.8,442.6 40,442.6 39.2,442.5 38.4,442.5 37.6,442.5 36.8,442.5 36,442.5 35.2,442.5Z" fill="#f7b8f9" fill-opacity="1"/><path d="M35.2,442.5 36,442.5 36.8,442.5 37.6,442.5 38.4,442.5 39.2,442.5 40,442.6 40.8,442.6 41.6,442.6 42.4,442.6 43.2,442.6 44,442.6 44.8,442.6 45.6,442.6 46.4,442.6 47.2,442.6 48,442.6 48.8,442.6 49.6,442.7 50.4,442.7 51.2,442.7 52,442.7 52.8,442.7 53.6,442.7 54.4,442.7 55.2,442.7 56,442.7 56.8,442.7 57.6,442.7 58.4,442.8 59.2,442.8 60,442.8 60.8,442.8 61.6,442.8 62.4,442.8 63.2,442.8 64,442.8 64.8,442.8 65.6,442.8 66.4,442.8 67.2,442.8 68,442.9 68.8,442.9 69.6,442.9 70.4,442.9 71.2,442.9 72,442.9 72.8,442.9 73.6,442.9 74.4,442.9 75.2,442.9 76,442.9 76.8,443 77.6,443 78.4,443 79.2,443 80,443 80.8,443 81.6,443 82.4,443 83.2,443 84,443 84.8,443 85.6,443.1 86.4,443.1 87.2,443.1 88,443.1 88.8,443.1 89.6,443.1 90.4,443.1 91.2,443.1 92,443.1 92.8,443.1 93.6,443.1 94.4,443.1 95.2,443.2 96,443.2 96.8,443.2 97.6,443.2 98.4,443.2 99.2,443.2 100,443.2 100.8,443.2 101.6,443.2 102.4,443.2 103.2,443.3 104,443.3 104.8,443.3 105.6,443.3 106.4,443.3 107.2,443.3 108,443.4 108.8,443.4 109.6,443.4 110.4,443.4 111.2,443.5 112,443.5 112.8,443.5 113.6,443.5 114.4,443.6 115.2,443.6 116,443.6 116.8,443.7 117.6,443.7 118.4,443.7 119.2,443.8 120,443.8 120.8,443.9 121.6,443.9 122.4,443.9 123.2,444 124,444 124.8,444.1 125.6,444.1 126.4,444.2 127.2,444.2 128,444.2 128.8,444.3 129.6,444.3 130.4,444.4 131.2,444.4 132,444.5 132.8,444.5 133.6,444.6 134.4,444.6 135.2,444.7 136,444.7 136.8,444.8 137.6,444.8 138.4,444.9 139.2,445 140,445 140.8,445.1 141.6,445.1 142.4,445.2 143.2,445.2 144,445.3 144.8,445.3 145.6,445.4 146.4,445.5 147.2,445.5 148,445.6 148.8,445.6 149.6,445.7 150.4,445.8 151.2,445.8 152,445.9 152.8,445.9 153.6,446 154.4,446.1 155.2,446.1 156,446.2 156.8,446.2 157.6,446.3 158.4,446.4 159.2,446.4 160,446.5 160.8,446.5 161.6,446.6 162.4,446.7 163.2,446.7 164,446.8 164.8,446.8 165.6,446.9 166.4,446.9 167.2,447 168,447.1 168.8,447.1 169.6,447.2 170.4,447.2 171.2,447.3 172,447.4 172.8,447.4 173.6,447.5 174.4,447.5 175.2,447.6 176,447.6 176.8,447.7 177.6,447.7 178.4,447.8 179.2,447.8 180,447.9 180.8,447.9 181.6,448 182.4,448.1 183.2,448.1 184,448.2 184.8,448.2 185.6,448.2 186.4,448.3 187.2,448.3 188,448.4 188.8,448.4 189.6,448.5 190.4,448.5 191.2,448.6 192,448.6 192.8,448.6 193.6,448.7 194.4,448.7 195.2,448.8 196,448.8 196.8,448.8 197.6,448.9 198.4,448.9 199.2,448.9 200,449 200.8,449 201.6,449 202.4,449.1 203.2,449.1 204,449.1 204.8,449.1 205.6,449.2 206.4,449.2 207.2,449.2 208,449.2 208.8,449.3 209.6,449.3 210.4,449.3 211.2,449.3 212,449.3 212.8,449.3 213.6,449.3 214.4,449.4 215.2,449.4 216,449.4 216.8,449.4 217.6,449.4 218.4,449.4 219.2,449.4 220,449.4 220.8,449.4 221.6,449.4 222.4,449.4 223.2,449.5 224,449.5 224.8,449.5 225.6,449.5 226.4,449.5 227.2,449.5 227.3,449.5" fill="none" stroke="#f3a8d8" stroke-width="1"/><path d="M35.2,441.1 36,441.1 36.8,441.1 37.6,441.1 38.4,441.1 39.2,441.1 40,441.1 40.8,441 41.6,441 42.4,441 43.2,441 44,441 44.8,441 45.6,441 46.4,440.9 47.2,440.9 48,440.9 48.8,440.9 49.6,440.9 50.4,440.9 51.2,440.8 52,440.8 52.8,440.8 53.6,440.8 54.4,440.8 55.2,440.7 56,440.7 56.8,440.7 57.6,440.7 58.4,440.6 59.2,440.6 60,440.6 60.8,440.6 61.6,440.5 62.4,440.5 63.2,440.5 64,440.4 64.8,440.4 65.6,440.4 66.4,440.3 67.2,440.3 68,440.3 68.8,440.2 69.6,440.2 70.4,440.1 71.2,440.1 72,440.1 72.8,440 73.6,440 74.4,439.9 75.2,439.9 76,439.8 76.8,439.8 77.6,439.7 78.4,439.7 79.2,439.6 80,439.5 80.8,439.5 81.6,439.4 82.4,439.3 83.2,439.2 84,439.2 84.8,439.1 85.6,439 86.4,438.9 87.2,438.8 88,438.7 88.8,438.6 89.6,438.5 90.4,438.4 91.2,438.3 92,438.2 92.8,438 93.6,437.9 94.4,437.7 95.2,437.6 96,437.4 96.8,437.2 97.6,437 98.4,436.8 99.2,436.6 100,436.3 100.8,436.1 101.6,435.8 102.4,435.5 103.2,435.2 104,434.9 104.8,434.5 105.6,434.1 106.4,433.7 107.2,433.3 108,432.8 108.8,432.3 109.6,431.8 110.4,431.2 111.2,430.6 112,429.9 112.8,429.2 113.6,428.4 114.4,427.6 115.2,426.8 116,425.9 116.8,424.9 117.6,423.8 118.4,422.7 119.2,421.6 120,420.3 120.8,419 121.6,417.7 122.4,416.2 123.2,414.7 124,413.2 124.8,411.5 125.6,409.8 126.4,408 127.2,406.1 128,404.2 128.8,402.2 129.6,400.1 130.4,398 131.2,395.8 132,393.5 132.8,391.3 133.6,388.9 134.4,386.5 135.2,384.1 136,381.7 136.8,379.3 137.6,376.8 138.4,374.4 139.2,371.9 140,369.5 140.8,367.2 141.6,364.9 142.4,362.6 143.2,360.5 144,358.4 144.8,356.5 145.6,354.7 146.4,353 147.2,351.5 148,350.2 148.8,349.1 149.6,348.2 150.4,347.6 151.2,347.1 152,346.9 152.8,347 153.6,347.2 154.4,347.7 155.2,348.5 156,349.4 156.8,350.6 157.6,352 158.4,353.5 159.2,355.2 160,357.1 160.8,359.1 161.6,361.3 162.4,363.5 163.2,365.9 164,368.3 164.8,370.7 165.6,373.2 166.4,375.8 167.2,378.3 168,380.9 168.8,383.5 169.6,386 170.4,388.5 171.2,391 172,393.5 172.8,395.9 173.6,398.3 174.4,400.6 175.2,402.8 176,405 176.8,407.1 177.6,409.2 178.4,411.2 179.2,413.1 180,414.9 180.8,416.7 181.6,418.4 182.4,420 183.2,421.5 184,423 184.8,424.4 185.6,425.7 186.4,427 187.2,428.2 188,429.3 188.8,430.4 189.6,431.4 190.4,432.4 191.2,433.3 192,434.1 192.8,434.9 193.6,435.6 194.4,436.3 195.2,437 196,437.6 196.8,438.2 197.6,438.7 198.4,439.2 199.2,439.7 200,440.1 200.8,440.5 201.6,440.9 202.4,441.3 203.2,441.6 204,441.9 204.8,442.2 205.6,442.5 206.4,442.8 207.2,443 208,443.2 208.8,443.4 209.6,443.6 210.4,443.8 211.2,444 212,444.2 212.8,444.3 213.6,444.5 214.4,444.6 215.2,444.8 216,444.9 216.8,445 217.6,445.1 218.4,445.2 219.2,445.3 220,445.4 220.8,445.5 221.6,445.6 222.4,445.7 223.2,445.8 224,445.9 224.8,446 225.6,446.1 226.4,446.2 227.2,446.2 227.3,446.2" fill="none" stroke="#c8c8c8" stroke-width="0.8"/><g fill="#fff" fill-opacity="0.25" stroke="#bebebe" stroke-width="0.7"><circle cx="35.2" cy="440.4" r="1.9"/><circle cx="37.8" cy="439.5" r="1.9"/><circle cx="40.3" cy="440.8" r="1.9"/><circle cx="42.9" cy="440.6" r="1.9"/><circle cx="45.5" cy="442.4" r="1.9"/><circle cx="48.1" cy="440.2" r="1.9"/><circle cx="50.6" cy="438.9" r="1.9"/><circle cx="53.2" cy="436.9" r="1.9"/><circle cx="55.8" cy="440.3" r="1.9"/><circle cx="58.3" cy="438.7" r="1.9"/><circle cx="60.9" cy="436.4" r="1.9"/><circle cx="63.5" cy="437.6" r="1.9"/><circle cx="66" cy="435.3" r="1.9"/><circle cx="68.6" cy="439.7" r="1.9"/><circle cx="71.2" cy="436.8" r="1.9"/><circle cx="73.7" cy="435.6" r="1.9"/><circle cx="76.3" cy="434.2" r="1.9"/><circle cx="78.9" cy="431.6" r="1.9"/><circle cx="81.5" cy="433" r="1.9"/><circle cx="84" cy="431.1" r="1.9"/><circle cx="86.6" cy="432.7" r="1.9"/><circle cx="89.2" cy="429.5" r="1.9"/><circle cx="91.7" cy="430.3" r="1.9"/><circle cx="94.3" cy="432" r="1.9"/><circle cx="96.9" cy="432" r="1.9"/><circle cx="99.4" cy="428.7" r="1.9"/><circle cx="102" cy="427.8" r="1.9"/><circle cx="104.6" cy="429.6" r="1.9"/><circle cx="107.2" cy="428.7" r="1.9"/><circle cx="109.7" cy="425.6" r="1.9"/><circle cx="112.3" cy="424.4" r="1.9"/><circle cx="114.9" cy="422.4" r="1.9"/><circle cx="117.4" cy="419.3" r="1.9"/><circle cx="120" cy="416.5" r="1.9"/><circle cx="122.6" cy="414.5" r="1.9"/><circle cx="125.1" cy="409.2" r="1.9"/><circle cx="127.7" cy="405" r="1.9"/><circle cx="130.3" cy="396.6" r="1.9"/><circle cx="132.9" cy="389.7" r="1.9"/><circle cx="135.4" cy="381.5" r="1.9"/><circle cx="138" cy="374.7" r="1.9"/><circle cx="140.6" cy="365.9" r="1.9"/><circle cx="143.1" cy="358.4" r="1.9"/><circle cx="145.7" cy="354.8" r="1.9"/><circle cx="148.3" cy="351" r="1.9"/><circle cx="150.8" cy="347.9" r="1.9"/><circle cx="153.4" cy="348.3" r="1.9"/><circle cx="156" cy="349.5" r="1.9"/><circle cx="158.6" cy="353" r="1.9"/><circle cx="161.1" cy="360" r="1.9"/><circle cx="163.7" cy="366.9" r="1.9"/><circle cx="166.3" cy="374.1" r="1.9"/><circle cx="168.8" cy="381.7" r="1.9"/><circle cx="171.4" cy="389.9" r="1.9"/><circle cx="174" cy="399" r="1.9"/><circle cx="176.5" cy="406.1" r="1.9"/><circle cx="179.1" cy="411.7" r="1.9"/><circle cx="181.7" cy="419.1" r="1.9"/><circle cx="184.3" cy="422.6" r="1.9"/><circle cx="186.8" cy="426.9" r="1.9"/><circle cx="189.4" cy="430.9" r="1.9"/><circle cx="192" cy="431.6" r="1.9"/><circle cx="194.5" cy="432.6" r="1.9"/><circle cx="197.1" cy="437.2" r="1.9"/><circle cx="199.7" cy="437.3" r="1.9"/><circle cx="202.2" cy="440.5" r="1.9"/><circle cx="204.8" cy="440.7" r="1.9"/><circle cx="207.4" cy="442.3" r="1.9"/><circle cx="210" cy="442.9" r="1.9"/><circle cx="212.5" cy="440.9" r="1.9"/><circle cx="215.1" cy="444.3" r="1.9"/><circle cx="217.7" cy="443.6" r="1.9"/><circle cx="220.2" cy="444" r="1.9"/><circle cx="222.8" cy="444.8" r="1.9"/><circle cx="225.4" cy="446.4" r="1.9"/></g><path d="M143.8,409.6 V7.6 H164.3 V409.6 Z" fill="none" stroke="#858088" stroke-width="1.5" stroke-dasharray="6.2,3.3"/><rect x="35.2" y="8.4" width="192.1" height="463.6" fill="none" stroke="#222" stroke-width="1.2"/><text x="224.8" y="21.9" font-size="11.6" fill="#111" text-anchor="end">Cu 2p 3/2</text><text x="40.5" y="78.8" font-size="9.05" fill="#a2e8d6" stroke="#a2e8d6" stroke-width="0.25">Cu(II)</text><text x="45" y="138.4" font-size="9" fill="#111" text-anchor="start">Cu/N<tspan font-size="5.2" dy="2.2">0.14</tspan><tspan dy="-2.2">C</tspan></text><text x="42" y="312.7" font-size="9" fill="#111" text-anchor="start">Cu/N<tspan font-size="5.2" dy="2.2">0.14</tspan><tspan dy="-2.2">C@-1.1V</tspan></text><text x="42" y="461" font-size="9" fill="#111" text-anchor="start">Cu/N<tspan font-size="5.2" dy="2.2">0.14</tspan><tspan dy="-2.2">C@-1.2V</tspan></text><text x="167" y="338.5" font-size="9.05" fill="#daa6f2" stroke="#daa6f2" stroke-width="0.25">Cu(0)/(I)</text><text x="35.2" y="485.3" font-size="10.6" fill="#222" text-anchor="middle">937</text><path d="M35.2,472v2.6" stroke="#222" stroke-width="1"/><text x="60.9" y="485.3" font-size="10.6" fill="#222" text-anchor="middle">936</text><path d="M60.9,472v2.6" stroke="#222" stroke-width="1"/><text x="86.6" y="485.3" font-size="10.6" fill="#222" text-anchor="middle">935</text><path d="M86.6,472v2.6" stroke="#222" stroke-width="1"/><text x="112.2" y="485.3" font-size="10.6" fill="#222" text-anchor="middle">934</text><path d="M112.2,472v2.6" stroke="#222" stroke-width="1"/><text x="137.9" y="485.3" font-size="10.6" fill="#222" text-anchor="middle">933</text><path d="M137.9,472v2.6" stroke="#222" stroke-width="1"/><text x="163.6" y="485.3" font-size="10.6" fill="#222" text-anchor="middle">932</text><path d="M163.6,472v2.6" stroke="#222" stroke-width="1"/><text x="189.3" y="485.3" font-size="10.6" fill="#222" text-anchor="middle">931</text><path d="M189.3,472v2.6" stroke="#222" stroke-width="1"/><text x="215" y="485.3" font-size="10.6" fill="#222" text-anchor="middle">930</text><path d="M215,472v2.6" stroke="#222" stroke-width="1"/><text x="131.8" y="505" font-size="13.95" fill="#111" text-anchor="middle">Binding energy (eV)</text></g><g id="pb"><text x="246.2" y="17.4" font-size="21.5" fill="#000" stroke="#000" stroke-width="0.9">b</text><g fill="none" stroke="#8f9ce8" stroke-width="0.8" stroke-opacity="0.88"><circle cx="268.3" cy="168.5" r="2.2"/><circle cx="269" cy="169.1" r="2.2"/><circle cx="269.7" cy="163.5" r="2.2"/><circle cx="270.4" cy="160.1" r="2.2"/><circle cx="271.1" cy="158.8" r="2.2"/><circle cx="271.8" cy="163.2" r="2.2"/><circle cx="272.5" cy="159" r="2.2"/><circle cx="273.2" cy="157.3" r="2.2"/><circle cx="273.9" cy="163.8" r="2.2"/><circle cx="274.6" cy="163.5" r="2.2"/><circle cx="275.3" cy="165.1" r="2.2"/><circle cx="276" cy="159.2" r="2.2"/><circle cx="276.7" cy="162.8" r="2.2"/><circle cx="277.4" cy="162.5" r="2.2"/><circle cx="278.2" cy="156.6" r="2.2"/><circle cx="278.9" cy="164.8" r="2.2"/><circle cx="279.6" cy="163.8" r="2.2"/><circle cx="280.3" cy="172.1" r="2.2"/><circle cx="281" cy="163.3" r="2.2"/><circle cx="281.7" cy="161.8" r="2.2"/><circle cx="282.4" cy="167.3" r="2.2"/><circle cx="283.1" cy="163.1" r="2.2"/><circle cx="283.8" cy="165.8" r="2.2"/><circle cx="284.5" cy="160.7" r="2.2"/><circle cx="285.2" cy="162.9" r="2.2"/><circle cx="285.9" cy="166.1" r="2.2"/><circle cx="286.6" cy="164.7" r="2.2"/><circle cx="287.3" cy="162.4" r="2.2"/><circle cx="288" cy="157.4" r="2.2"/><circle cx="288.7" cy="163.5" r="2.2"/><circle cx="289.4" cy="161.9" r="2.2"/><circle cx="290.1" cy="164.4" r="2.2"/><circle cx="290.8" cy="162.3" r="2.2"/><circle cx="291.5" cy="165.7" r="2.2"/><circle cx="292.2" cy="161.1" r="2.2"/><circle cx="292.9" cy="162" r="2.2"/><circle cx="293.6" cy="163.7" r="2.2"/><circle cx="294.3" cy="156.6" r="2.2"/><circle cx="295" cy="159.3" r="2.2"/><circle cx="295.7" cy="158.8" r="2.2"/><circle cx="296.4" cy="168.6" r="2.2"/><circle cx="297.2" cy="160.2" r="2.2"/><circle cx="297.9" cy="163.1" r="2.2"/><circle cx="298.6" cy="162.8" r="2.2"/><circle cx="299.3" cy="159.1" r="2.2"/><circle cx="300" cy="153.9" r="2.2"/><circle cx="300.7" cy="163.8" r="2.2"/><circle cx="301.4" cy="158.2" r="2.2"/><circle cx="302.1" cy="162.6" r="2.2"/><circle cx="302.8" cy="154.3" r="2.2"/><circle cx="303.5" cy="157.6" r="2.2"/><circle cx="304.2" cy="164.3" r="2.2"/><circle cx="304.9" cy="164.8" r="2.2"/><circle cx="305.6" cy="153.7" r="2.2"/><circle cx="306.3" cy="153.4" r="2.2"/><circle cx="307" cy="158.4" r="2.2"/><circle cx="307.7" cy="161.3" r="2.2"/><circle cx="308.4" cy="158.8" r="2.2"/><circle cx="309.1" cy="159.2" r="2.2"/><circle cx="309.8" cy="153.8" r="2.2"/><circle cx="310.5" cy="159.9" r="2.2"/><circle cx="311.2" cy="161.8" r="2.2"/><circle cx="311.9" cy="155.3" r="2.2"/><circle cx="312.6" cy="151.1" r="2.2"/><circle cx="313.3" cy="153.5" r="2.2"/><circle cx="314" cy="159.3" r="2.2"/><circle cx="314.7" cy="149" r="2.2"/><circle cx="315.4" cy="155.3" r="2.2"/><circle cx="316.1" cy="151.4" r="2.2"/><circle cx="316.9" cy="154.4" r="2.2"/><circle cx="317.6" cy="153.6" r="2.2"/><circle cx="318.3" cy="154.3" r="2.2"/><circle cx="319" cy="159.8" r="2.2"/><circle cx="319.7" cy="155" r="2.2"/><circle cx="320.4" cy="158.2" r="2.2"/><circle cx="321.1" cy="151.8" r="2.2"/><circle cx="321.8" cy="149.9" r="2.2"/><circle cx="322.5" cy="152.8" r="2.2"/><circle cx="323.2" cy="139.3" r="2.2"/><circle cx="323.9" cy="149.8" r="2.2"/><circle cx="324.6" cy="149.9" r="2.2"/><circle cx="325.3" cy="143.6" r="2.2"/><circle cx="326" cy="149.6" r="2.2"/><circle cx="326.7" cy="144.6" r="2.2"/><circle cx="327.4" cy="136.1" r="2.2"/><circle cx="328.1" cy="144.1" r="2.2"/><circle cx="328.8" cy="140" r="2.2"/><circle cx="329.5" cy="140.8" r="2.2"/><circle cx="330.2" cy="141" r="2.2"/><circle cx="330.9" cy="145.4" r="2.2"/><circle cx="331.6" cy="139.5" r="2.2"/><circle cx="332.3" cy="137.5" r="2.2"/><circle cx="333" cy="137.7" r="2.2"/><circle cx="333.7" cy="127.2" r="2.2"/><circle cx="334.4" cy="137.7" r="2.2"/><circle cx="335.1" cy="126.7" r="2.2"/><circle cx="335.9" cy="130.8" r="2.2"/><circle cx="336.6" cy="122.5" r="2.2"/><circle cx="337.3" cy="121" r="2.2"/><circle cx="338" cy="121.1" r="2.2"/><circle cx="338.7" cy="127.9" r="2.2"/><circle cx="339.4" cy="120.7" r="2.2"/><circle cx="340.1" cy="112.9" r="2.2"/><circle cx="340.8" cy="111.5" r="2.2"/><circle cx="341.5" cy="105.2" r="2.2"/><circle cx="342.2" cy="106.7" r="2.2"/><circle cx="342.9" cy="101.5" r="2.2"/><circle cx="343.6" cy="103.6" r="2.2"/><circle cx="344.3" cy="92" r="2.2"/><circle cx="345" cy="92.8" r="2.2"/><circle cx="345.7" cy="87.3" r="2.2"/><circle cx="346.4" cy="84.3" r="2.2"/><circle cx="347.1" cy="86.4" r="2.2"/><circle cx="347.8" cy="80.4" r="2.2"/><circle cx="348.5" cy="78.5" r="2.2"/><circle cx="349.2" cy="77.2" r="2.2"/><circle cx="349.9" cy="73.3" r="2.2"/><circle cx="350.6" cy="59.4" r="2.2"/><circle cx="351.3" cy="63.3" r="2.2"/><circle cx="352" cy="50.4" r="2.2"/><circle cx="352.7" cy="53.6" r="2.2"/><circle cx="353.4" cy="58" r="2.2"/><circle cx="354.1" cy="46.1" r="2.2"/><circle cx="354.9" cy="42.2" r="2.2"/><circle cx="355.6" cy="41.3" r="2.2"/><circle cx="356.3" cy="37.9" r="2.2"/><circle cx="357" cy="35.3" r="2.2"/><circle cx="357.7" cy="29.9" r="2.2"/><circle cx="358.4" cy="35.4" r="2.2"/><circle cx="359.1" cy="33" r="2.2"/><circle cx="359.8" cy="27.4" r="2.2"/><circle cx="360.5" cy="28.7" r="2.2"/><circle cx="361.2" cy="29.7" r="2.2"/><circle cx="361.9" cy="31.1" r="2.2"/><circle cx="362.6" cy="28.6" r="2.2"/><circle cx="363.3" cy="29.8" r="2.2"/><circle cx="364" cy="25.9" r="2.2"/><circle cx="364.7" cy="22.7" r="2.2"/><circle cx="365.4" cy="25" r="2.2"/><circle cx="366.1" cy="31.1" r="2.2"/><circle cx="366.8" cy="30.9" r="2.2"/><circle cx="367.5" cy="27.6" r="2.2"/><circle cx="368.2" cy="25.5" r="2.2"/><circle cx="368.9" cy="30.3" r="2.2"/><circle cx="369.6" cy="37.3" r="2.2"/><circle cx="370.3" cy="38.1" r="2.2"/><circle cx="371" cy="32.3" r="2.2"/><circle cx="371.7" cy="37.3" r="2.2"/><circle cx="372.4" cy="34.4" r="2.2"/><circle cx="373.1" cy="38.5" r="2.2"/><circle cx="373.9" cy="46.6" r="2.2"/><circle cx="374.6" cy="48.8" r="2.2"/><circle cx="375.3" cy="55.4" r="2.2"/><circle cx="376" cy="59.3" r="2.2"/><circle cx="376.7" cy="60.2" r="2.2"/><circle cx="377.4" cy="64.7" r="2.2"/><circle cx="378.1" cy="59.7" r="2.2"/><circle cx="378.8" cy="59.6" r="2.2"/><circle cx="379.5" cy="68.3" r="2.2"/><circle cx="380.2" cy="79" r="2.2"/><circle cx="380.9" cy="71.6" r="2.2"/><circle cx="381.6" cy="67.3" r="2.2"/><circle cx="382.3" cy="74.5" r="2.2"/><circle cx="383" cy="80.7" r="2.2"/><circle cx="383.7" cy="72.3" r="2.2"/><circle cx="384.4" cy="80.9" r="2.2"/><circle cx="385.1" cy="76.4" r="2.2"/><circle cx="385.8" cy="85.1" r="2.2"/><circle cx="386.5" cy="84.1" r="2.2"/><circle cx="387.2" cy="83.2" r="2.2"/><circle cx="387.9" cy="90.9" r="2.2"/><circle cx="388.6" cy="82.1" r="2.2"/><circle cx="389.3" cy="81.8" r="2.2"/><circle cx="390" cy="92.7" r="2.2"/><circle cx="390.7" cy="82.5" r="2.2"/><circle cx="391.4" cy="95.5" r="2.2"/><circle cx="392.1" cy="87.2" r="2.2"/><circle cx="392.8" cy="83.9" r="2.2"/><circle cx="393.6" cy="88.7" r="2.2"/><circle cx="394.3" cy="89.8" r="2.2"/><circle cx="395" cy="90.7" r="2.2"/><circle cx="395.7" cy="89.8" r="2.2"/><circle cx="396.4" cy="95.5" r="2.2"/><circle cx="397.1" cy="82.4" r="2.2"/><circle cx="397.8" cy="90.1" r="2.2"/><circle cx="398.5" cy="91.8" r="2.2"/><circle cx="399.2" cy="100.7" r="2.2"/><circle cx="399.9" cy="86" r="2.2"/><circle cx="400.6" cy="93.2" r="2.2"/><circle cx="401.3" cy="90.5" r="2.2"/><circle cx="402" cy="92.9" r="2.2"/><circle cx="402.7" cy="98.7" r="2.2"/><circle cx="403.4" cy="98.3" r="2.2"/><circle cx="404.1" cy="102.9" r="2.2"/><circle cx="404.8" cy="95.3" r="2.2"/><circle cx="405.5" cy="99.3" r="2.2"/><circle cx="406.2" cy="103.4" r="2.2"/><circle cx="406.9" cy="102.8" r="2.2"/><circle cx="407.6" cy="98.4" r="2.2"/><circle cx="408.3" cy="104.8" r="2.2"/><circle cx="409" cy="97" r="2.2"/><circle cx="409.7" cy="108.4" r="2.2"/><circle cx="410.4" cy="102.3" r="2.2"/><circle cx="411.1" cy="101.8" r="2.2"/><circle cx="411.8" cy="103.8" r="2.2"/><circle cx="412.6" cy="106.6" r="2.2"/><circle cx="413.3" cy="110.6" r="2.2"/><circle cx="414" cy="103.6" r="2.2"/><circle cx="414.7" cy="103.2" r="2.2"/><circle cx="415.4" cy="107.4" r="2.2"/><circle cx="416.1" cy="102.1" r="2.2"/><circle cx="416.8" cy="99.3" r="2.2"/><circle cx="417.5" cy="109.8" r="2.2"/><circle cx="418.2" cy="105.5" r="2.2"/><circle cx="418.9" cy="111.9" r="2.2"/><circle cx="419.6" cy="103.8" r="2.2"/><circle cx="420.3" cy="96.8" r="2.2"/><circle cx="421" cy="109.9" r="2.2"/><circle cx="421.7" cy="109.9" r="2.2"/><circle cx="422.4" cy="116.1" r="2.2"/><circle cx="423.1" cy="112.2" r="2.2"/><circle cx="423.8" cy="111.8" r="2.2"/><circle cx="424.5" cy="113.4" r="2.2"/><circle cx="425.2" cy="110" r="2.2"/><circle cx="425.9" cy="112.2" r="2.2"/><circle cx="426.6" cy="106.9" r="2.2"/><circle cx="427.3" cy="114.8" r="2.2"/><circle cx="428" cy="110" r="2.2"/><circle cx="428.7" cy="111.8" r="2.2"/><circle cx="429.4" cy="116.9" r="2.2"/><circle cx="430.1" cy="118.1" r="2.2"/><circle cx="430.8" cy="110.9" r="2.2"/><circle cx="431.6" cy="123.3" r="2.2"/><circle cx="432.3" cy="113.4" r="2.2"/><circle cx="433" cy="119.5" r="2.2"/><circle cx="433.7" cy="120.4" r="2.2"/><circle cx="434.4" cy="117.9" r="2.2"/><circle cx="435.1" cy="118.1" r="2.2"/><circle cx="435.8" cy="125" r="2.2"/><circle cx="436.5" cy="121.7" r="2.2"/><circle cx="437.2" cy="120.4" r="2.2"/><circle cx="437.9" cy="111.7" r="2.2"/><circle cx="438.6" cy="116.4" r="2.2"/><circle cx="439.3" cy="124.4" r="2.2"/><circle cx="440" cy="120.9" r="2.2"/><circle cx="440.7" cy="116.7" r="2.2"/><circle cx="441.4" cy="118.3" r="2.2"/><circle cx="442.1" cy="120.1" r="2.2"/><circle cx="442.8" cy="124.4" r="2.2"/><circle cx="443.5" cy="123.6" r="2.2"/><circle cx="444.2" cy="126.4" r="2.2"/><circle cx="444.9" cy="119.5" r="2.2"/><circle cx="445.6" cy="127.1" r="2.2"/><circle cx="446.3" cy="121.5" r="2.2"/><circle cx="447" cy="122.7" r="2.2"/><circle cx="447.7" cy="131.2" r="2.2"/><circle cx="448.4" cy="124.9" r="2.2"/><circle cx="449.1" cy="124.4" r="2.2"/><circle cx="449.8" cy="124.4" r="2.2"/><circle cx="450.5" cy="124.1" r="2.2"/><circle cx="451.3" cy="132.2" r="2.2"/><circle cx="452" cy="131.8" r="2.2"/><circle cx="452.7" cy="129.5" r="2.2"/><circle cx="453.4" cy="127.7" r="2.2"/><circle cx="454.1" cy="131.5" r="2.2"/><circle cx="454.8" cy="127.3" r="2.2"/><circle cx="455.5" cy="129.7" r="2.2"/><circle cx="456.2" cy="129.9" r="2.2"/><circle cx="456.9" cy="128.9" r="2.2"/><circle cx="457.6" cy="135.5" r="2.2"/><circle cx="458.3" cy="136.2" r="2.2"/><circle cx="459" cy="134.8" r="2.2"/><circle cx="459.7" cy="122.1" r="2.2"/><circle cx="460.4" cy="137.4" r="2.2"/><circle cx="461.1" cy="133.1" r="2.2"/><circle cx="461.8" cy="128.8" r="2.2"/><circle cx="462.5" cy="130.8" r="2.2"/><circle cx="463.2" cy="135.7" r="2.2"/><circle cx="463.9" cy="136.1" r="2.2"/><circle cx="464.6" cy="135.1" r="2.2"/><circle cx="465.3" cy="132.5" r="2.2"/><circle cx="466" cy="132.3" r="2.2"/><circle cx="466.7" cy="135.7" r="2.2"/><circle cx="467.4" cy="132.2" r="2.2"/><circle cx="468.1" cy="129.2" r="2.2"/><circle cx="468.8" cy="130.5" r="2.2"/><circle cx="469.5" cy="132.7" r="2.2"/><circle cx="470.3" cy="134.7" r="2.2"/><circle cx="471" cy="142.6" r="2.2"/><circle cx="471.7" cy="128.2" r="2.2"/><circle cx="472.4" cy="135.7" r="2.2"/><circle cx="473.1" cy="133.5" r="2.2"/><circle cx="473.8" cy="135" r="2.2"/><circle cx="474.5" cy="139.3" r="2.2"/><circle cx="475.2" cy="138.8" r="2.2"/><circle cx="475.9" cy="133.2" r="2.2"/><circle cx="476.6" cy="131.6" r="2.2"/><circle cx="477.3" cy="128.4" r="2.2"/><circle cx="478" cy="133.6" r="2.2"/><circle cx="478.7" cy="138.8" r="2.2"/><circle cx="479.4" cy="132.8" r="2.2"/></g><g fill="none" stroke="#e070e4" stroke-width="0.8" stroke-opacity="0.88"><circle cx="268.3" cy="322.1" r="2.2"/><circle cx="269" cy="310.1" r="2.2"/><circle cx="269.7" cy="314.3" r="2.2"/><circle cx="270.4" cy="313.2" r="2.2"/><circle cx="271.1" cy="316" r="2.2"/><circle cx="271.8" cy="307" r="2.2"/><circle cx="272.5" cy="310.9" r="2.2"/><circle cx="273.2" cy="309.5" r="2.2"/><circle cx="273.9" cy="308.2" r="2.2"/><circle cx="274.6" cy="309" r="2.2"/><circle cx="275.3" cy="310.3" r="2.2"/><circle cx="276" cy="311.2" r="2.2"/><circle cx="276.7" cy="308.7" r="2.2"/><circle cx="277.4" cy="313.9" r="2.2"/><circle cx="278.2" cy="310" r="2.2"/><circle cx="278.9" cy="299.4" r="2.2"/><circle cx="279.6" cy="316.9" r="2.2"/><circle cx="280.3" cy="310.5" r="2.2"/><circle cx="281" cy="309" r="2.2"/><circle cx="281.7" cy="313" r="2.2"/><circle cx="282.4" cy="312.8" r="2.2"/><circle cx="283.1" cy="312.1" r="2.2"/><circle cx="283.8" cy="308.4" r="2.2"/><circle cx="284.5" cy="312.5" r="2.2"/><circle cx="285.2" cy="305.5" r="2.2"/><circle cx="285.9" cy="317.4" r="2.2"/><circle cx="286.6" cy="306.5" r="2.2"/><circle cx="287.3" cy="310.7" r="2.2"/><circle cx="288" cy="311.5" r="2.2"/><circle cx="288.7" cy="312.2" r="2.2"/><circle cx="289.4" cy="310.3" r="2.2"/><circle cx="290.1" cy="313.2" r="2.2"/><circle cx="290.8" cy="296.6" r="2.2"/><circle cx="291.5" cy="310.1" r="2.2"/><circle cx="292.2" cy="309.8" r="2.2"/><circle cx="292.9" cy="308.7" r="2.2"/><circle cx="293.6" cy="316.4" r="2.2"/><circle cx="294.3" cy="306.3" r="2.2"/><circle cx="295" cy="309.8" r="2.2"/><circle cx="295.7" cy="301.9" r="2.2"/><circle cx="296.4" cy="311.1" r="2.2"/><circle cx="297.2" cy="303.4" r="2.2"/><circle cx="297.9" cy="303.5" r="2.2"/><circle cx="298.6" cy="319.1" r="2.2"/><circle cx="299.3" cy="312.4" r="2.2"/><circle cx="300" cy="309.4" r="2.2"/><circle cx="300.7" cy="310" r="2.2"/><circle cx="301.4" cy="303.4" r="2.2"/><circle cx="302.1" cy="304.9" r="2.2"/><circle cx="302.8" cy="310.7" r="2.2"/><circle cx="303.5" cy="300.3" r="2.2"/><circle cx="304.2" cy="309.8" r="2.2"/><circle cx="304.9" cy="301.6" r="2.2"/><circle cx="305.6" cy="308.9" r="2.2"/><circle cx="306.3" cy="303.8" r="2.2"/><circle cx="307" cy="315.3" r="2.2"/><circle cx="307.7" cy="312.1" r="2.2"/><circle cx="308.4" cy="305.7" r="2.2"/><circle cx="309.1" cy="300" r="2.2"/><circle cx="309.8" cy="304.3" r="2.2"/><circle cx="310.5" cy="307" r="2.2"/><circle cx="311.2" cy="303" r="2.2"/><circle cx="311.9" cy="308" r="2.2"/><circle cx="312.6" cy="310.7" r="2.2"/><circle cx="313.3" cy="306.2" r="2.2"/><circle cx="314" cy="304.4" r="2.2"/><circle cx="314.7" cy="309.1" r="2.2"/><circle cx="315.4" cy="304.5" r="2.2"/><circle cx="316.1" cy="308.8" r="2.2"/><circle cx="316.9" cy="303.8" r="2.2"/><circle cx="317.6" cy="311.3" r="2.2"/><circle cx="318.3" cy="303.3" r="2.2"/><circle cx="319" cy="299.8" r="2.2"/><circle cx="319.7" cy="304.1" r="2.2"/><circle cx="320.4" cy="300.7" r="2.2"/><circle cx="321.1" cy="299" r="2.2"/><circle cx="321.8" cy="301.9" r="2.2"/><circle cx="322.5" cy="304.9" r="2.2"/><circle cx="323.2" cy="292.6" r="2.2"/><circle cx="323.9" cy="300.6" r="2.2"/><circle cx="324.6" cy="299.6" r="2.2"/><circle cx="325.3" cy="299" r="2.2"/><circle cx="326" cy="302.1" r="2.2"/><circle cx="326.7" cy="292.8" r="2.2"/><circle cx="327.4" cy="300" r="2.2"/><circle cx="328.1" cy="295.5" r="2.2"/><circle cx="328.8" cy="296" r="2.2"/><circle cx="329.5" cy="293.6" r="2.2"/><circle cx="330.2" cy="292.1" r="2.2"/><circle cx="330.9" cy="290.2" r="2.2"/><circle cx="331.6" cy="292.8" r="2.2"/><circle cx="332.3" cy="298.4" r="2.2"/><circle cx="333" cy="292.7" r="2.2"/><circle cx="333.7" cy="290.4" r="2.2"/><circle cx="334.4" cy="287.6" r="2.2"/><circle cx="335.1" cy="281.8" r="2.2"/><circle cx="335.9" cy="284.4" r="2.2"/><circle cx="336.6" cy="288.4" r="2.2"/><circle cx="337.3" cy="272.8" r="2.2"/><circle cx="338" cy="279.3" r="2.2"/><circle cx="338.7" cy="277.8" r="2.2"/><circle cx="339.4" cy="272.5" r="2.2"/><circle cx="340.1" cy="272.1" r="2.2"/><circle cx="340.8" cy="271.9" r="2.2"/><circle cx="341.5" cy="272.6" r="2.2"/><circle cx="342.2" cy="266.1" r="2.2"/><circle cx="342.9" cy="264.6" r="2.2"/><circle cx="343.6" cy="256.1" r="2.2"/><circle cx="344.3" cy="255" r="2.2"/><circle cx="345" cy="249.1" r="2.2"/><circle cx="345.7" cy="246.2" r="2.2"/><circle cx="346.4" cy="239.7" r="2.2"/><circle cx="347.1" cy="240.8" r="2.2"/><circle cx="347.8" cy="240.3" r="2.2"/><circle cx="348.5" cy="230.2" r="2.2"/><circle cx="349.2" cy="228.2" r="2.2"/><circle cx="349.9" cy="226" r="2.2"/><circle cx="350.6" cy="219.9" r="2.2"/><circle cx="351.3" cy="220" r="2.2"/><circle cx="352" cy="213.6" r="2.2"/><circle cx="352.7" cy="204.4" r="2.2"/><circle cx="353.4" cy="201.6" r="2.2"/><circle cx="354.1" cy="205.5" r="2.2"/><circle cx="354.9" cy="202.1" r="2.2"/><circle cx="355.6" cy="201.3" r="2.2"/><circle cx="356.3" cy="195.3" r="2.2"/><circle cx="357" cy="192.9" r="2.2"/><circle cx="357.7" cy="183.9" r="2.2"/><circle cx="358.4" cy="194.4" r="2.2"/><circle cx="359.1" cy="184" r="2.2"/><circle cx="359.8" cy="191.3" r="2.2"/><circle cx="360.5" cy="182.2" r="2.2"/><circle cx="361.2" cy="184.2" r="2.2"/><circle cx="361.9" cy="187.5" r="2.2"/><circle cx="362.6" cy="185.1" r="2.2"/><circle cx="363.3" cy="184" r="2.2"/><circle cx="364" cy="190.5" r="2.2"/><circle cx="364.7" cy="189.6" r="2.2"/><circle cx="365.4" cy="188.5" r="2.2"/><circle cx="366.1" cy="185.5" r="2.2"/><circle cx="366.8" cy="183.9" r="2.2"/><circle cx="367.5" cy="186.3" r="2.2"/><circle cx="368.2" cy="187.5" r="2.2"/><circle cx="368.9" cy="191.3" r="2.2"/><circle cx="369.6" cy="196.7" r="2.2"/><circle cx="370.3" cy="195.3" r="2.2"/><circle cx="371" cy="195.3" r="2.2"/><circle cx="371.7" cy="198.7" r="2.2"/><circle cx="372.4" cy="209.2" r="2.2"/><circle cx="373.1" cy="207.4" r="2.2"/><circle cx="373.9" cy="210.5" r="2.2"/><circle cx="374.6" cy="213.4" r="2.2"/><circle cx="375.3" cy="217.3" r="2.2"/><circle cx="376" cy="218.1" r="2.2"/><circle cx="376.7" cy="224.7" r="2.2"/><circle cx="377.4" cy="225.5" r="2.2"/><circle cx="378.1" cy="213" r="2.2"/><circle cx="378.8" cy="225.9" r="2.2"/><circle cx="379.5" cy="240.3" r="2.2"/><circle cx="380.2" cy="225" r="2.2"/><circle cx="380.9" cy="232.3" r="2.2"/><circle cx="381.6" cy="237.7" r="2.2"/><circle cx="382.3" cy="234.8" r="2.2"/><circle cx="383" cy="241.5" r="2.2"/><circle cx="383.7" cy="232.2" r="2.2"/><circle cx="384.4" cy="233.4" r="2.2"/><circle cx="385.1" cy="238.7" r="2.2"/><circle cx="385.8" cy="237.5" r="2.2"/><circle cx="386.5" cy="237" r="2.2"/><circle cx="387.2" cy="244.5" r="2.2"/><circle cx="387.9" cy="244.1" r="2.2"/><circle cx="388.6" cy="243.8" r="2.2"/><circle cx="389.3" cy="242.9" r="2.2"/><circle cx="390" cy="246.2" r="2.2"/><circle cx="390.7" cy="245.4" r="2.2"/><circle cx="391.4" cy="243.6" r="2.2"/><circle cx="392.1" cy="249.2" r="2.2"/><circle cx="392.8" cy="249.2" r="2.2"/><circle cx="393.6" cy="248.6" r="2.2"/><circle cx="394.3" cy="251.6" r="2.2"/><circle cx="395" cy="245" r="2.2"/><circle cx="395.7" cy="249.4" r="2.2"/><circle cx="396.4" cy="248.4" r="2.2"/><circle cx="397.1" cy="256.3" r="2.2"/><circle cx="397.8" cy="253.6" r="2.2"/><circle cx="398.5" cy="260.5" r="2.2"/><circle cx="399.2" cy="258.8" r="2.2"/><circle cx="399.9" cy="251.5" r="2.2"/><circle cx="400.6" cy="249.1" r="2.2"/><circle cx="401.3" cy="255.9" r="2.2"/><circle cx="402" cy="253.3" r="2.2"/><circle cx="402.7" cy="254.3" r="2.2"/><circle cx="403.4" cy="251.1" r="2.2"/><circle cx="404.1" cy="258.2" r="2.2"/><circle cx="404.8" cy="257" r="2.2"/><circle cx="405.5" cy="258.3" r="2.2"/><circle cx="406.2" cy="258.4" r="2.2"/><circle cx="406.9" cy="253.9" r="2.2"/><circle cx="407.6" cy="249" r="2.2"/><circle cx="408.3" cy="257.3" r="2.2"/><circle cx="409" cy="256.3" r="2.2"/><circle cx="409.7" cy="257.1" r="2.2"/><circle cx="410.4" cy="263.5" r="2.2"/><circle cx="411.1" cy="259.6" r="2.2"/><circle cx="411.8" cy="266.4" r="2.2"/><circle cx="412.6" cy="261.5" r="2.2"/><circle cx="413.3" cy="263.9" r="2.2"/><circle cx="414" cy="263.6" r="2.2"/><circle cx="414.7" cy="265.2" r="2.2"/><circle cx="415.4" cy="257.3" r="2.2"/><circle cx="416.1" cy="267" r="2.2"/><circle cx="416.8" cy="263.5" r="2.2"/><circle cx="417.5" cy="259.5" r="2.2"/><circle cx="418.2" cy="266.2" r="2.2"/><circle cx="418.9" cy="265.5" r="2.2"/><circle cx="419.6" cy="269.6" r="2.2"/><circle cx="420.3" cy="267.7" r="2.2"/><circle cx="421" cy="266.5" r="2.2"/><circle cx="421.7" cy="258.9" r="2.2"/><circle cx="422.4" cy="272.4" r="2.2"/><circle cx="423.1" cy="272" r="2.2"/><circle cx="423.8" cy="269.5" r="2.2"/><circle cx="424.5" cy="268.5" r="2.2"/><circle cx="425.2" cy="271.9" r="2.2"/><circle cx="425.9" cy="263.8" r="2.2"/><circle cx="426.6" cy="270.4" r="2.2"/><circle cx="427.3" cy="268" r="2.2"/><circle cx="428" cy="264.2" r="2.2"/><circle cx="428.7" cy="269.9" r="2.2"/><circle cx="429.4" cy="270.1" r="2.2"/><circle cx="430.1" cy="275.8" r="2.2"/><circle cx="430.8" cy="273" r="2.2"/><circle cx="431.6" cy="263.1" r="2.2"/><circle cx="432.3" cy="262" r="2.2"/><circle cx="433" cy="269.7" r="2.2"/><circle cx="433.7" cy="269.5" r="2.2"/><circle cx="434.4" cy="266.8" r="2.2"/><circle cx="435.1" cy="265" r="2.2"/><circle cx="435.8" cy="270.3" r="2.2"/><circle cx="436.5" cy="266.7" r="2.2"/><circle cx="437.2" cy="268.7" r="2.2"/><circle cx="437.9" cy="275.2" r="2.2"/><circle cx="438.6" cy="272.9" r="2.2"/><circle cx="439.3" cy="269.2" r="2.2"/><circle cx="440" cy="267.9" r="2.2"/><circle cx="440.7" cy="271.9" r="2.2"/><circle cx="441.4" cy="279.7" r="2.2"/><circle cx="442.1" cy="271" r="2.2"/><circle cx="442.8" cy="280.1" r="2.2"/><circle cx="443.5" cy="270.2" r="2.2"/><circle cx="444.2" cy="272.7" r="2.2"/><circle cx="444.9" cy="276.5" r="2.2"/><circle cx="445.6" cy="270.8" r="2.2"/><circle cx="446.3" cy="274.3" r="2.2"/><circle cx="447" cy="268.9" r="2.2"/><circle cx="447.7" cy="277.1" r="2.2"/><circle cx="448.4" cy="279.2" r="2.2"/><circle cx="449.1" cy="272.1" r="2.2"/><circle cx="449.8" cy="275.6" r="2.2"/><circle cx="450.5" cy="273.4" r="2.2"/><circle cx="451.3" cy="266.5" r="2.2"/><circle cx="452" cy="286.3" r="2.2"/><circle cx="452.7" cy="278" r="2.2"/><circle cx="453.4" cy="278.9" r="2.2"/><circle cx="454.1" cy="277.2" r="2.2"/><circle cx="454.8" cy="276.5" r="2.2"/><circle cx="455.5" cy="285.4" r="2.2"/><circle cx="456.2" cy="268.7" r="2.2"/><circle cx="456.9" cy="274.8" r="2.2"/><circle cx="457.6" cy="274.5" r="2.2"/><circle cx="458.3" cy="275.4" r="2.2"/><circle cx="459" cy="279.1" r="2.2"/><circle cx="459.7" cy="273.5" r="2.2"/><circle cx="460.4" cy="271.2" r="2.2"/><circle cx="461.1" cy="272" r="2.2"/><circle cx="461.8" cy="278.4" r="2.2"/><circle cx="462.5" cy="280.5" r="2.2"/><circle cx="463.2" cy="279.9" r="2.2"/><circle cx="463.9" cy="283.1" r="2.2"/><circle cx="464.6" cy="274.7" r="2.2"/><circle cx="465.3" cy="280.8" r="2.2"/><circle cx="466" cy="279.6" r="2.2"/><circle cx="466.7" cy="276.2" r="2.2"/><circle cx="467.4" cy="273.8" r="2.2"/><circle cx="468.1" cy="280.3" r="2.2"/><circle cx="468.8" cy="274.1" r="2.2"/><circle cx="469.5" cy="275.7" r="2.2"/><circle cx="470.3" cy="272.9" r="2.2"/><circle cx="471" cy="283.8" r="2.2"/><circle cx="471.7" cy="276.6" r="2.2"/><circle cx="472.4" cy="274.8" r="2.2"/><circle cx="473.1" cy="275.9" r="2.2"/><circle cx="473.8" cy="275.9" r="2.2"/><circle cx="474.5" cy="277.2" r="2.2"/><circle cx="475.2" cy="270" r="2.2"/><circle cx="475.9" cy="272.2" r="2.2"/><circle cx="476.6" cy="278.9" r="2.2"/><circle cx="477.3" cy="281.2" r="2.2"/><circle cx="478" cy="272.8" r="2.2"/><circle cx="478.7" cy="277.3" r="2.2"/><circle cx="479.4" cy="274.6" r="2.2"/></g><g fill="none" stroke="#f07cc0" stroke-width="0.8" stroke-opacity="0.88"><circle cx="268.3" cy="419.9" r="2.2"/><circle cx="269" cy="423.9" r="2.2"/><circle cx="269.7" cy="416.4" r="2.2"/><circle cx="270.4" cy="423" r="2.2"/><circle cx="271.1" cy="418.7" r="2.2"/><circle cx="271.8" cy="418.7" r="2.2"/><circle cx="272.5" cy="426" r="2.2"/><circle cx="273.2" cy="420.1" r="2.2"/><circle cx="273.9" cy="419.4" r="2.2"/><circle cx="274.6" cy="422" r="2.2"/><circle cx="275.3" cy="423.3" r="2.2"/><circle cx="276" cy="419.4" r="2.2"/><circle cx="276.7" cy="421.4" r="2.2"/><circle cx="277.4" cy="416.1" r="2.2"/><circle cx="278.2" cy="418.2" r="2.2"/><circle cx="278.9" cy="417.9" r="2.2"/><circle cx="279.6" cy="414.8" r="2.2"/><circle cx="280.3" cy="414.2" r="2.2"/><circle cx="281" cy="413.8" r="2.2"/><circle cx="281.7" cy="418.5" r="2.2"/><circle cx="282.4" cy="418.7" r="2.2"/><circle cx="283.1" cy="418.2" r="2.2"/><circle cx="283.8" cy="419.5" r="2.2"/><circle cx="284.5" cy="414.7" r="2.2"/><circle cx="285.2" cy="418.9" r="2.2"/><circle cx="285.9" cy="420" r="2.2"/><circle cx="286.6" cy="421.7" r="2.2"/><circle cx="287.3" cy="416.2" r="2.2"/><circle cx="288" cy="417.7" r="2.2"/><circle cx="288.7" cy="412.2" r="2.2"/><circle cx="289.4" cy="417.3" r="2.2"/><circle cx="290.1" cy="411.5" r="2.2"/><circle cx="290.8" cy="414.1" r="2.2"/><circle cx="291.5" cy="422.7" r="2.2"/><circle cx="292.2" cy="411.4" r="2.2"/><circle cx="292.9" cy="421.6" r="2.2"/><circle cx="293.6" cy="420" r="2.2"/><circle cx="294.3" cy="417.7" r="2.2"/><circle cx="295" cy="420.3" r="2.2"/><circle cx="295.7" cy="420.5" r="2.2"/><circle cx="296.4" cy="422.2" r="2.2"/><circle cx="297.2" cy="417.9" r="2.2"/><circle cx="297.9" cy="416.6" r="2.2"/><circle cx="298.6" cy="416.5" r="2.2"/><circle cx="299.3" cy="415.2" r="2.2"/><circle cx="300" cy="418.3" r="2.2"/><circle cx="300.7" cy="415.8" r="2.2"/><circle cx="301.4" cy="422" r="2.2"/><circle cx="302.1" cy="412" r="2.2"/><circle cx="302.8" cy="414.6" r="2.2"/><circle cx="303.5" cy="415" r="2.2"/><circle cx="304.2" cy="411" r="2.2"/><circle cx="304.9" cy="424.6" r="2.2"/><circle cx="305.6" cy="409.8" r="2.2"/><circle cx="306.3" cy="417" r="2.2"/><circle cx="307" cy="416.1" r="2.2"/><circle cx="307.7" cy="423.5" r="2.2"/><circle cx="308.4" cy="411" r="2.2"/><circle cx="309.1" cy="421.3" r="2.2"/><circle cx="309.8" cy="415.1" r="2.2"/><circle cx="310.5" cy="417" r="2.2"/><circle cx="311.2" cy="415.1" r="2.2"/><circle cx="311.9" cy="419.5" r="2.2"/><circle cx="312.6" cy="413.3" r="2.2"/><circle cx="313.3" cy="416.8" r="2.2"/><circle cx="314" cy="418.2" r="2.2"/><circle cx="314.7" cy="423.1" r="2.2"/><circle cx="315.4" cy="408.5" r="2.2"/><circle cx="316.1" cy="421.7" r="2.2"/><circle cx="316.9" cy="419.6" r="2.2"/><circle cx="317.6" cy="414.6" r="2.2"/><circle cx="318.3" cy="417.1" r="2.2"/><circle cx="319" cy="414.2" r="2.2"/><circle cx="319.7" cy="421.2" r="2.2"/><circle cx="320.4" cy="416.1" r="2.2"/><circle cx="321.1" cy="414.4" r="2.2"/><circle cx="321.8" cy="414" r="2.2"/><circle cx="322.5" cy="413.8" r="2.2"/><circle cx="323.2" cy="413.5" r="2.2"/><circle cx="323.9" cy="410.8" r="2.2"/><circle cx="324.6" cy="420.3" r="2.2"/><circle cx="325.3" cy="406.4" r="2.2"/><circle cx="326" cy="400.1" r="2.2"/><circle cx="326.7" cy="411.4" r="2.2"/><circle cx="327.4" cy="410.7" r="2.2"/><circle cx="328.1" cy="411.9" r="2.2"/><circle cx="328.8" cy="409.2" r="2.2"/><circle cx="329.5" cy="408.6" r="2.2"/><circle cx="330.2" cy="409.4" r="2.2"/><circle cx="330.9" cy="410.7" r="2.2"/><circle cx="331.6" cy="404.9" r="2.2"/><circle cx="332.3" cy="404.1" r="2.2"/><circle cx="333" cy="410.9" r="2.2"/><circle cx="333.7" cy="404.9" r="2.2"/><circle cx="334.4" cy="398.4" r="2.2"/><circle cx="335.1" cy="408.3" r="2.2"/><circle cx="335.9" cy="401.6" r="2.2"/><circle cx="336.6" cy="395.4" r="2.2"/><circle cx="337.3" cy="391.7" r="2.2"/><circle cx="338" cy="395" r="2.2"/><circle cx="338.7" cy="389.3" r="2.2"/><circle cx="339.4" cy="386.7" r="2.2"/><circle cx="340.1" cy="383.8" r="2.2"/><circle cx="340.8" cy="384.4" r="2.2"/><circle cx="341.5" cy="387.8" r="2.2"/><circle cx="342.2" cy="380.3" r="2.2"/><circle cx="342.9" cy="374.5" r="2.2"/><circle cx="343.6" cy="379.4" r="2.2"/><circle cx="344.3" cy="374.9" r="2.2"/><circle cx="345" cy="375.1" r="2.2"/><circle cx="345.7" cy="373.9" r="2.2"/><circle cx="346.4" cy="366.7" r="2.2"/><circle cx="347.1" cy="364.3" r="2.2"/><circle cx="347.8" cy="362.2" r="2.2"/><circle cx="348.5" cy="356" r="2.2"/><circle cx="349.2" cy="359.8" r="2.2"/><circle cx="349.9" cy="359.9" r="2.2"/><circle cx="350.6" cy="353.6" r="2.2"/><circle cx="351.3" cy="350.1" r="2.2"/><circle cx="352" cy="348" r="2.2"/><circle cx="352.7" cy="344.5" r="2.2"/><circle cx="353.4" cy="342.8" r="2.2"/><circle cx="354.1" cy="342.8" r="2.2"/><circle cx="354.9" cy="340.1" r="2.2"/><circle cx="355.6" cy="340.6" r="2.2"/><circle cx="356.3" cy="336.1" r="2.2"/><circle cx="357" cy="342.3" r="2.2"/><circle cx="357.7" cy="341.2" r="2.2"/><circle cx="358.4" cy="337.1" r="2.2"/><circle cx="359.1" cy="333.2" r="2.2"/><circle cx="359.8" cy="341" r="2.2"/><circle cx="360.5" cy="344.8" r="2.2"/><circle cx="361.2" cy="338.5" r="2.2"/><circle cx="361.9" cy="339.4" r="2.2"/><circle cx="362.6" cy="339.1" r="2.2"/><circle cx="363.3" cy="343.2" r="2.2"/><circle cx="364" cy="338.3" r="2.2"/><circle cx="364.7" cy="345.5" r="2.2"/><circle cx="365.4" cy="342.1" r="2.2"/><circle cx="366.1" cy="347.4" r="2.2"/><circle cx="366.8" cy="345.6" r="2.2"/><circle cx="367.5" cy="346.1" r="2.2"/><circle cx="368.2" cy="343.4" r="2.2"/><circle cx="368.9" cy="347.6" r="2.2"/><circle cx="369.6" cy="350.7" r="2.2"/><circle cx="370.3" cy="355.5" r="2.2"/><circle cx="371" cy="355.7" r="2.2"/><circle cx="371.7" cy="354.2" r="2.2"/><circle cx="372.4" cy="359.5" r="2.2"/><circle cx="373.1" cy="363" r="2.2"/><circle cx="373.9" cy="360.7" r="2.2"/><circle cx="374.6" cy="361.2" r="2.2"/><circle cx="375.3" cy="362.7" r="2.2"/><circle cx="376" cy="368.2" r="2.2"/><circle cx="376.7" cy="368.5" r="2.2"/><circle cx="377.4" cy="364.7" r="2.2"/><circle cx="378.1" cy="370.3" r="2.2"/><circle cx="378.8" cy="368.5" r="2.2"/><circle cx="379.5" cy="368.5" r="2.2"/><circle cx="380.2" cy="376.3" r="2.2"/><circle cx="380.9" cy="375.7" r="2.2"/><circle cx="381.6" cy="371.3" r="2.2"/><circle cx="382.3" cy="374.8" r="2.2"/><circle cx="383" cy="377" r="2.2"/><circle cx="383.7" cy="373.8" r="2.2"/><circle cx="384.4" cy="376.2" r="2.2"/><circle cx="385.1" cy="379.5" r="2.2"/><circle cx="385.8" cy="371.8" r="2.2"/><circle cx="386.5" cy="379.5" r="2.2"/><circle cx="387.2" cy="381.5" r="2.2"/><circle cx="387.9" cy="381.2" r="2.2"/><circle cx="388.6" cy="375.4" r="2.2"/><circle cx="389.3" cy="381.5" r="2.2"/><circle cx="390" cy="378" r="2.2"/><circle cx="390.7" cy="383.3" r="2.2"/><circle cx="391.4" cy="383.8" r="2.2"/><circle cx="392.1" cy="382.9" r="2.2"/><circle cx="392.8" cy="380" r="2.2"/><circle cx="393.6" cy="381" r="2.2"/><circle cx="394.3" cy="386.3" r="2.2"/><circle cx="395" cy="380.7" r="2.2"/><circle cx="395.7" cy="385.8" r="2.2"/><circle cx="396.4" cy="386.3" r="2.2"/><circle cx="397.1" cy="383.9" r="2.2"/><circle cx="397.8" cy="393.4" r="2.2"/><circle cx="398.5" cy="385.8" r="2.2"/><circle cx="399.2" cy="393.2" r="2.2"/><circle cx="399.9" cy="379.4" r="2.2"/><circle cx="400.6" cy="379" r="2.2"/><circle cx="401.3" cy="390.2" r="2.2"/><circle cx="402" cy="389.4" r="2.2"/><circle cx="402.7" cy="386.5" r="2.2"/><circle cx="403.4" cy="387.7" r="2.2"/><circle cx="404.1" cy="381.7" r="2.2"/><circle cx="404.8" cy="386.3" r="2.2"/><circle cx="405.5" cy="385.2" r="2.2"/><circle cx="406.2" cy="388.3" r="2.2"/><circle cx="406.9" cy="392.3" r="2.2"/><circle cx="407.6" cy="389.8" r="2.2"/><circle cx="408.3" cy="391.1" r="2.2"/><circle cx="409" cy="387.7" r="2.2"/><circle cx="409.7" cy="388.9" r="2.2"/><circle cx="410.4" cy="391" r="2.2"/><circle cx="411.1" cy="389.9" r="2.2"/><circle cx="411.8" cy="395.4" r="2.2"/><circle cx="412.6" cy="388.4" r="2.2"/><circle cx="413.3" cy="398" r="2.2"/><circle cx="414" cy="388.5" r="2.2"/><circle cx="414.7" cy="395.7" r="2.2"/><circle cx="415.4" cy="389.7" r="2.2"/><circle cx="416.1" cy="398.1" r="2.2"/><circle cx="416.8" cy="393.2" r="2.2"/><circle cx="417.5" cy="394.3" r="2.2"/><circle cx="418.2" cy="395.7" r="2.2"/><circle cx="418.9" cy="391.2" r="2.2"/><circle cx="419.6" cy="390" r="2.2"/><circle cx="420.3" cy="386.9" r="2.2"/><circle cx="421" cy="398.1" r="2.2"/><circle cx="421.7" cy="391.8" r="2.2"/><circle cx="422.4" cy="392.3" r="2.2"/><circle cx="423.1" cy="394.4" r="2.2"/><circle cx="423.8" cy="401.4" r="2.2"/><circle cx="424.5" cy="389" r="2.2"/><circle cx="425.2" cy="395.8" r="2.2"/><circle cx="425.9" cy="393.8" r="2.2"/><circle cx="426.6" cy="397.1" r="2.2"/><circle cx="427.3" cy="389.3" r="2.2"/><circle cx="428" cy="394.3" r="2.2"/><circle cx="428.7" cy="398.6" r="2.2"/><circle cx="429.4" cy="401.2" r="2.2"/><circle cx="430.1" cy="401.4" r="2.2"/><circle cx="430.8" cy="393.2" r="2.2"/><circle cx="431.6" cy="396.5" r="2.2"/><circle cx="432.3" cy="396" r="2.2"/><circle cx="433" cy="391.8" r="2.2"/><circle cx="433.7" cy="391.7" r="2.2"/><circle cx="434.4" cy="399.3" r="2.2"/><circle cx="435.1" cy="397.6" r="2.2"/><circle cx="435.8" cy="396.4" r="2.2"/><circle cx="436.5" cy="401.1" r="2.2"/><circle cx="437.2" cy="393.7" r="2.2"/><circle cx="437.9" cy="399" r="2.2"/><circle cx="438.6" cy="397.3" r="2.2"/><circle cx="439.3" cy="397.1" r="2.2"/><circle cx="440" cy="399.1" r="2.2"/><circle cx="440.7" cy="398.1" r="2.2"/><circle cx="441.4" cy="398.4" r="2.2"/><circle cx="442.1" cy="398.5" r="2.2"/><circle cx="442.8" cy="404.2" r="2.2"/><circle cx="443.5" cy="396.6" r="2.2"/><circle cx="444.2" cy="401.1" r="2.2"/><circle cx="444.9" cy="399.8" r="2.2"/><circle cx="445.6" cy="396.6" r="2.2"/><circle cx="446.3" cy="400.5" r="2.2"/><circle cx="447" cy="394.9" r="2.2"/><circle cx="447.7" cy="401.8" r="2.2"/><circle cx="448.4" cy="395.1" r="2.2"/><circle cx="449.1" cy="396.2" r="2.2"/><circle cx="449.8" cy="398.9" r="2.2"/><circle cx="450.5" cy="400.7" r="2.2"/><circle cx="451.3" cy="400.9" r="2.2"/><circle cx="452" cy="400.9" r="2.2"/><circle cx="452.7" cy="397.1" r="2.2"/><circle cx="453.4" cy="394.6" r="2.2"/><circle cx="454.1" cy="399.7" r="2.2"/><circle cx="454.8" cy="398.9" r="2.2"/><circle cx="455.5" cy="394.6" r="2.2"/><circle cx="456.2" cy="401.2" r="2.2"/><circle cx="456.9" cy="398.5" r="2.2"/><circle cx="457.6" cy="394.6" r="2.2"/><circle cx="458.3" cy="399.4" r="2.2"/><circle cx="459" cy="393.4" r="2.2"/><circle cx="459.7" cy="394.9" r="2.2"/><circle cx="460.4" cy="399.2" r="2.2"/><circle cx="461.1" cy="392.6" r="2.2"/><circle cx="461.8" cy="398" r="2.2"/><circle cx="462.5" cy="393.3" r="2.2"/><circle cx="463.2" cy="400.4" r="2.2"/><circle cx="463.9" cy="395.4" r="2.2"/><circle cx="464.6" cy="398.5" r="2.2"/><circle cx="465.3" cy="392.8" r="2.2"/><circle cx="466" cy="396.7" r="2.2"/><circle cx="466.7" cy="401.1" r="2.2"/><circle cx="467.4" cy="399.4" r="2.2"/><circle cx="468.1" cy="391.6" r="2.2"/><circle cx="468.8" cy="401" r="2.2"/><circle cx="469.5" cy="400.9" r="2.2"/><circle cx="470.3" cy="396.6" r="2.2"/><circle cx="471" cy="402.7" r="2.2"/><circle cx="471.7" cy="394.3" r="2.2"/><circle cx="472.4" cy="397.6" r="2.2"/><circle cx="473.1" cy="401.7" r="2.2"/><circle cx="473.8" cy="402.4" r="2.2"/><circle cx="474.5" cy="402.2" r="2.2"/><circle cx="475.2" cy="394.2" r="2.2"/><circle cx="475.9" cy="391.8" r="2.2"/><circle cx="476.6" cy="399.2" r="2.2"/><circle cx="477.3" cy="393" r="2.2"/><circle cx="478" cy="397.5" r="2.2"/><circle cx="478.7" cy="393.5" r="2.2"/><circle cx="479.4" cy="401.5" r="2.2"/></g><path d="M351.5,409.6 V6.6 H372.3 V409.6 Z" fill="none" stroke="#858088" stroke-width="1.5" stroke-dasharray="6.2,3.3"/><rect x="268.3" y="8.0" width="211.1" height="464" fill="none" stroke="#222" stroke-width="1.2"/><text x="474.5" y="22.7" font-size="11.6" fill="#111" text-anchor="end">Cu L3M45M45</text><text x="300.3" y="34" font-size="9.25" fill="#111">Cu(I)</text><text x="381.3" y="44.9" font-size="9.2" fill="#a8b0f2" stroke="#a8b0f2" stroke-width="0.2">916.4 eV</text><text x="384.6" y="190.8" font-size="9.2" fill="#e898ea" stroke="#e898ea" stroke-width="0.2">916.7 eV</text><text x="382.7" y="340" font-size="9.2" fill="#f59ed0" stroke="#f59ed0" stroke-width="0.2">917.1 eV</text><text x="272.3" y="190.6" font-size="9" fill="#111" text-anchor="start">Cu/N<tspan font-size="5.2" dy="2.2">0.14</tspan><tspan dy="-2.2">C</tspan></text><text x="271.5" y="341.3" font-size="9" fill="#111" text-anchor="start">Cu/N<tspan font-size="5.2" dy="2.2">0.14</tspan><tspan dy="-2.2">C@-1.1V</tspan></text><text x="271.5" y="442.3" font-size="9" fill="#111" text-anchor="start">Cu/N<tspan font-size="5.2" dy="2.2">0.14</tspan><tspan dy="-2.2">C@-1.2V</tspan></text><text x="268.3" y="485.3" font-size="10.6" fill="#222" text-anchor="middle">930</text><path d="M268.3,472v2.6" stroke="#222" stroke-width="1"/><text x="303.5" y="485.3" font-size="10.6" fill="#222" text-anchor="middle">925</text><path d="M303.5,472v2.6" stroke="#222" stroke-width="1"/><text x="338.7" y="485.3" font-size="10.6" fill="#222" text-anchor="middle">920</text><path d="M338.7,472v2.6" stroke="#222" stroke-width="1"/><text x="373.8" y="485.3" font-size="10.6" fill="#222" text-anchor="middle">915</text><path d="M373.8,472v2.6" stroke="#222" stroke-width="1"/><text x="409" y="485.3" font-size="10.6" fill="#222" text-anchor="middle">910</text><path d="M409,472v2.6" stroke="#222" stroke-width="1"/><text x="444.2" y="485.3" font-size="10.6" fill="#222" text-anchor="middle">905</text><path d="M444.2,472v2.6" stroke="#222" stroke-width="1"/><text x="479.4" y="485.3" font-size="10.6" fill="#222" text-anchor="middle">900</text><path d="M479.4,472v2.6" stroke="#222" stroke-width="1"/><text x="348" y="505" font-size="13.95" fill="#111" text-anchor="middle">Kinetic Energy (eV)</text></g><g id="pc"><text x="515.2" y="15" font-size="21.5" fill="#000" stroke="#000" stroke-width="0.9">c</text><path d="M602.1,181V415.5" stroke="#222" stroke-width="1.5" stroke-dasharray="1.5,4.2" fill="none"/><path d="M614.9,174V415.5" stroke="#222" stroke-width="1.5" stroke-dasharray="1.5,4.2" fill="none"/><path d="M662,75V284.5" stroke="#222" stroke-width="1.5" stroke-dasharray="1.5,4.2" fill="none"/><path d="M688.4,75V284.5" stroke="#222" stroke-width="1.5" stroke-dasharray="1.5,4.2" fill="none"/><path d="M840.9,91V293.5" stroke="#222" stroke-width="1.5" stroke-dasharray="1.5,4.2" fill="none"/><path d="M549.6,465 C552.1,464.5 560.4,463.3 564.7,462.2 C569.1,461.1 572.7,459.9 575.7,458.1 C578.7,456.3 580.8,453.9 582.6,451.2 C584.4,448.4 585.6,445 586.7,441.6 C587.8,438.2 588.3,433.8 589.4,430.6 C590.5,427.4 592.4,425.6 593.5,422.4 C594.6,419.2 595.4,415.8 596.3,411.4 C597.2,407 598.2,399.6 599,396.3 C599.8,393 600.1,393.1 601,391.7 C601.9,390.3 603.5,390.3 604.5,388.1 C605.5,385.9 606.2,382.9 607.3,378.5 C608.3,374.1 609.7,366.4 610.8,362 C611.9,357.6 612.6,355.4 614.1,352.4 C615.6,349.4 617.8,347.4 619.6,344.2 C621.4,341 623.3,338 625.1,333.2 C626.9,328.4 628.8,322.4 630.6,315.3 C632.4,308.2 634.3,298.8 636.1,290.6 C637.9,282.4 639.8,273.2 641.6,265.9 C643.4,258.6 645.3,252.2 647.1,246.7 C648.9,241.2 650.8,236.5 652.6,232.9 C654.4,229.3 656.3,227.1 658.1,225.3 C659.9,223.5 661.3,222.7 663.6,222.1 C665.9,221.5 669.2,221.8 672,221.5 C674.8,221.2 677.7,220.5 680.5,220.1 C683.3,219.7 686.5,219 689,218.9 C691.5,218.8 692.8,218.6 695.3,219.6 C697.8,220.6 701,222.6 703.7,224.7 C706.4,226.8 708.6,229 711.7,232.3 C714.9,235.6 719,241 722.6,244.5 C726.2,248 729.8,250.6 733.4,253.2 C737,255.8 740.2,258 744.3,260 C748.4,262 753.3,264.1 757.8,265.4 C762.3,266.7 767.3,267.4 771.4,267.6 C775.5,267.8 777.8,267.5 782.3,266.8 C786.8,266.1 792.7,264.6 798.6,263.5 C804.5,262.4 810.5,261 817.5,260 C824.5,259 832.5,258.4 840.6,257.6 C848.8,256.8 857.1,256.1 866.4,255.4 C875.7,254.7 885.8,254.2 896.2,253.5 C906.6,252.8 923.5,251.7 929,251.3" fill="none" stroke="#111" stroke-width="2.1" stroke-linejoin="round"/><path d="M549.6,312.6 C551.2,312.5 556,312.2 559.2,311.7 C562.4,311.2 565.8,310.8 568.8,309.8 C571.8,308.8 574.7,307.3 577.1,305.7 C579.5,304.1 581.9,302.2 583.4,300.2 C584.9,298.1 585.1,297.8 586.1,293.4 C587.1,289 588.2,281.4 589.4,274.1 C590.6,266.8 592.1,257.6 593.5,249.4 C594.9,241.2 596.4,231.3 597.7,224.7 C599,218 600.2,213.1 601.3,209.5 C602.4,205.9 603.1,205.8 604.5,203.4 C605.9,201 607.9,198 609.8,195.2 C611.7,192.4 613.8,189.9 616.1,186.7 C618.4,183.5 621.6,179.7 623.5,176.2 C625.4,172.7 626,170.9 627.7,165.6 C629.5,160.3 631.9,151.5 634,144.5 C636.1,137.5 638.3,130.5 640.4,123.4 C642.5,116.4 644.8,107.5 646.7,102.2 C648.6,96.9 650.2,94.2 652,91.7 C653.8,89.2 655.7,88 657.3,87 C658.9,86 659.8,85.8 661.5,86 C663.2,86.2 665.3,87.8 667.8,88.5 C670.3,89.2 673.8,90 676.3,90.2 C678.8,90.5 680.6,90.1 682.6,90 C684.6,89.9 686.4,89.1 688.5,89.6 C690.6,90 692.8,91.1 695.3,92.7 C697.8,94.3 701,96.9 703.7,99.1 C706.4,101.3 708.6,103.6 711.7,106.1 C714.9,108.6 719,112.3 722.6,114.3 C726.2,116.3 729.6,117.3 733.4,118.3 C737.2,119.3 741.1,120 745.6,120.2 C750.1,120.4 754.5,119.9 760.6,119.2 C766.7,118.5 775.1,117.2 782.3,116.2 C789.5,115.2 797.2,114 804,112.9 C810.8,111.8 818,110.7 823,109.7 C828,108.7 830.9,107.5 833.8,106.7 C836.7,105.9 836.5,105.5 840.6,105 C844.7,104.5 851.7,104 858.3,103.4 C864.9,102.8 871.9,102.1 880,101.5 C888.1,100.9 898.9,100.4 907.1,99.9 C915.3,99.4 925.4,98.7 929,98.5" fill="none" stroke="#e01b22" stroke-width="2.1" stroke-linejoin="round"/><rect x="549.1" y="7.1" width="380.3" height="462.5" fill="none" stroke="#111" stroke-width="2.3"/><path d="M592,469.6v-6" stroke="#111" stroke-width="1.6"/><path d="M634.2,469.6v-3" stroke="#111" stroke-width="1.6"/><path d="M676.4,469.6v-6" stroke="#111" stroke-width="1.6"/><path d="M718.6,469.6v-3" stroke="#111" stroke-width="1.6"/><path d="M760.8,469.6v-6" stroke="#111" stroke-width="1.6"/><path d="M803,469.6v-3" stroke="#111" stroke-width="1.6"/><path d="M845.2,469.6v-6" stroke="#111" stroke-width="1.6"/><path d="M887.4,469.6v-3" stroke="#111" stroke-width="1.6"/><text x="644.4" y="78.8" font-size="14" fill="#222">A<tspan font-size="9.8" dy="3.6">1</tspan></text><text x="694" y="80" font-size="14" fill="#222">A<tspan font-size="9.8" dy="3.6">2</tspan></text><text x="826.3" y="93.9" font-size="14" fill="#222">B</text><text x="605.3" y="172.4" font-size="14" fill="#222">P<tspan font-size="9.8" dy="3.6">2</tspan></text><text x="585.7" y="195.4" font-size="14" fill="#222">P<tspan font-size="9.8" dy="3.6">1</tspan></text><text transform="translate(541.9,228.6) rotate(-90)" font-size="17.7" fill="#111" text-anchor="middle">Absorption (arb. units)</text><path d="M732.6,398.8H766.5" stroke="#e01b22" stroke-width="2"/><path d="M732.6,421.2H766.5" stroke="#111" stroke-width="2"/><text x="770.4" y="404" font-size="15.2" fill="#dc1f26">Cu/N<tspan font-size="10.4" dy="4">0.14</tspan><tspan dy="-4">C -1.1V (Exp)</tspan></text><text x="771.4" y="426.6" font-size="15.1" fill="#111">Simulated XANES</text><text x="592" y="491.3" font-size="15.85" fill="#222" text-anchor="middle">8980</text><text x="676.4" y="491.3" font-size="15.85" fill="#222" text-anchor="middle">9000</text><text x="760.7" y="491.3" font-size="15.85" fill="#222" text-anchor="middle">9020</text><text x="845" y="491.3" font-size="15.85" fill="#222" text-anchor="middle">9040</text><text x="928.6" y="491.3" font-size="15.85" fill="#222" text-anchor="middle">9060</text><text x="753.5" y="510.2" font-size="17.9" fill="#111" text-anchor="middle">Energy(eV)</text></g><g id="pd"><text x="0" y="544.8" font-size="21.5" fill="#000" stroke="#000" stroke-width="0.9">d</text><rect x="39.4" y="531.8" width="396.8" height="460.8" fill="none" stroke="#2a2a2a" stroke-width="1.1"/><path d="M39.4,992.6V531.8H436.2" fill="none" stroke="#111" stroke-width="1.3"/><defs><linearGradient id="jetg" x1="0" y1="0" x2="0" y2="1"><stop offset="0" stop-color="#800000"/><stop offset=".125" stop-color="#ff0000"/><stop offset=".375" stop-color="#ffff00"/><stop offset=".625" stop-color="#00ffff"/><stop offset=".875" stop-color="#0000ff"/><stop offset="1" stop-color="#000080"/></linearGradient></defs><rect x="448.6" y="531.8" width="8.8" height="460.8" fill="url(#jetg)"/><path d="M457.4,563.2h-2.2" stroke="#222" stroke-width="0.8"/><path d="M457.4,624.4h-2.2" stroke="#222" stroke-width="0.8"/><path d="M457.4,685.6h-2.2" stroke="#222" stroke-width="0.8"/><path d="M457.4,746.8h-2.2" stroke="#222" stroke-width="0.8"/><path d="M457.4,808h-2.2" stroke="#222" stroke-width="0.8"/><path d="M457.4,869.2h-2.2" stroke="#222" stroke-width="0.8"/><path d="M457.4,930.4h-2.2" stroke="#222" stroke-width="0.8"/><text transform="translate(36.8,554.9) scale(0.82,1)" font-size="10.1" fill="#222" stroke="#222" stroke-width="0.3" text-anchor="end">-1.2</text><text transform="translate(36.8,594) scale(0.82,1)" font-size="10.1" fill="#222" stroke="#222" stroke-width="0.3" text-anchor="end">-1.1</text><text transform="translate(36.8,632.5) scale(0.82,1)" font-size="10.1" fill="#222" stroke="#222" stroke-width="0.3" text-anchor="end">-1</text><text transform="translate(36.8,671) scale(0.82,1)" font-size="10.1" fill="#222" stroke="#222" stroke-width="0.3" text-anchor="end">-0.9</text><text transform="translate(36.8,709.6) scale(0.82,1)" font-size="10.1" fill="#222" stroke="#222" stroke-width="0.3" text-anchor="end">-0.8</text><text transform="translate(36.8,748.1) scale(0.82,1)" font-size="10.1" fill="#222" stroke="#222" stroke-width="0.3" text-anchor="end">-0.7</text><text transform="translate(36.8,785.6) scale(0.82,1)" font-size="10.1" fill="#222" stroke="#222" stroke-width="0.3" text-anchor="end">-0.6</text><text transform="translate(36.8,823.7) scale(0.82,1)" font-size="10.1" fill="#222" stroke="#222" stroke-width="0.3" text-anchor="end">-0.5</text><text transform="translate(36.8,862.2) scale(0.82,1)" font-size="10.1" fill="#222" stroke="#222" stroke-width="0.3" text-anchor="end">-0.4</text><text transform="translate(36.8,900.2) scale(0.82,1)" font-size="10.1" fill="#222" stroke="#222" stroke-width="0.3" text-anchor="end">-0.3</text><text transform="translate(36.8,938.7) scale(0.82,1)" font-size="10.1" fill="#222" stroke="#222" stroke-width="0.3" text-anchor="end">-0.2</text><text transform="translate(39.4,1007.6) scale(0.79,1)" font-size="10.2" fill="#222" stroke="#222" stroke-width="0.3" text-anchor="middle">1300</text><text transform="translate(96,1007.6) scale(0.79,1)" font-size="10.2" fill="#222" stroke="#222" stroke-width="0.3" text-anchor="middle">1400</text><text transform="translate(152.7,1007.6) scale(0.79,1)" font-size="10.2" fill="#222" stroke="#222" stroke-width="0.3" text-anchor="middle">1500</text><text transform="translate(209.3,1007.6) scale(0.79,1)" font-size="10.2" fill="#222" stroke="#222" stroke-width="0.3" text-anchor="middle">1600</text><text transform="translate(265.9,1007.6) scale(0.79,1)" font-size="10.2" fill="#222" stroke="#222" stroke-width="0.3" text-anchor="middle">1700</text><text transform="translate(322.6,1007.6) scale(0.79,1)" font-size="10.2" fill="#222" stroke="#222" stroke-width="0.3" text-anchor="middle">1800</text><text transform="translate(379.2,1007.6) scale(0.79,1)" font-size="10.2" fill="#222" stroke="#222" stroke-width="0.3" text-anchor="middle">1900</text><text transform="translate(435.8,1007.6) scale(0.79,1)" font-size="10.2" fill="#222" stroke="#222" stroke-width="0.3" text-anchor="middle">2000</text><text transform="translate(17.7,761.7) rotate(-90) scale(1.22,1)" font-size="11.5" fill="#111" text-anchor="middle">Potential(V)</text><text transform="translate(179.4,1028.6) scale(0.74,1)" font-size="15.4" fill="#222" stroke="#222" stroke-width="0.35">Wavenumber</text><text transform="translate(261.5,1028.2) scale(0.74,1)" font-size="15.4" fill="#222" stroke="#222" stroke-width="0.3"><tspan font-weight="normal">(</tspan><tspan dx="4">cm</tspan><tspan font-size="9.6" dy="-6">-1</tspan><tspan dy="6">)</tspan></text></g><g id="pe"><defs>
<radialGradient id="gGray" cx="0.45" cy="0.42" r="0.6"><stop offset="0" stop-color="#ffffff"/><stop offset="0.12" stop-color="#fbfbfb"/><stop offset="0.36" stop-color="#d2d2d2"/><stop offset="0.7" stop-color="#a8a8a8"/><stop offset="1" stop-color="#7a7a7a"/></radialGradient>
<radialGradient id="gPur" cx="0.42" cy="0.40" r="0.62"><stop offset="0" stop-color="#f6d8ff"/><stop offset="0.3" stop-color="#a840f0"/><stop offset="0.75" stop-color="#7a14d0"/><stop offset="1" stop-color="#5a0ca8"/></radialGradient>
<radialGradient id="gCy" cx="0.45" cy="0.42" r="0.62"><stop offset="0" stop-color="#5af4f4"/><stop offset="0.55" stop-color="#3ce2e4"/><stop offset="0.9" stop-color="#2cd0d4"/><stop offset="1" stop-color="#26c4c8"/></radialGradient>
<radialGradient id="gCyS" cx="0.45" cy="0.42" r="0.6"><stop offset="0" stop-color="#6cf0f0"/><stop offset="0.6" stop-color="#40dede"/><stop offset="1" stop-color="#2cc4c8"/></radialGradient>
<radialGradient id="gCyB" cx="0.5" cy="0.5" r="0.55"><stop offset="0" stop-color="#3a78e8"/><stop offset="0.45" stop-color="#38b8e8"/><stop offset="0.8" stop-color="#48e2e2"/><stop offset="1" stop-color="#30c8cc"/></radialGradient>
<radialGradient id="gYe" cx="0.45" cy="0.42" r="0.6"><stop offset="0" stop-color="#f8f050"/><stop offset="0.6" stop-color="#ece432"/><stop offset="1" stop-color="#d4cc24"/></radialGradient>
<radialGradient id="gYeO" cx="0.5" cy="0.5" r="0.55"><stop offset="0" stop-color="#9a9a48"/><stop offset="0.45" stop-color="#b4b040"/><stop offset="0.8" stop-color="#e6de34"/><stop offset="1" stop-color="#d8d028"/></radialGradient>
<radialGradient id="gOr" cx="0.45" cy="0.42" r="0.6"><stop offset="0" stop-color="#ffb840"/><stop offset="1" stop-color="#ff9210"/></radialGradient>
<radialGradient id="gMol" cx="0.42" cy="0.40" r="0.62"><stop offset="0" stop-color="#c8fcfc"/><stop offset="0.5" stop-color="#98f0f0"/><stop offset="1" stop-color="#62dcde"/></radialGradient>
<filter id="b06" x="-10%" y="-10%" width="120%" height="120%"><feGaussianBlur stdDeviation="0.6"/></filter>
<filter id="b1" x="-10%" y="-10%" width="120%" height="120%"><feGaussianBlur stdDeviation="1.0"/></filter>
</defs><clipPath id="clipE"><rect x="576.5" y="520" width="300" height="260"/></clipPath><text transform="translate(511,544.6) scale(1.1,1)" font-size="21.5" fill="#000" stroke="#000" stroke-width="0.8">e</text><g filter="url(#b06)" clip-path="url(#clipE)"><path d="M592,707 L628,703 L660,703.5 M600,711 L640,705" stroke="#b8b8b8" stroke-width="1.6" fill="none"/><path d="M731,738L751.7,733.1M772.4,728.3L751.7,733.1M736.9,730.8L757.6,725.8M778.3,720.7L757.6,725.8M749.6,719L769,714.4M788.4,709.7L769,714.4M837.4,724.1L819.6,726.6M812.1,719L828.2,719M844.2,719L828.2,719M706.8,731.7L721.8,731.2M736.9,730.8L721.8,731.2M695.9,742.6L713.5,740.3M731,738L713.5,740.3M713.6,723.2L731.6,721.1M749.6,719L731.6,721.1M819.7,711.4L837,710.5M854.3,709.7L837,710.5M788.4,709.7L804,710.5M819.7,711.4L804,710.5M829,702.9L844.6,702.5M860.2,702.1L844.6,702.5M780.8,697L793.5,697.5M806.2,697.9L793.5,697.5M752,701L766.4,699M780.8,697L766.4,699M735,708L743.5,704.5M752,701L743.5,704.5M593.7,731.7L605.9,733.4M618.1,735L605.9,733.4M593.7,731.7L597,727.9M600.4,724.1L597,727.9M593.7,731.7L608.9,729.2M624,726.6L608.9,729.2M618.1,735L630.4,737.1M642.6,739.3L630.4,737.1M618.1,735L621,730.8M624,726.6L621,730.8M618.1,735L632.9,732.9M647.7,730.8L632.9,732.9M642.6,739.3L654.5,741M666.3,742.6L654.5,741M642.6,739.3L645.2,735M647.7,730.8L645.2,735M642.6,739.3L658.7,737.1M666.3,742.6L681.1,742.6M695.9,742.6L681.1,742.6M666.3,742.6L670.5,738.8M695.9,742.6L685.3,738.8M731,738L718.9,734.9M706.8,731.7L718.9,734.9M731,738L734,734.4M736.9,730.8L734,734.4M586.9,714.8L593.6,719.5M600.4,724.1L593.6,719.5M586.9,714.8L598.7,716M610.5,717.3L598.7,716M586.9,714.8L603,713.1M619,711.4L603,713.1M586.9,714.8L583.5,717.8M600.4,724.1L605.5,720.7M610.5,717.3L605.5,720.7M600.4,724.1L612.2,725.4M624,726.6L612.2,725.4M600.4,724.1L590.2,722.4M610.5,717.3L617.2,722M624,726.6L617.2,722M610.5,717.3L623.2,717.7M635.9,718.1L623.2,717.7M610.5,717.3L614.8,714.3M619,711.4L614.8,714.3M610.5,717.3L595.3,719M624,726.6L630,722.4M635.9,718.1L630,722.4M624,726.6L635.9,728.7M647.7,730.8L635.9,728.7M635.9,718.1L646.9,718.5M657.9,719L646.9,718.5M635.9,718.1L627.5,714.8M619,711.4L627.5,714.8M647.7,730.8L661.2,732.9M657.9,719L669.7,721.1M681.5,723.2L669.7,721.1M657.9,719L661.2,714.8M664.6,710.5L661.2,714.8M657.9,719L671.4,716M681.5,723.2L697.5,723.2M713.6,723.2L697.5,723.2M681.5,723.2L696.7,722M711.9,720.7L696.7,722M681.5,723.2L683.2,718.2M706.8,731.7L710.2,727.5M713.6,723.2L710.2,727.5M706.8,731.7L721.8,731.2M736.9,730.8L721.8,731.2M706.8,731.7L690.8,733.4M713.6,723.2L712.8,722M711.9,720.7L712.8,722M713.6,723.2L725.2,727M736.9,730.8L725.2,727M619,711.4L634.6,709.7M650.2,708L634.6,709.7M650.2,708L657.4,709.2M664.6,710.5L657.4,709.2M650.2,708L654.9,705.5M664.6,710.5L662,706.8M664.6,710.5L674.8,711.8M701.8,708.9L718.4,708.5M735,708L718.4,708.5M701.8,708.9L693.3,711M698.4,695.3L711.2,697.6M724,700L711.2,697.6M749.6,719L764,719.9M778.3,720.7L764,719.9M772.4,728.3L775.3,724.5M778.3,720.7L775.3,724.5M772.4,728.3L787.1,728.7M778.3,720.7L795.2,719.9M812.1,719L795.2,719.9M788.4,709.7L804,710.5M819.7,711.4L804,710.5M766.5,689.4L773.6,693.2M780.8,697L773.6,693.2M766.5,689.4L778.3,691.1M780.8,697L793.5,697.5M806.2,697.9L793.5,697.5M780.8,697L796.5,695.8M812.1,694.5L796.5,695.8M780.8,697L766.4,699M752,701L766.4,699M780.8,697L785.5,694.9M806.2,697.9L809.2,696.2M812.1,694.5L809.2,696.2M806.2,697.9L817.6,700.4M829,702.9L817.6,700.4M806.2,697.9L798.2,695.3M806.2,697.9L821.4,697.9M812.1,694.5L820.5,698.7M829,702.9L820.5,698.7M812.1,694.5L801.1,693.6M812.1,694.5L824.4,696.2M812.1,719L815.9,715.2M819.7,711.4L815.9,715.2M812.1,719L824.8,721.5M837.4,724.1L824.8,721.5M812.1,719L828.2,719M844.2,719L828.2,719M812.1,719L807,724M819.7,711.4L824.4,707.1M829,702.9L824.4,707.1M819.7,711.4L832,715.2M844.2,719L832,715.2M819.7,711.4L837,710.5M854.3,709.7L837,710.5M829,702.9L841.6,706.3M854.3,709.7L841.6,706.3M829,702.9L844.6,702.5M860.2,702.1L844.6,702.5M829,702.9L832.8,700.4M837.4,724.1L840.8,721.5M844.2,719L840.8,721.5M844.2,719L849.2,714.4M854.3,709.7L849.2,714.4M854.3,709.7L857.2,705.9M860.2,702.1L857.2,705.9M860.2,702.1L848.4,700M735,708L743.5,704.5M752,701L743.5,704.5M735,708L729.5,704M724,700L729.5,704M752,701L738,700.5M724,700L738,700.5" stroke="#989898" stroke-width="3.9" stroke-linecap="round" fill="none"/><path d="M731,738L751.7,733.1M772.4,728.3L751.7,733.1M736.9,730.8L757.6,725.8M778.3,720.7L757.6,725.8M749.6,719L769,714.4M788.4,709.7L769,714.4M837.4,724.1L819.6,726.6M812.1,719L828.2,719M844.2,719L828.2,719M706.8,731.7L721.8,731.2M736.9,730.8L721.8,731.2M695.9,742.6L713.5,740.3M731,738L713.5,740.3M713.6,723.2L731.6,721.1M749.6,719L731.6,721.1M819.7,711.4L837,710.5M854.3,709.7L837,710.5M788.4,709.7L804,710.5M819.7,711.4L804,710.5M829,702.9L844.6,702.5M860.2,702.1L844.6,702.5M780.8,697L793.5,697.5M806.2,697.9L793.5,697.5M752,701L766.4,699M780.8,697L766.4,699M735,708L743.5,704.5M752,701L743.5,704.5M593.7,731.7L605.9,733.4M618.1,735L605.9,733.4M593.7,731.7L597,727.9M600.4,724.1L597,727.9M593.7,731.7L608.9,729.2M624,726.6L608.9,729.2M618.1,735L630.4,737.1M642.6,739.3L630.4,737.1M618.1,735L621,730.8M624,726.6L621,730.8M618.1,735L632.9,732.9M647.7,730.8L632.9,732.9M642.6,739.3L654.5,741M666.3,742.6L654.5,741M642.6,739.3L645.2,735M647.7,730.8L645.2,735M642.6,739.3L658.7,737.1M666.3,742.6L681.1,742.6M695.9,742.6L681.1,742.6M666.3,742.6L670.5,738.8M695.9,742.6L685.3,738.8M731,738L718.9,734.9M706.8,731.7L718.9,734.9M731,738L734,734.4M736.9,730.8L734,734.4M586.9,714.8L593.6,719.5M600.4,724.1L593.6,719.5M586.9,714.8L598.7,716M610.5,717.3L598.7,716M586.9,714.8L603,713.1M619,711.4L603,713.1M586.9,714.8L583.5,717.8M600.4,724.1L605.5,720.7M610.5,717.3L605.5,720.7M600.4,724.1L612.2,725.4M624,726.6L612.2,725.4M600.4,724.1L590.2,722.4M610.5,717.3L617.2,722M624,726.6L617.2,722M610.5,717.3L623.2,717.7M635.9,718.1L623.2,717.7M610.5,717.3L614.8,714.3M619,711.4L614.8,714.3M610.5,717.3L595.3,719M624,726.6L630,722.4M635.9,718.1L630,722.4M624,726.6L635.9,728.7M647.7,730.8L635.9,728.7M635.9,718.1L646.9,718.5M657.9,719L646.9,718.5M635.9,718.1L627.5,714.8M619,711.4L627.5,714.8M647.7,730.8L661.2,732.9M657.9,719L669.7,721.1M681.5,723.2L669.7,721.1M657.9,719L661.2,714.8M664.6,710.5L661.2,714.8M657.9,719L671.4,716M681.5,723.2L697.5,723.2M713.6,723.2L697.5,723.2M681.5,723.2L696.7,722M711.9,720.7L696.7,722M681.5,723.2L683.2,718.2M706.8,731.7L710.2,727.5M713.6,723.2L710.2,727.5M706.8,731.7L721.8,731.2M736.9,730.8L721.8,731.2M706.8,731.7L690.8,733.4M713.6,723.2L712.8,722M711.9,720.7L712.8,722M713.6,723.2L725.2,727M736.9,730.8L725.2,727M619,711.4L634.6,709.7M650.2,708L634.6,709.7M650.2,708L657.4,709.2M664.6,710.5L657.4,709.2M650.2,708L654.9,705.5M664.6,710.5L662,706.8M664.6,710.5L674.8,711.8M701.8,708.9L718.4,708.5M735,708L718.4,708.5M701.8,708.9L693.3,711M698.4,695.3L711.2,697.6M724,700L711.2,697.6M749.6,719L764,719.9M778.3,720.7L764,719.9M772.4,728.3L775.3,724.5M778.3,720.7L775.3,724.5M772.4,728.3L787.1,728.7M778.3,720.7L795.2,719.9M812.1,719L795.2,719.9M788.4,709.7L804,710.5M819.7,711.4L804,710.5M766.5,689.4L773.6,693.2M780.8,697L773.6,693.2M766.5,689.4L778.3,691.1M780.8,697L793.5,697.5M806.2,697.9L793.5,697.5M780.8,697L796.5,695.8M812.1,694.5L796.5,695.8M780.8,697L766.4,699M752,701L766.4,699M780.8,697L785.5,694.9M806.2,697.9L809.2,696.2M812.1,694.5L809.2,696.2M806.2,697.9L817.6,700.4M829,702.9L817.6,700.4M806.2,697.9L798.2,695.3M806.2,697.9L821.4,697.9M812.1,694.5L820.5,698.7M829,702.9L820.5,698.7M812.1,694.5L801.1,693.6M812.1,694.5L824.4,696.2M812.1,719L815.9,715.2M819.7,711.4L815.9,715.2M812.1,719L824.8,721.5M837.4,724.1L824.8,721.5M812.1,719L828.2,719M844.2,719L828.2,719M812.1,719L807,724M819.7,711.4L824.4,707.1M829,702.9L824.4,707.1M819.7,711.4L832,715.2M844.2,719L832,715.2M819.7,711.4L837,710.5M854.3,709.7L837,710.5M829,702.9L841.6,706.3M854.3,709.7L841.6,706.3M829,702.9L844.6,702.5M860.2,702.1L844.6,702.5M829,702.9L832.8,700.4M837.4,724.1L840.8,721.5M844.2,719L840.8,721.5M844.2,719L849.2,714.4M854.3,709.7L849.2,714.4M854.3,709.7L857.2,705.9M860.2,702.1L857.2,705.9M860.2,702.1L848.4,700M735,708L743.5,704.5M752,701L743.5,704.5M735,708L729.5,704M724,700L729.5,704M752,701L738,700.5M724,700L738,700.5" stroke="#c4c4c4" stroke-width="1.8" stroke-linecap="round" fill="none" transform="translate(0,-0.4)"/><path d="M801.9,729.1L819.6,726.6M674.7,735L658.7,737.1M674.7,735L670.5,738.8M674.7,735L685.3,738.8M580.1,720.7L583.5,717.8M580.1,720.7L590.2,722.4M580.1,720.7L595.3,719M674.7,735L661.2,732.9M684.9,713.1L671.4,716M684.9,713.1L683.2,718.2M674.7,735L690.8,733.4M659.5,703L654.9,705.5M659.5,703L662,706.8M684.9,713.1L674.8,711.8M684.9,713.1L693.3,711M801.9,729.1L787.1,728.7M790.1,692.8L778.3,691.1M790.1,692.8L785.5,694.9M790.1,692.8L798.2,695.3M836.6,697.9L821.4,697.9M790.1,692.8L801.1,693.6M836.6,697.9L824.4,696.2M801.9,729.1L807,724M836.6,697.9L832.8,700.4M836.6,697.9L848.4,700" stroke="#6a10c0" stroke-width="3.9" stroke-linecap="butt" fill="none"/><path d="M801.9,729.1L819.6,726.6M674.7,735L658.7,737.1M674.7,735L670.5,738.8M674.7,735L685.3,738.8M580.1,720.7L583.5,717.8M580.1,720.7L590.2,722.4M580.1,720.7L595.3,719M674.7,735L661.2,732.9M684.9,713.1L671.4,716M684.9,713.1L683.2,718.2M674.7,735L690.8,733.4M659.5,703L654.9,705.5M659.5,703L662,706.8M684.9,713.1L674.8,711.8M684.9,713.1L693.3,711M801.9,729.1L787.1,728.7M790.1,692.8L778.3,691.1M790.1,692.8L785.5,694.9M790.1,692.8L798.2,695.3M836.6,697.9L821.4,697.9M790.1,692.8L801.1,693.6M836.6,697.9L824.4,696.2M801.9,729.1L807,724M836.6,697.9L832.8,700.4M836.6,697.9L848.4,700" stroke="#8c24e6" stroke-width="1.8" stroke-linecap="butt" fill="none" transform="translate(0,-0.4)"/><circle cx="766.5" cy="689.4" r="6.1" fill="url(#gGray)"/><circle cx="790.1" cy="692.8" r="6.3" fill="url(#gPur)"/><circle cx="812.1" cy="694.5" r="6.2" fill="url(#gGray)"/><circle cx="698.4" cy="695.3" r="6.2" fill="url(#gGray)"/><circle cx="780.8" cy="697" r="6.3" fill="url(#gGray)"/><circle cx="806.2" cy="697.9" r="6.3" fill="url(#gGray)"/><circle cx="836.6" cy="697.9" r="6.4" fill="url(#gPur)"/><circle cx="724" cy="700" r="6.3" fill="url(#gGray)"/><circle cx="752" cy="701" r="6.4" fill="url(#gGray)"/><circle cx="860.2" cy="702.1" r="6.4" fill="url(#gGray)"/><circle cx="829" cy="702.9" r="6.4" fill="url(#gGray)"/><circle cx="659.5" cy="703" r="6.5" fill="url(#gPur)"/><circle cx="650.2" cy="708" r="6.5" fill="url(#gGray)"/><circle cx="735" cy="708" r="6.5" fill="url(#gGray)"/><circle cx="701.8" cy="708.9" r="6.5" fill="url(#gGray)"/><circle cx="788.4" cy="709.7" r="6.6" fill="url(#gGray)"/><circle cx="854.3" cy="709.7" r="6.6" fill="url(#gGray)"/><circle cx="664.6" cy="710.5" r="6.6" fill="url(#gGray)"/><circle cx="619" cy="711.4" r="6.6" fill="url(#gGray)"/><circle cx="819.7" cy="711.4" r="6.6" fill="url(#gGray)"/><circle cx="684.9" cy="713.1" r="6.8" fill="url(#gPur)"/><circle cx="586.9" cy="714.8" r="6.7" fill="url(#gGray)"/><circle cx="610.5" cy="717.3" r="6.7" fill="url(#gGray)"/><circle cx="635.9" cy="718.1" r="6.8" fill="url(#gGray)"/><circle cx="657.9" cy="719" r="6.8" fill="url(#gGray)"/><circle cx="749.6" cy="719" r="6.8" fill="url(#gGray)"/><circle cx="812.1" cy="719" r="6.8" fill="url(#gGray)"/><circle cx="844.2" cy="719" r="6.8" fill="url(#gGray)"/><circle cx="711.9" cy="720.7" r="6.8" fill="url(#gGray)"/><circle cx="778.3" cy="720.7" r="6.8" fill="url(#gGray)"/><circle cx="580.1" cy="720.7" r="7" fill="url(#gPur)"/><circle cx="681.5" cy="723.2" r="6.9" fill="url(#gGray)"/><circle cx="713.6" cy="723.2" r="6.9" fill="url(#gGray)"/><circle cx="600.4" cy="724.1" r="6.9" fill="url(#gGray)"/><circle cx="837.4" cy="724.1" r="6.9" fill="url(#gGray)"/><circle cx="624" cy="726.6" r="7" fill="url(#gGray)"/><circle cx="772.4" cy="728.3" r="7" fill="url(#gGray)"/><circle cx="801.9" cy="729.1" r="7.2" fill="url(#gPur)"/><circle cx="647.7" cy="730.8" r="7.1" fill="url(#gGray)"/><circle cx="736.9" cy="730.8" r="7.1" fill="url(#gGray)"/><circle cx="593.7" cy="731.7" r="7.1" fill="url(#gGray)"/><circle cx="706.8" cy="731.7" r="7.1" fill="url(#gGray)"/><circle cx="618.1" cy="735" r="7.2" fill="url(#gGray)"/><circle cx="674.7" cy="735" r="7.3" fill="url(#gPur)"/><circle cx="731" cy="738" r="7.2" fill="url(#gGray)"/><circle cx="642.6" cy="739.3" r="7.3" fill="url(#gGray)"/><circle cx="666.3" cy="742.6" r="7.3" fill="url(#gGray)"/><circle cx="695.9" cy="742.6" r="7.3" fill="url(#gGray)"/><path d="M860.2,706L877,710.5M854.3,713.5L877,719" stroke="#a6a6a6" stroke-width="3.2" fill="none"/><path d="M866,708.8L877,710.5" stroke="#6a10c0" stroke-width="3.4"/><circle cx="801.1" cy="719.8" r="3.9" fill="url(#gOr)"/><circle cx="802.8" cy="739.3" r="3.9" fill="url(#gOr)"/><circle cx="801.9" cy="729.1" r="6.3" fill="url(#gPur)"/><circle cx="586.5" cy="703.7" r="4" fill="url(#gYe)"/><circle cx="576.5" cy="713" r="3" fill="url(#gYe)"/><circle cx="576.5" cy="734" r="3.5" fill="url(#gYe)"/><circle cx="656.5" cy="694.5" r="4.2" fill="url(#gYe)"/><circle cx="656" cy="706.5" r="4" fill="url(#gYe)"/><circle cx="812.9" cy="708.9" r="3.6" fill="url(#gYe)"/><circle cx="716" cy="731" r="3" fill="url(#gYe)"/><circle cx="657" cy="693" r="3.2" fill="url(#gOr)"/><path d="M720,670L689,711" stroke="#6a10c0" stroke-width="4.2" stroke-linecap="round"/><path d="M720,670L705,690" stroke="#3858d8" stroke-width="4.2" stroke-linecap="round"/><path d="M726,676L745,704" stroke="#6a10c0" stroke-width="4" stroke-linecap="round"/><path d="M726,676L736,691" stroke="#3858d8" stroke-width="4" stroke-linecap="round"/><path d="M726.5,688L726.5,699" stroke="#7a14d0" stroke-width="3.4" stroke-linecap="round"/><circle cx="689" cy="712.5" r="5.6" fill="url(#gPur)"/><ellipse cx="682" cy="701" rx="8.5" ry="9.5" transform="rotate(0 682 701)" fill="url(#gYe)" fill-opacity="1"/><ellipse cx="753.4" cy="696.5" rx="13" ry="13" transform="rotate(0 753.4 696.5)" fill="url(#gYe)" fill-opacity="1"/><ellipse cx="733" cy="716" rx="9" ry="6" transform="rotate(10 733 716)" fill="url(#gYe)" fill-opacity="1"/><ellipse cx="728.5" cy="705.5" rx="9.5" ry="8.5" transform="rotate(0 728.5 705.5)" fill="url(#gCyB)" fill-opacity="1"/><ellipse cx="745" cy="711" rx="6.5" ry="6" transform="rotate(0 745 711)" fill="url(#gCyS)" fill-opacity="1"/><ellipse cx="696.5" cy="714.5" rx="6.5" ry="6.5" transform="rotate(0 696.5 714.5)" fill="url(#gCyS)" fill-opacity="1"/><circle cx="763" cy="713" r="2.2" fill="url(#gCyS)"/><circle cx="768" cy="716" r="2" fill="url(#gCyS)"/><circle cx="781" cy="714" r="2" fill="url(#gCyS)"/><circle cx="760" cy="722" r="2.2" fill="url(#gCyS)"/><circle cx="695.9" cy="742.6" r="7.3" fill="url(#gGray)"/><circle cx="731" cy="738" r="7.2" fill="url(#gGray)"/><circle cx="706.8" cy="731.7" r="7.1" fill="url(#gGray)"/><circle cx="713.6" cy="723.2" r="6.9" fill="url(#gGray)"/><circle cx="711.9" cy="720.7" r="6.8" fill="url(#gGray)"/><circle cx="736.9" cy="730.8" r="7.1" fill="url(#gGray)"/><circle cx="749.6" cy="719" r="6.8" fill="url(#gGray)"/><circle cx="772.4" cy="728.3" r="7" fill="url(#gGray)"/><circle cx="778.3" cy="720.7" r="6.8" fill="url(#gGray)"/><clipPath id="cb1"><path d="M702.7,589.1C702.6,584.2 702,579.1 700.5,574.4C699,569.7 696.6,565.2 693.8,561C691,556.8 687.2,552.3 683.5,549.2C679.8,546.1 676.1,544.2 671.7,542.6C667.3,541 661.6,539.9 656.9,539.6C652.2,539.3 648.3,540.4 643.6,541C638.9,541.6 634,541.9 628.8,543.3C623.6,544.7 617.4,546.5 612.5,549.2C607.6,551.9 602.7,555.7 599.2,559.6C595.8,563.5 593.3,568 591.8,572.9C590.3,577.8 589.9,583 590.1,589.1C590.4,595.2 591.8,603.4 593.3,609.8C594.8,616.2 596.5,621.9 599.2,627.6C601.9,633.3 605.4,639.4 609.6,643.8C613.8,648.2 619.5,651.9 624.4,654.2C629.3,656.5 634.2,657.1 639.1,657.4C644,657.6 648.5,657 653.9,655.7C659.3,654.4 666.8,652 671.7,649.8C676.6,647.6 680,645.4 683.5,642.4C687,639.4 690.2,636 692.4,632C694.6,628 695.3,623.4 696.8,618.7C698.3,614 700.2,608.8 701.2,603.9C702.2,599 702.8,594 702.7,589.1Z"/></clipPath><path d="M702.7,589.1C702.6,584.2 702,579.1 700.5,574.4C699,569.7 696.6,565.2 693.8,561C691,556.8 687.2,552.3 683.5,549.2C679.8,546.1 676.1,544.2 671.7,542.6C667.3,541 661.6,539.9 656.9,539.6C652.2,539.3 648.3,540.4 643.6,541C638.9,541.6 634,541.9 628.8,543.3C623.6,544.7 617.4,546.5 612.5,549.2C607.6,551.9 602.7,555.7 599.2,559.6C595.8,563.5 593.3,568 591.8,572.9C590.3,577.8 589.9,583 590.1,589.1C590.4,595.2 591.8,603.4 593.3,609.8C594.8,616.2 596.5,621.9 599.2,627.6C601.9,633.3 605.4,639.4 609.6,643.8C613.8,648.2 619.5,651.9 624.4,654.2C629.3,656.5 634.2,657.1 639.1,657.4C644,657.6 648.5,657 653.9,655.7C659.3,654.4 666.8,652 671.7,649.8C676.6,647.6 680,645.4 683.5,642.4C687,639.4 690.2,636 692.4,632C694.6,628 695.3,623.4 696.8,618.7C698.3,614 700.2,608.8 701.2,603.9C702.2,599 702.8,594 702.7,589.1Z" fill="url(#gCy)"/><g clip-path="url(#cb1)"><path d="M702.7,589.1C702.6,584.2 702,579.1 700.5,574.4C699,569.7 696.6,565.2 693.8,561C691,556.8 687.2,552.3 683.5,549.2C679.8,546.1 676.1,544.2 671.7,542.6C667.3,541 661.6,539.9 656.9,539.6C652.2,539.3 648.3,540.4 643.6,541C638.9,541.6 634,541.9 628.8,543.3C623.6,544.7 617.4,546.5 612.5,549.2C607.6,551.9 602.7,555.7 599.2,559.6C595.8,563.5 593.3,568 591.8,572.9C590.3,577.8 589.9,583 590.1,589.1C590.4,595.2 591.8,603.4 593.3,609.8C594.8,616.2 596.5,621.9 599.2,627.6C601.9,633.3 605.4,639.4 609.6,643.8C613.8,648.2 619.5,651.9 624.4,654.2C629.3,656.5 634.2,657.1 639.1,657.4C644,657.6 648.5,657 653.9,655.7C659.3,654.4 666.8,652 671.7,649.8C676.6,647.6 680,645.4 683.5,642.4C687,639.4 690.2,636 692.4,632C694.6,628 695.3,623.4 696.8,618.7C698.3,614 700.2,608.8 701.2,603.9C702.2,599 702.8,594 702.7,589.1Z" fill="none" stroke="#0f969c" stroke-width="7" stroke-opacity="0.75" style="filter:blur(2.6px)"/></g><path d="M649.8,597.3L629.6,584.6" stroke="#84e8ea" stroke-width="3.1" stroke-linecap="round"/><path d="M649.8,597.3L660,577" stroke="#84e8ea" stroke-width="3.1" stroke-linecap="round"/><path d="M649.8,597.3L637.2,620.1" stroke="#84e8ea" stroke-width="3.1" stroke-linecap="round"/><path d="M649.8,597.3L676,608" stroke="#84e8ea" stroke-width="3.2" stroke-linecap="round"/><path d="M664.5,604.6L675,608.6" stroke="#1e9ae0" stroke-width="3.2" stroke-linecap="round"/><circle cx="629.6" cy="584.6" r="4.5" fill="url(#gMol)"/><circle cx="660" cy="577" r="4.5" fill="url(#gMol)"/><circle cx="637.2" cy="620.1" r="4.5" fill="url(#gMol)"/><circle cx="649.8" cy="597.3" r="7" fill="url(#gMol)"/><ellipse cx="683.5" cy="612.5" rx="10.5" ry="13" transform="rotate(0 683.5 612.5)" fill="url(#gCyB)" fill-opacity="1"/><ellipse cx="684" cy="599" rx="7" ry="5" transform="rotate(-10 684 599)" fill="url(#gYe)" fill-opacity="0.9"/><ellipse cx="690" cy="628" rx="8" ry="5.5" transform="rotate(20 690 628)" fill="url(#gYe)" fill-opacity="0.9"/><clipPath id="cb2"><path d="M712,603C714.7,600.2 718.5,598.6 722,597.5C725.5,596.4 729.8,595.6 733,596.5C736.2,597.4 738.5,600.5 741,603C743.5,605.5 745.5,610.2 748,611.5C750.5,612.8 753.2,610.8 756,611C758.8,611.2 762.4,611.2 765,612.5C767.6,613.8 770.2,616.2 771.5,619C772.8,621.8 773.2,625.5 773,629C772.8,632.5 771.8,636.8 770,640C768.2,643.2 765.3,646 762,648C758.7,650 754,651.4 750,652C746,652.6 741.7,652.2 738,651.5C734.3,650.8 730.6,648.2 728,648C725.4,647.8 723.5,648 722.5,650C721.5,652 721.8,656.7 722,660C722.2,663.3 724.5,667.2 724,670C723.5,672.8 721.5,676 719,677C716.5,678 711.7,677.5 709,676C706.3,674.5 704.2,671.3 703,668C701.8,664.7 701.7,660.3 701.5,656C701.3,651.7 701.6,646.7 702,642C702.4,637.3 703.3,632.7 704,628C704.7,623.3 704.7,618.2 706,614C707.3,609.8 709.3,605.8 712,603Z"/></clipPath><path d="M712,603C714.7,600.2 718.5,598.6 722,597.5C725.5,596.4 729.8,595.6 733,596.5C736.2,597.4 738.5,600.5 741,603C743.5,605.5 745.5,610.2 748,611.5C750.5,612.8 753.2,610.8 756,611C758.8,611.2 762.4,611.2 765,612.5C767.6,613.8 770.2,616.2 771.5,619C772.8,621.8 773.2,625.5 773,629C772.8,632.5 771.8,636.8 770,640C768.2,643.2 765.3,646 762,648C758.7,650 754,651.4 750,652C746,652.6 741.7,652.2 738,651.5C734.3,650.8 730.6,648.2 728,648C725.4,647.8 723.5,648 722.5,650C721.5,652 721.8,656.7 722,660C722.2,663.3 724.5,667.2 724,670C723.5,672.8 721.5,676 719,677C716.5,678 711.7,677.5 709,676C706.3,674.5 704.2,671.3 703,668C701.8,664.7 701.7,660.3 701.5,656C701.3,651.7 701.6,646.7 702,642C702.4,637.3 703.3,632.7 704,628C704.7,623.3 704.7,618.2 706,614C707.3,609.8 709.3,605.8 712,603Z" fill="url(#gCy)"/><g clip-path="url(#cb2)"><path d="M712,603C714.7,600.2 718.5,598.6 722,597.5C725.5,596.4 729.8,595.6 733,596.5C736.2,597.4 738.5,600.5 741,603C743.5,605.5 745.5,610.2 748,611.5C750.5,612.8 753.2,610.8 756,611C758.8,611.2 762.4,611.2 765,612.5C767.6,613.8 770.2,616.2 771.5,619C772.8,621.8 773.2,625.5 773,629C772.8,632.5 771.8,636.8 770,640C768.2,643.2 765.3,646 762,648C758.7,650 754,651.4 750,652C746,652.6 741.7,652.2 738,651.5C734.3,650.8 730.6,648.2 728,648C725.4,647.8 723.5,648 722.5,650C721.5,652 721.8,656.7 722,660C722.2,663.3 724.5,667.2 724,670C723.5,672.8 721.5,676 719,677C716.5,678 711.7,677.5 709,676C706.3,674.5 704.2,671.3 703,668C701.8,664.7 701.7,660.3 701.5,656C701.3,651.7 701.6,646.7 702,642C702.4,637.3 703.3,632.7 704,628C704.7,623.3 704.7,618.2 706,614C707.3,609.8 709.3,605.8 712,603Z" fill="none" stroke="#0f969c" stroke-width="5" stroke-opacity="0.6" style="filter:blur(2px)"/></g><ellipse cx="701.5" cy="618.5" rx="11.8" ry="20" transform="rotate(8 701.5 618.5)" fill="url(#gYeO)" fill-opacity="1"/><ellipse cx="736.5" cy="606" rx="10" ry="11.5" transform="rotate(0 736.5 606)" fill="url(#gYeO)" fill-opacity="1"/><ellipse cx="750.5" cy="610" rx="5.8" ry="5.5" transform="rotate(0 750.5 610)" fill="url(#gYe)" fill-opacity="1"/><path d="M726,614L742,620" stroke="#2a6ae0" stroke-width="2.6" stroke-linecap="round"/><ellipse cx="734" cy="622" rx="10" ry="6" transform="rotate(20 734 622)" fill="url(#gCyB)" fill-opacity="0.8"/><ellipse cx="719.5" cy="668.5" rx="19" ry="14.5" transform="rotate(-15 719.5 668.5)" fill="url(#gYeO)" fill-opacity="1"/><ellipse cx="727" cy="682.5" rx="17" ry="7.5" transform="rotate(-8 727 682.5)" fill="url(#gCyB)" fill-opacity="1"/><ellipse cx="727" cy="660" rx="4" ry="4" transform="rotate(0 727 660)" fill="url(#gCyS)" fill-opacity="1"/><path d="M722,667L729,660" stroke="#3858d8" stroke-width="2.6" stroke-linecap="round"/><ellipse cx="722" cy="690" rx="6" ry="8" transform="rotate(0 722 690)" fill="url(#gYe)" fill-opacity="0.95"/></g></g><g id="pf"><text transform="translate(510.3,809) scale(1.1,1)" font-size="21.5" fill="#000" stroke="#000" stroke-width="0.8">f</text><g filter="url(#b06)"><path d="M596,971.4L613.4,969.7M600.3,978.1L619.3,976.9M638.3,975.6L619.3,976.9M605.3,984.1L623.9,984.1M642.5,984.1L623.9,984.1M609.6,990L626,987M642.5,984.1L626,987M612.9,999.3L632.8,999.3M652.6,999.3L632.8,999.3M616.3,1004.3L634.5,1001.8M652.6,999.3L634.5,1001.8M620.5,1009.4L640,1009.4M624.8,1012.8L642.1,1011.1M609.6,990L628.2,990M646.7,990L628.2,990M661.9,960.4L646.3,964.2M638.3,975.6L652.2,969.7M666.2,963.8L652.2,969.7M642.5,984.1L659.8,978.6M677.1,973.1L659.8,978.6M646.7,990L664,988.7M681.4,987.4L664,988.7M652.6,999.3L669.1,995.5M685.6,991.7L669.1,995.5M692.4,1003.5L675.9,1006.5M666.2,963.8L648.5,965.9M688.1,999.3L673.8,1004.3M661.9,960.4L680.1,960.4M698.3,960.4L680.1,960.4M666.2,963.8L687.7,964.2M677.1,973.1L695.3,974M713.5,974.8L695.3,974M681.4,987.4L700.8,987M685.6,991.7L704.6,991.7M723.6,991.7L704.6,991.7M688.1,999.3L708,999.7M727.8,1000.1L708,999.7M692.4,1003.5L710.1,1001.8M727.8,1000.1L710.1,1001.8M698.3,960.4L713.5,956.2M728.7,952L713.5,956.2M713.5,974.8L731.5,973.6M749.6,972.4L731.5,973.6M753.8,980.8L737,983.7M723.6,991.7L741.2,989.7M758.9,987.6L741.2,989.7M727.8,1000.1L744.1,997.2M760.5,994.3L744.1,997.2M728.7,952L756,955.5M749.6,972.4L769,974.9M788.4,977.4L769,974.9M753.8,980.8L773.2,982.1M792.6,983.4L773.2,982.1M758.9,987.6L775.8,985.5M792.6,983.4L775.8,985.5M760.5,994.3L778.2,993M749.6,972.4L767.3,970.3M785,968.2L767.3,970.3M797.7,940.3L790.5,949.6M785,968.2L796.5,959.3M807.9,950.4L796.5,959.3M788.4,977.4L804.5,973.2M820.5,969L804.5,973.2M792.6,983.4L808.7,980M824.7,976.6L808.7,980M829,985L812.5,988.4M802.8,945.3L793.1,952.1M788.4,977.4L801.5,968.5M814.6,959.7L801.5,968.5M797.7,940.3L817.2,940.3M836.6,940.3L817.2,940.3M802.8,945.3L822.2,945.3M841.6,945.3L822.2,945.3M807.9,950.4L826.5,951.6M845,952.9L826.5,951.6M814.6,959.7L833.2,960.1M851.8,960.5L833.2,960.1M820.5,969L839.1,969.9M857.7,970.7L839.1,969.9M824.7,976.6L841.2,973.7M857.7,970.7L841.2,973.7M829,985L846.7,982.9M864.4,980.8L846.7,982.9M596,971.4L598.1,974.8M600.3,978.1L598.1,974.8M600.3,978.1L602.8,981.1M605.3,984.1L602.8,981.1M605.3,984.1L607.5,987M609.6,990L607.5,987M609.6,990L611.2,994.6M612.9,999.3L611.2,994.6M612.9,999.3L614.6,1001.8M616.3,1004.3L614.6,1001.8M616.3,1004.3L618.4,1006.8M620.5,1009.4L618.4,1006.8M620.5,1009.4L622.6,1011.1M624.8,1012.8L622.6,1011.1M638.3,975.6L634.5,971.8M638.3,975.6L640.4,979.9M642.5,984.1L640.4,979.9M642.5,984.1L644.6,987M646.7,990L644.6,987M646.7,990L649.7,994.6M652.6,999.3L649.7,994.6M652.6,999.3L656,1004.3M661.9,960.4L664,962.1M666.2,963.8L664,962.1M666.2,963.8L671.7,968.5M677.1,973.1L671.7,968.5M677.1,973.1L679.2,980.2M681.4,987.4L679.2,980.2M681.4,987.4L683.5,989.5M685.6,991.7L683.5,989.5M685.6,991.7L686.9,995.5M688.1,999.3L686.9,995.5M688.1,999.3L690.2,1001.4M692.4,1003.5L690.2,1001.4M698.3,960.4L703.8,962.5M713.5,974.8L711.4,969.7M713.5,974.8L716.9,980.7M723.6,991.7L721.9,989.2M723.6,991.7L725.7,995.9M727.8,1000.1L725.7,995.9M728.7,952L735.8,953.8M749.6,972.4L746.2,964M749.6,972.4L751.7,976.6M753.8,980.8L751.7,976.6M753.8,980.8L756.3,984.2M758.9,987.6L756.3,984.2M758.9,987.6L759.7,991M760.5,994.3L759.7,991M785,968.2L784.2,963.5M785,968.2L786.7,972.8M788.4,977.4L786.7,972.8M788.4,977.4L790.5,980.4M792.6,983.4L790.5,980.4M792.6,983.4L794.3,987.6M797.7,940.3L800.2,942.8M802.8,945.3L800.2,942.8M802.8,945.3L805.3,947.8M807.9,950.4L805.3,947.8M807.9,950.4L811.2,955M814.6,959.7L811.2,955M814.6,959.7L817.5,964.4M820.5,969L817.5,964.4M820.5,969L822.6,972.8M824.7,976.6L822.6,972.8M824.7,976.6L826.9,980.8M829,985L826.9,980.8M836.6,940.3L839.1,942.8M841.6,945.3L839.1,942.8M841.6,945.3L843.3,949.1M845,952.9L843.3,949.1M845,952.9L848.4,956.7M851.8,960.5L848.4,956.7M851.8,960.5L854.8,965.6M857.7,970.7L854.8,965.6M857.7,970.7L861,975.8M864.4,980.8L861,975.8" stroke="#989898" stroke-width="3.9" stroke-linecap="round" fill="none"/><path d="M596,971.4L613.4,969.7M600.3,978.1L619.3,976.9M638.3,975.6L619.3,976.9M605.3,984.1L623.9,984.1M642.5,984.1L623.9,984.1M609.6,990L626,987M642.5,984.1L626,987M612.9,999.3L632.8,999.3M652.6,999.3L632.8,999.3M616.3,1004.3L634.5,1001.8M652.6,999.3L634.5,1001.8M620.5,1009.4L640,1009.4M624.8,1012.8L642.1,1011.1M609.6,990L628.2,990M646.7,990L628.2,990M661.9,960.4L646.3,964.2M638.3,975.6L652.2,969.7M666.2,963.8L652.2,969.7M642.5,984.1L659.8,978.6M677.1,973.1L659.8,978.6M646.7,990L664,988.7M681.4,987.4L664,988.7M652.6,999.3L669.1,995.5M685.6,991.7L669.1,995.5M692.4,1003.5L675.9,1006.5M666.2,963.8L648.5,965.9M688.1,999.3L673.8,1004.3M661.9,960.4L680.1,960.4M698.3,960.4L680.1,960.4M666.2,963.8L687.7,964.2M677.1,973.1L695.3,974M713.5,974.8L695.3,974M681.4,987.4L700.8,987M685.6,991.7L704.6,991.7M723.6,991.7L704.6,991.7M688.1,999.3L708,999.7M727.8,1000.1L708,999.7M692.4,1003.5L710.1,1001.8M727.8,1000.1L710.1,1001.8M698.3,960.4L713.5,956.2M728.7,952L713.5,956.2M713.5,974.8L731.5,973.6M749.6,972.4L731.5,973.6M753.8,980.8L737,983.7M723.6,991.7L741.2,989.7M758.9,987.6L741.2,989.7M727.8,1000.1L744.1,997.2M760.5,994.3L744.1,997.2M728.7,952L756,955.5M749.6,972.4L769,974.9M788.4,977.4L769,974.9M753.8,980.8L773.2,982.1M792.6,983.4L773.2,982.1M758.9,987.6L775.8,985.5M792.6,983.4L775.8,985.5M760.5,994.3L778.2,993M749.6,972.4L767.3,970.3M785,968.2L767.3,970.3M797.7,940.3L790.5,949.6M785,968.2L796.5,959.3M807.9,950.4L796.5,959.3M788.4,977.4L804.5,973.2M820.5,969L804.5,973.2M792.6,983.4L808.7,980M824.7,976.6L808.7,980M829,985L812.5,988.4M802.8,945.3L793.1,952.1M788.4,977.4L801.5,968.5M814.6,959.7L801.5,968.5M797.7,940.3L817.2,940.3M836.6,940.3L817.2,940.3M802.8,945.3L822.2,945.3M841.6,945.3L822.2,945.3M807.9,950.4L826.5,951.6M845,952.9L826.5,951.6M814.6,959.7L833.2,960.1M851.8,960.5L833.2,960.1M820.5,969L839.1,969.9M857.7,970.7L839.1,969.9M824.7,976.6L841.2,973.7M857.7,970.7L841.2,973.7M829,985L846.7,982.9M864.4,980.8L846.7,982.9M596,971.4L598.1,974.8M600.3,978.1L598.1,974.8M600.3,978.1L602.8,981.1M605.3,984.1L602.8,981.1M605.3,984.1L607.5,987M609.6,990L607.5,987M609.6,990L611.2,994.6M612.9,999.3L611.2,994.6M612.9,999.3L614.6,1001.8M616.3,1004.3L614.6,1001.8M616.3,1004.3L618.4,1006.8M620.5,1009.4L618.4,1006.8M620.5,1009.4L622.6,1011.1M624.8,1012.8L622.6,1011.1M638.3,975.6L634.5,971.8M638.3,975.6L640.4,979.9M642.5,984.1L640.4,979.9M642.5,984.1L644.6,987M646.7,990L644.6,987M646.7,990L649.7,994.6M652.6,999.3L649.7,994.6M652.6,999.3L656,1004.3M661.9,960.4L664,962.1M666.2,963.8L664,962.1M666.2,963.8L671.7,968.5M677.1,973.1L671.7,968.5M677.1,973.1L679.2,980.2M681.4,987.4L679.2,980.2M681.4,987.4L683.5,989.5M685.6,991.7L683.5,989.5M685.6,991.7L686.9,995.5M688.1,999.3L686.9,995.5M688.1,999.3L690.2,1001.4M692.4,1003.5L690.2,1001.4M698.3,960.4L703.8,962.5M713.5,974.8L711.4,969.7M713.5,974.8L716.9,980.7M723.6,991.7L721.9,989.2M723.6,991.7L725.7,995.9M727.8,1000.1L725.7,995.9M728.7,952L735.8,953.8M749.6,972.4L746.2,964M749.6,972.4L751.7,976.6M753.8,980.8L751.7,976.6M753.8,980.8L756.3,984.2M758.9,987.6L756.3,984.2M758.9,987.6L759.7,991M760.5,994.3L759.7,991M785,968.2L784.2,963.5M785,968.2L786.7,972.8M788.4,977.4L786.7,972.8M788.4,977.4L790.5,980.4M792.6,983.4L790.5,980.4M792.6,983.4L794.3,987.6M797.7,940.3L800.2,942.8M802.8,945.3L800.2,942.8M802.8,945.3L805.3,947.8M807.9,950.4L805.3,947.8M807.9,950.4L811.2,955M814.6,959.7L811.2,955M814.6,959.7L817.5,964.4M820.5,969L817.5,964.4M820.5,969L822.6,972.8M824.7,976.6L822.6,972.8M824.7,976.6L826.9,980.8M829,985L826.9,980.8M836.6,940.3L839.1,942.8M841.6,945.3L839.1,942.8M841.6,945.3L843.3,949.1M845,952.9L843.3,949.1M845,952.9L848.4,956.7M851.8,960.5L848.4,956.7M851.8,960.5L854.8,965.6M857.7,970.7L854.8,965.6M857.7,970.7L861,975.8M864.4,980.8L861,975.8" stroke="#c4c4c4" stroke-width="1.8" stroke-linecap="round" fill="none" transform="translate(0,-0.4)"/><path d="M630.7,968L613.4,969.7M659.4,1009.4L640,1009.4M659.4,1009.4L642.1,1011.1M630.7,968L646.3,964.2M659.4,1009.4L675.9,1006.5M630.7,968L648.5,965.9M659.4,1009.4L673.8,1004.3M709.2,964.6L687.7,964.2M720.2,986.6L700.8,987M709.2,964.6L726,960M742.8,955.5L726,960M720.2,986.6L737,983.7M783.4,958.9L756,955.5M742.8,955.5L763.1,957.2M783.4,958.9L763.1,957.2M796,991.8L778.2,993M783.4,958.9L790.5,949.6M796,991.8L812.5,988.4M783.4,958.9L793.1,952.1M630.7,968L634.5,971.8M659.4,1009.4L656,1004.3M709.2,964.6L703.8,962.5M709.2,964.6L711.4,969.7M720.2,986.6L716.9,980.7M720.2,986.6L721.9,989.2M742.8,955.5L735.8,953.8M742.8,955.5L746.2,964M783.4,958.9L784.2,963.5M796,991.8L794.3,987.6" stroke="#6a10c0" stroke-width="3.9" stroke-linecap="butt" fill="none"/><path d="M630.7,968L613.4,969.7M659.4,1009.4L640,1009.4M659.4,1009.4L642.1,1011.1M630.7,968L646.3,964.2M659.4,1009.4L675.9,1006.5M630.7,968L648.5,965.9M659.4,1009.4L673.8,1004.3M709.2,964.6L687.7,964.2M720.2,986.6L700.8,987M709.2,964.6L726,960M742.8,955.5L726,960M720.2,986.6L737,983.7M783.4,958.9L756,955.5M742.8,955.5L763.1,957.2M783.4,958.9L763.1,957.2M796,991.8L778.2,993M783.4,958.9L790.5,949.6M796,991.8L812.5,988.4M783.4,958.9L793.1,952.1M630.7,968L634.5,971.8M659.4,1009.4L656,1004.3M709.2,964.6L703.8,962.5M709.2,964.6L711.4,969.7M720.2,986.6L716.9,980.7M720.2,986.6L721.9,989.2M742.8,955.5L735.8,953.8M742.8,955.5L746.2,964M783.4,958.9L784.2,963.5M796,991.8L794.3,987.6" stroke="#8c24e6" stroke-width="1.8" stroke-linecap="butt" fill="none" transform="translate(0,-0.4)"/><circle cx="797.7" cy="940.3" r="6.9" fill="url(#gGray)"/><circle cx="836.6" cy="940.3" r="6.9" fill="url(#gGray)"/><circle cx="802.8" cy="945.3" r="7" fill="url(#gGray)"/><circle cx="841.6" cy="945.3" r="7" fill="url(#gGray)"/><circle cx="807.9" cy="950.4" r="7" fill="url(#gGray)"/><circle cx="728.7" cy="952" r="7.1" fill="url(#gGray)"/><circle cx="845" cy="952.9" r="7.1" fill="url(#gGray)"/><circle cx="742.8" cy="955.5" r="7.3" fill="url(#gPur)"/><circle cx="783.4" cy="958.9" r="7.3" fill="url(#gPur)"/><circle cx="814.6" cy="959.7" r="7.2" fill="url(#gGray)"/><circle cx="661.9" cy="960.4" r="7.2" fill="url(#gGray)"/><circle cx="698.3" cy="960.4" r="7.2" fill="url(#gGray)"/><circle cx="851.8" cy="960.5" r="7.2" fill="url(#gGray)"/><circle cx="666.2" cy="963.8" r="7.2" fill="url(#gGray)"/><circle cx="709.2" cy="964.6" r="7.4" fill="url(#gPur)"/><circle cx="630.7" cy="968" r="7.4" fill="url(#gPur)"/><circle cx="785" cy="968.2" r="7.3" fill="url(#gGray)"/><circle cx="820.5" cy="969" r="7.3" fill="url(#gGray)"/><circle cx="857.7" cy="970.7" r="7.3" fill="url(#gGray)"/><circle cx="596" cy="971.4" r="7.3" fill="url(#gGray)"/><circle cx="749.6" cy="972.4" r="7.4" fill="url(#gGray)"/><circle cx="677.1" cy="973.1" r="7.4" fill="url(#gGray)"/><circle cx="713.5" cy="974.8" r="7.4" fill="url(#gGray)"/><circle cx="638.3" cy="975.6" r="7.4" fill="url(#gGray)"/><circle cx="824.7" cy="976.6" r="7.4" fill="url(#gGray)"/><circle cx="788.4" cy="977.4" r="7.4" fill="url(#gGray)"/><circle cx="600.3" cy="978.1" r="7.4" fill="url(#gGray)"/><circle cx="753.8" cy="980.8" r="7.5" fill="url(#gGray)"/><circle cx="864.4" cy="980.8" r="7.5" fill="url(#gGray)"/><circle cx="792.6" cy="983.4" r="7.5" fill="url(#gGray)"/><circle cx="605.3" cy="984.1" r="7.5" fill="url(#gGray)"/><circle cx="642.5" cy="984.1" r="7.5" fill="url(#gGray)"/><circle cx="829" cy="985" r="7.5" fill="url(#gGray)"/><circle cx="720.2" cy="986.6" r="7.7" fill="url(#gPur)"/><circle cx="681.4" cy="987.4" r="7.6" fill="url(#gGray)"/><circle cx="758.9" cy="987.6" r="7.6" fill="url(#gGray)"/><circle cx="609.6" cy="990" r="7.6" fill="url(#gGray)"/><circle cx="646.7" cy="990" r="7.6" fill="url(#gGray)"/><circle cx="685.6" cy="991.7" r="7.6" fill="url(#gGray)"/><circle cx="723.6" cy="991.7" r="7.6" fill="url(#gGray)"/><circle cx="796" cy="991.8" r="7.8" fill="url(#gPur)"/><circle cx="760.5" cy="994.3" r="7.7" fill="url(#gGray)"/><circle cx="612.9" cy="999.3" r="7.7" fill="url(#gGray)"/><circle cx="652.6" cy="999.3" r="7.7" fill="url(#gGray)"/><circle cx="688.1" cy="999.3" r="7.7" fill="url(#gGray)"/><circle cx="727.8" cy="1000.1" r="7.8" fill="url(#gGray)"/><circle cx="692.4" cy="1003.5" r="7.8" fill="url(#gGray)"/><circle cx="616.3" cy="1004.3" r="7.8" fill="url(#gGray)"/><circle cx="620.5" cy="1009.4" r="7.9" fill="url(#gGray)"/><circle cx="659.4" cy="1009.4" r="8" fill="url(#gPur)"/><circle cx="624.8" cy="1012.8" r="7.9" fill="url(#gGray)"/><path d="M824,948.5L836,945.5M841,975.5L853,972" stroke="#6a10c0" stroke-width="3.4"/><path d="M740,930L711,963" stroke="#6a10c0" stroke-width="4.2" stroke-linecap="round"/><path d="M740,930L727,945" stroke="#3858d8" stroke-width="4.2" stroke-linecap="round"/><path d="M740,934L743.5,955" stroke="#6a10c0" stroke-width="3.8" stroke-linecap="round"/><path d="M744,930L780,956" stroke="#6a10c0" stroke-width="4" stroke-linecap="round"/><path d="M744,930L762,943" stroke="#3858d8" stroke-width="4" stroke-linecap="round"/><circle cx="710.8" cy="963.5" r="6.2" fill="url(#gPur)"/><circle cx="743" cy="955.5" r="5.8" fill="url(#gPur)"/><circle cx="743.5" cy="954.5" r="2.6" fill="url(#gOr)"/><ellipse cx="774.6" cy="955" rx="9" ry="8" transform="rotate(0 774.6 955)" fill="url(#gCyS)" fill-opacity="1"/><circle cx="792.6" cy="954" r="2.4" fill="url(#gYe)"/><circle cx="778" cy="975" r="2.2" fill="url(#gYe)"/><clipPath id="cb3"><path d="M641.5,785.3C646.5,785.6 652.6,787 657.4,789.3C662.1,791.5 666,795.1 670,798.8C674,802.5 677.7,806.9 681.1,811.4C684.5,815.9 687.4,820.7 690.6,825.7C693.8,830.7 697.2,837.3 700.1,841.5C703,845.7 706.5,846.2 708.1,851C709.7,855.8 710.7,863.1 709.6,870C708.5,876.9 705.7,887.7 701.7,892.2C697.8,896.7 692.2,894.9 685.9,897C679.6,899.1 671.6,902.8 663.7,904.9C655.8,907 646.6,909.3 638.4,909.6C630.2,909.9 621.7,908.9 614.6,906.5C607.5,904.1 600.4,899.9 595.6,895.4C590.9,890.9 588.3,884.8 586.1,879.5C583.9,874.2 582.9,869.2 582.6,863.7C582.3,858.2 583.1,852.4 584.5,846.3C585.9,840.2 588.2,833.4 590.8,827.3C593.4,821.2 596.6,815.1 600.3,809.8C604,804.5 608.5,799.3 613,795.6C617.5,791.9 622.5,789.4 627.3,787.7C632,786 636.5,785 641.5,785.3Z"/></clipPath><path d="M641.5,785.3C646.5,785.6 652.6,787 657.4,789.3C662.1,791.5 666,795.1 670,798.8C674,802.5 677.7,806.9 681.1,811.4C684.5,815.9 687.4,820.7 690.6,825.7C693.8,830.7 697.2,837.3 700.1,841.5C703,845.7 706.5,846.2 708.1,851C709.7,855.8 710.7,863.1 709.6,870C708.5,876.9 705.7,887.7 701.7,892.2C697.8,896.7 692.2,894.9 685.9,897C679.6,899.1 671.6,902.8 663.7,904.9C655.8,907 646.6,909.3 638.4,909.6C630.2,909.9 621.7,908.9 614.6,906.5C607.5,904.1 600.4,899.9 595.6,895.4C590.9,890.9 588.3,884.8 586.1,879.5C583.9,874.2 582.9,869.2 582.6,863.7C582.3,858.2 583.1,852.4 584.5,846.3C585.9,840.2 588.2,833.4 590.8,827.3C593.4,821.2 596.6,815.1 600.3,809.8C604,804.5 608.5,799.3 613,795.6C617.5,791.9 622.5,789.4 627.3,787.7C632,786 636.5,785 641.5,785.3Z" fill="url(#gCy)"/><g clip-path="url(#cb3)"><path d="M641.5,785.3C646.5,785.6 652.6,787 657.4,789.3C662.1,791.5 666,795.1 670,798.8C674,802.5 677.7,806.9 681.1,811.4C684.5,815.9 687.4,820.7 690.6,825.7C693.8,830.7 697.2,837.3 700.1,841.5C703,845.7 706.5,846.2 708.1,851C709.7,855.8 710.7,863.1 709.6,870C708.5,876.9 705.7,887.7 701.7,892.2C697.8,896.7 692.2,894.9 685.9,897C679.6,899.1 671.6,902.8 663.7,904.9C655.8,907 646.6,909.3 638.4,909.6C630.2,909.9 621.7,908.9 614.6,906.5C607.5,904.1 600.4,899.9 595.6,895.4C590.9,890.9 588.3,884.8 586.1,879.5C583.9,874.2 582.9,869.2 582.6,863.7C582.3,858.2 583.1,852.4 584.5,846.3C585.9,840.2 588.2,833.4 590.8,827.3C593.4,821.2 596.6,815.1 600.3,809.8C604,804.5 608.5,799.3 613,795.6C617.5,791.9 622.5,789.4 627.3,787.7C632,786 636.5,785 641.5,785.3Z" fill="none" stroke="#0f969c" stroke-width="7" stroke-opacity="0.75" style="filter:blur(2.6px)"/></g><path d="M644.7,855L640.3,823.3" stroke="#84e8ea" stroke-width="3.1" stroke-linecap="round"/><path d="M644.7,855L623.3,869.3" stroke="#84e8ea" stroke-width="3.1" stroke-linecap="round"/><path d="M644.7,855L641.5,864.5" stroke="#84e8ea" stroke-width="3.1" stroke-linecap="round"/><path d="M644.7,855L668,860.7" stroke="#84e8ea" stroke-width="3.2" stroke-linecap="round"/><path d="M666.9,860.5L679,863.2" stroke="#1e9ae0" stroke-width="3.2" stroke-linecap="round"/><circle cx="640.3" cy="823.3" r="4.6" fill="url(#gMol)"/><circle cx="623.3" cy="869.3" r="4.8" fill="url(#gMol)"/><circle cx="641.5" cy="864.5" r="3.6" fill="url(#gMol)"/><circle cx="644.7" cy="855" r="7.4" fill="url(#gMol)"/><ellipse cx="689.5" cy="866.5" rx="12" ry="15" transform="rotate(0 689.5 866.5)" fill="url(#gCyB)" fill-opacity="1"/><clipPath id="cb4"><path d="M735,880C737.7,880.2 741,881.7 742,884C743,886.3 742.5,891.5 741,894C739.5,896.5 735,897 733,899C731,901 729.2,903.5 729,906C728.8,908.5 730.8,911.3 732,914C733.2,916.7 736.3,919.8 736,922C735.7,924.2 732.3,926.7 730,927C727.7,927.3 724.3,926 722,924C719.7,922 717.2,918.5 716,915C714.8,911.5 714.5,907 715,903C715.5,899 717.2,894.3 719,891C720.8,887.7 723.3,884.8 726,883C728.7,881.2 732.3,879.8 735,880Z"/></clipPath><path d="M735,880C737.7,880.2 741,881.7 742,884C743,886.3 742.5,891.5 741,894C739.5,896.5 735,897 733,899C731,901 729.2,903.5 729,906C728.8,908.5 730.8,911.3 732,914C733.2,916.7 736.3,919.8 736,922C735.7,924.2 732.3,926.7 730,927C727.7,927.3 724.3,926 722,924C719.7,922 717.2,918.5 716,915C714.8,911.5 714.5,907 715,903C715.5,899 717.2,894.3 719,891C720.8,887.7 723.3,884.8 726,883C728.7,881.2 732.3,879.8 735,880Z" fill="url(#gCy)"/><g clip-path="url(#cb4)"><path d="M735,880C737.7,880.2 741,881.7 742,884C743,886.3 742.5,891.5 741,894C739.5,896.5 735,897 733,899C731,901 729.2,903.5 729,906C728.8,908.5 730.8,911.3 732,914C733.2,916.7 736.3,919.8 736,922C735.7,924.2 732.3,926.7 730,927C727.7,927.3 724.3,926 722,924C719.7,922 717.2,918.5 716,915C714.8,911.5 714.5,907 715,903C715.5,899 717.2,894.3 719,891C720.8,887.7 723.3,884.8 726,883C728.7,881.2 732.3,879.8 735,880Z" fill="none" stroke="#0f969c" stroke-width="4" stroke-opacity="0.55" style="filter:blur(1.6px)"/></g><ellipse cx="730.4" cy="868.2" rx="12" ry="13" transform="rotate(0 730.4 868.2)" fill="url(#gCyB)" fill-opacity="1"/><ellipse cx="712.6" cy="871" rx="12.5" ry="23" transform="rotate(8 712.6 871)" fill="url(#gYeO)" fill-opacity="1"/><ellipse cx="773" cy="866" rx="10" ry="10" transform="rotate(0 773 866)" fill="url(#gCyS)" fill-opacity="1"/><ellipse cx="766" cy="856" rx="7" ry="5" transform="rotate(0 766 856)" fill="url(#gCyB)" fill-opacity="1"/><ellipse cx="753.3" cy="865" rx="16.5" ry="15.5" transform="rotate(0 753.3 865)" fill="url(#gYeO)" fill-opacity="1"/><ellipse cx="791.5" cy="851" rx="14" ry="12" transform="rotate(-15 791.5 851)" fill="url(#gYe)" fill-opacity="1"/><ellipse cx="758.5" cy="927" rx="8.5" ry="8" transform="rotate(0 758.5 927)" fill="url(#gCyS)" fill-opacity="1"/><ellipse cx="743.5" cy="922.5" rx="14" ry="13.5" transform="rotate(0 743.5 922.5)" fill="url(#gYeO)" fill-opacity="1"/><ellipse cx="734" cy="937" rx="7" ry="5" transform="rotate(0 734 937)" fill="url(#gYe)" fill-opacity="1"/><path d="M740,925L752,934" stroke="#2a4ad8" stroke-width="3" stroke-linecap="round"/></g></g>
</svg>
</body></html>
